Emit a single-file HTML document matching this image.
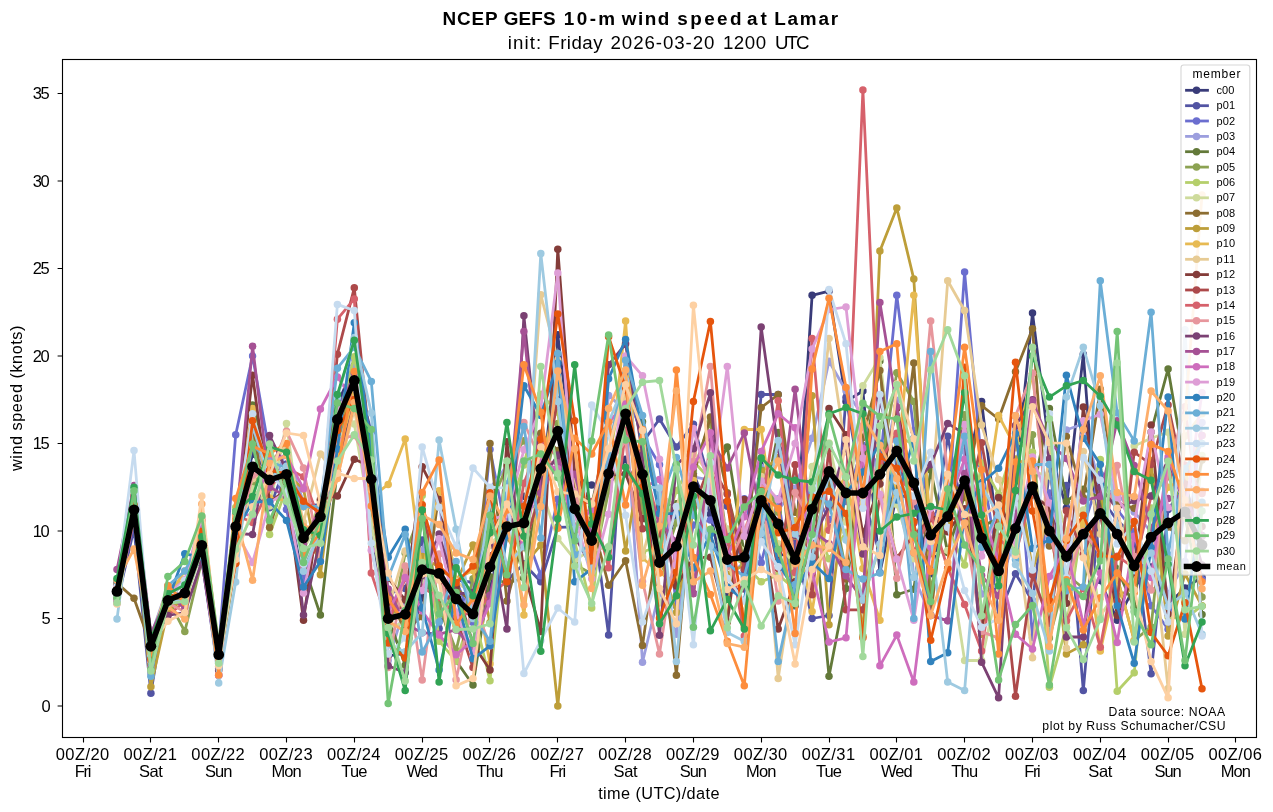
<!DOCTYPE html><html><head><meta charset="utf-8"><title>NCEP GEFS 10-m wind speed at Lamar</title><style>
html,body{margin:0;padding:0;background:#fff}
#fig{position:relative;width:1273px;height:812px;overflow:hidden;background:#fff;font-family:"Liberation Sans",sans-serif;color:#000}
.t{position:absolute;white-space:nowrap;line-height:1}
#tx{position:absolute;left:0;top:0;width:1273px;height:812px;will-change:transform;filter:grayscale(1)}

</style></head><body><div id="fig">
<svg width="1273" height="812" viewBox="0 0 1273 812" style="position:absolute;left:0;top:0">
<defs><clipPath id="c"><rect x="62.5" y="59.5" width="1194.0" height="678.0"/></clipPath></defs>
<g clip-path="url(#c)" fill="none" stroke-linejoin="round" stroke-linecap="square">
<g stroke="#393b79" fill="#393b79"><polyline points="117,588.2 134,511 150.9,650.5 167.9,608.7 184.8,597.9 201.8,529.8 218.7,649.8 235.7,514 252.6,454.4 269.6,472.4 286.5,469.2 303.5,579.1 320.4,505.4 337.4,404.3 354.3,365.4 371.3,520.5 388.2,656 405.2,653.3 422.2,597.7 439.1,569 456.1,599.6 473,600.1 490,588.8 506.9,520.7 523.9,496.2 540.8,500.4 557.8,334.8 574.7,476.4 591.7,485.1 608.6,485.7 625.6,459.2 642.5,505.8 659.5,569.9 676.4,511.9 693.4,473.6 710.4,513.9 727.3,594.7 744.3,586.1 761.2,458.4 778.2,555.1 795.1,554.1 812.1,295.3 829,291.2 846,401.5 862.9,391 879.9,572.6 896.8,494.1 913.8,499.5 930.7,573.7 947.7,499.7 964.6,480.2 981.6,401.5 998.6,543.8 1015.5,481 1032.5,312.9 1049.4,449.1 1066.4,508.1 1083.3,354.2 1100.3,580.5 1117.2,620.2 1134.2,587.4 1151.1,567 1168.1,604.3 1185,587.9 1202,577.2" stroke-width="2.78" fill="none"/>
<circle cx="117" cy="588.2" r="3.75" stroke="none"/><circle cx="134" cy="511" r="3.75" stroke="none"/><circle cx="150.9" cy="650.5" r="3.75" stroke="none"/><circle cx="167.9" cy="608.7" r="3.75" stroke="none"/><circle cx="184.8" cy="597.9" r="3.75" stroke="none"/><circle cx="201.8" cy="529.8" r="3.75" stroke="none"/><circle cx="218.7" cy="649.8" r="3.75" stroke="none"/><circle cx="235.7" cy="514" r="3.75" stroke="none"/><circle cx="252.6" cy="454.4" r="3.75" stroke="none"/><circle cx="269.6" cy="472.4" r="3.75" stroke="none"/><circle cx="286.5" cy="469.2" r="3.75" stroke="none"/><circle cx="303.5" cy="579.1" r="3.75" stroke="none"/><circle cx="320.4" cy="505.4" r="3.75" stroke="none"/><circle cx="337.4" cy="404.3" r="3.75" stroke="none"/><circle cx="354.3" cy="365.4" r="3.75" stroke="none"/><circle cx="371.3" cy="520.5" r="3.75" stroke="none"/><circle cx="388.2" cy="656" r="3.75" stroke="none"/><circle cx="405.2" cy="653.3" r="3.75" stroke="none"/><circle cx="422.2" cy="597.7" r="3.75" stroke="none"/><circle cx="439.1" cy="569" r="3.75" stroke="none"/><circle cx="456.1" cy="599.6" r="3.75" stroke="none"/><circle cx="473" cy="600.1" r="3.75" stroke="none"/><circle cx="490" cy="588.8" r="3.75" stroke="none"/><circle cx="506.9" cy="520.7" r="3.75" stroke="none"/><circle cx="523.9" cy="496.2" r="3.75" stroke="none"/><circle cx="540.8" cy="500.4" r="3.75" stroke="none"/><circle cx="557.8" cy="334.8" r="3.75" stroke="none"/><circle cx="574.7" cy="476.4" r="3.75" stroke="none"/><circle cx="591.7" cy="485.1" r="3.75" stroke="none"/><circle cx="608.6" cy="485.7" r="3.75" stroke="none"/><circle cx="625.6" cy="459.2" r="3.75" stroke="none"/><circle cx="642.5" cy="505.8" r="3.75" stroke="none"/><circle cx="659.5" cy="569.9" r="3.75" stroke="none"/><circle cx="676.4" cy="511.9" r="3.75" stroke="none"/><circle cx="693.4" cy="473.6" r="3.75" stroke="none"/><circle cx="710.4" cy="513.9" r="3.75" stroke="none"/><circle cx="727.3" cy="594.7" r="3.75" stroke="none"/><circle cx="744.3" cy="586.1" r="3.75" stroke="none"/><circle cx="761.2" cy="458.4" r="3.75" stroke="none"/><circle cx="778.2" cy="555.1" r="3.75" stroke="none"/><circle cx="795.1" cy="554.1" r="3.75" stroke="none"/><circle cx="812.1" cy="295.3" r="3.75" stroke="none"/><circle cx="829" cy="291.2" r="3.75" stroke="none"/><circle cx="846" cy="401.5" r="3.75" stroke="none"/><circle cx="862.9" cy="391" r="3.75" stroke="none"/><circle cx="879.9" cy="572.6" r="3.75" stroke="none"/><circle cx="896.8" cy="494.1" r="3.75" stroke="none"/><circle cx="913.8" cy="499.5" r="3.75" stroke="none"/><circle cx="930.7" cy="573.7" r="3.75" stroke="none"/><circle cx="947.7" cy="499.7" r="3.75" stroke="none"/><circle cx="964.6" cy="480.2" r="3.75" stroke="none"/><circle cx="981.6" cy="401.5" r="3.75" stroke="none"/><circle cx="998.6" cy="543.8" r="3.75" stroke="none"/><circle cx="1015.5" cy="481" r="3.75" stroke="none"/><circle cx="1032.5" cy="312.9" r="3.75" stroke="none"/><circle cx="1049.4" cy="449.1" r="3.75" stroke="none"/><circle cx="1066.4" cy="508.1" r="3.75" stroke="none"/><circle cx="1083.3" cy="354.2" r="3.75" stroke="none"/><circle cx="1100.3" cy="580.5" r="3.75" stroke="none"/><circle cx="1117.2" cy="620.2" r="3.75" stroke="none"/><circle cx="1134.2" cy="587.4" r="3.75" stroke="none"/><circle cx="1151.1" cy="567" r="3.75" stroke="none"/><circle cx="1168.1" cy="604.3" r="3.75" stroke="none"/><circle cx="1185" cy="587.9" r="3.75" stroke="none"/><circle cx="1202" cy="577.2" r="3.75" stroke="none"/></g>
<g stroke="#5254a3" fill="#5254a3"><polyline points="117,602.9 134,528.7 150.9,693.2 167.9,589.5 184.8,582.1 201.8,559.5 218.7,675.2 235.7,534.1 252.6,491.6 269.6,507.7 286.5,464 303.5,504.6 320.4,505.1 337.4,410.6 354.3,368.4 371.3,431.9 388.2,593.6 405.2,588.6 422.2,540.1 439.1,628.5 456.1,580 473,582.3 490,510 506.9,580.7 523.9,563.7 540.8,581.8 557.8,527.3 574.7,526.8 591.7,506.9 608.6,635.1 625.6,375.2 642.5,442.6 659.5,419 676.4,447 693.4,424.2 710.4,484.6 727.3,506.3 744.3,570.4 761.2,394.5 778.2,394.5 795.1,546.4 812.1,618.5 829,615.5 846,397.6 862.9,494.9 879.9,554.3 896.8,478.9 913.8,498.1 930.7,551 947.7,436.3 964.6,520.9 981.6,482.4 998.6,615.7 1015.5,573.7 1032.5,601 1049.4,473.1 1066.4,485.5 1083.3,690.6 1100.3,497.4 1117.2,520.3 1134.2,536.6 1151.1,673.8 1168.1,509.6 1185,485.7 1202,535.5" stroke-width="2.78" fill="none"/>
<circle cx="117" cy="602.9" r="3.75" stroke="none"/><circle cx="134" cy="528.7" r="3.75" stroke="none"/><circle cx="150.9" cy="693.2" r="3.75" stroke="none"/><circle cx="167.9" cy="589.5" r="3.75" stroke="none"/><circle cx="184.8" cy="582.1" r="3.75" stroke="none"/><circle cx="201.8" cy="559.5" r="3.75" stroke="none"/><circle cx="218.7" cy="675.2" r="3.75" stroke="none"/><circle cx="235.7" cy="534.1" r="3.75" stroke="none"/><circle cx="252.6" cy="491.6" r="3.75" stroke="none"/><circle cx="269.6" cy="507.7" r="3.75" stroke="none"/><circle cx="286.5" cy="464" r="3.75" stroke="none"/><circle cx="303.5" cy="504.6" r="3.75" stroke="none"/><circle cx="320.4" cy="505.1" r="3.75" stroke="none"/><circle cx="337.4" cy="410.6" r="3.75" stroke="none"/><circle cx="354.3" cy="368.4" r="3.75" stroke="none"/><circle cx="371.3" cy="431.9" r="3.75" stroke="none"/><circle cx="388.2" cy="593.6" r="3.75" stroke="none"/><circle cx="405.2" cy="588.6" r="3.75" stroke="none"/><circle cx="422.2" cy="540.1" r="3.75" stroke="none"/><circle cx="439.1" cy="628.5" r="3.75" stroke="none"/><circle cx="456.1" cy="580" r="3.75" stroke="none"/><circle cx="473" cy="582.3" r="3.75" stroke="none"/><circle cx="490" cy="510" r="3.75" stroke="none"/><circle cx="506.9" cy="580.7" r="3.75" stroke="none"/><circle cx="523.9" cy="563.7" r="3.75" stroke="none"/><circle cx="540.8" cy="581.8" r="3.75" stroke="none"/><circle cx="557.8" cy="527.3" r="3.75" stroke="none"/><circle cx="574.7" cy="526.8" r="3.75" stroke="none"/><circle cx="591.7" cy="506.9" r="3.75" stroke="none"/><circle cx="608.6" cy="635.1" r="3.75" stroke="none"/><circle cx="625.6" cy="375.2" r="3.75" stroke="none"/><circle cx="642.5" cy="442.6" r="3.75" stroke="none"/><circle cx="659.5" cy="419" r="3.75" stroke="none"/><circle cx="676.4" cy="447" r="3.75" stroke="none"/><circle cx="693.4" cy="424.2" r="3.75" stroke="none"/><circle cx="710.4" cy="484.6" r="3.75" stroke="none"/><circle cx="727.3" cy="506.3" r="3.75" stroke="none"/><circle cx="744.3" cy="570.4" r="3.75" stroke="none"/><circle cx="761.2" cy="394.5" r="3.75" stroke="none"/><circle cx="778.2" cy="394.5" r="3.75" stroke="none"/><circle cx="795.1" cy="546.4" r="3.75" stroke="none"/><circle cx="812.1" cy="618.5" r="3.75" stroke="none"/><circle cx="829" cy="615.5" r="3.75" stroke="none"/><circle cx="846" cy="397.6" r="3.75" stroke="none"/><circle cx="862.9" cy="494.9" r="3.75" stroke="none"/><circle cx="879.9" cy="554.3" r="3.75" stroke="none"/><circle cx="896.8" cy="478.9" r="3.75" stroke="none"/><circle cx="913.8" cy="498.1" r="3.75" stroke="none"/><circle cx="930.7" cy="551" r="3.75" stroke="none"/><circle cx="947.7" cy="436.3" r="3.75" stroke="none"/><circle cx="964.6" cy="520.9" r="3.75" stroke="none"/><circle cx="981.6" cy="482.4" r="3.75" stroke="none"/><circle cx="998.6" cy="615.7" r="3.75" stroke="none"/><circle cx="1015.5" cy="573.7" r="3.75" stroke="none"/><circle cx="1032.5" cy="601" r="3.75" stroke="none"/><circle cx="1049.4" cy="473.1" r="3.75" stroke="none"/><circle cx="1066.4" cy="485.5" r="3.75" stroke="none"/><circle cx="1083.3" cy="690.6" r="3.75" stroke="none"/><circle cx="1100.3" cy="497.4" r="3.75" stroke="none"/><circle cx="1117.2" cy="520.3" r="3.75" stroke="none"/><circle cx="1134.2" cy="536.6" r="3.75" stroke="none"/><circle cx="1151.1" cy="673.8" r="3.75" stroke="none"/><circle cx="1168.1" cy="509.6" r="3.75" stroke="none"/><circle cx="1185" cy="485.7" r="3.75" stroke="none"/><circle cx="1202" cy="535.5" r="3.75" stroke="none"/></g>
<g stroke="#6b6ecf" fill="#6b6ecf"><polyline points="117,586 134,492.3 150.9,636.9 167.9,602.2 184.8,597.5 201.8,546.4 218.7,648.2 235.7,434.8 252.6,356 269.6,453.6 286.5,509.6 303.5,580.7 320.4,520.7 337.4,410.8 354.3,373 371.3,488.6 388.2,605 405.2,600.3 422.2,583.9 439.1,491.8 456.1,580 473,622.4 490,449.6 506.9,534.9 523.9,527.9 540.8,575.8 557.8,499 574.7,484.4 591.7,566.2 608.6,487.9 625.6,388.6 642.5,436 659.5,464.7 676.4,606.1 693.4,525 710.4,520 727.3,537.8 744.3,498.8 761.2,562.7 778.2,499.1 795.1,605.9 812.1,487.6 829,519.6 846,501.4 862.9,445.2 879.9,465.9 896.8,295.3 913.8,430.7 930.7,513.5 947.7,516.5 964.6,272 981.6,464.7 998.6,567 1015.5,415.7 1032.5,637.8 1049.4,493 1066.4,559 1083.3,527.1 1100.3,474.3 1117.2,509.5 1134.2,531.7 1151.1,605.7 1168.1,629.2 1185,505.4 1202,579.6" stroke-width="2.78" fill="none"/>
<circle cx="117" cy="586" r="3.75" stroke="none"/><circle cx="134" cy="492.3" r="3.75" stroke="none"/><circle cx="150.9" cy="636.9" r="3.75" stroke="none"/><circle cx="167.9" cy="602.2" r="3.75" stroke="none"/><circle cx="184.8" cy="597.5" r="3.75" stroke="none"/><circle cx="201.8" cy="546.4" r="3.75" stroke="none"/><circle cx="218.7" cy="648.2" r="3.75" stroke="none"/><circle cx="235.7" cy="434.8" r="3.75" stroke="none"/><circle cx="252.6" cy="356" r="3.75" stroke="none"/><circle cx="269.6" cy="453.6" r="3.75" stroke="none"/><circle cx="286.5" cy="509.6" r="3.75" stroke="none"/><circle cx="303.5" cy="580.7" r="3.75" stroke="none"/><circle cx="320.4" cy="520.7" r="3.75" stroke="none"/><circle cx="337.4" cy="410.8" r="3.75" stroke="none"/><circle cx="354.3" cy="373" r="3.75" stroke="none"/><circle cx="371.3" cy="488.6" r="3.75" stroke="none"/><circle cx="388.2" cy="605" r="3.75" stroke="none"/><circle cx="405.2" cy="600.3" r="3.75" stroke="none"/><circle cx="422.2" cy="583.9" r="3.75" stroke="none"/><circle cx="439.1" cy="491.8" r="3.75" stroke="none"/><circle cx="456.1" cy="580" r="3.75" stroke="none"/><circle cx="473" cy="622.4" r="3.75" stroke="none"/><circle cx="490" cy="449.6" r="3.75" stroke="none"/><circle cx="506.9" cy="534.9" r="3.75" stroke="none"/><circle cx="523.9" cy="527.9" r="3.75" stroke="none"/><circle cx="540.8" cy="575.8" r="3.75" stroke="none"/><circle cx="557.8" cy="499" r="3.75" stroke="none"/><circle cx="574.7" cy="484.4" r="3.75" stroke="none"/><circle cx="591.7" cy="566.2" r="3.75" stroke="none"/><circle cx="608.6" cy="487.9" r="3.75" stroke="none"/><circle cx="625.6" cy="388.6" r="3.75" stroke="none"/><circle cx="642.5" cy="436" r="3.75" stroke="none"/><circle cx="659.5" cy="464.7" r="3.75" stroke="none"/><circle cx="676.4" cy="606.1" r="3.75" stroke="none"/><circle cx="693.4" cy="525" r="3.75" stroke="none"/><circle cx="710.4" cy="520" r="3.75" stroke="none"/><circle cx="727.3" cy="537.8" r="3.75" stroke="none"/><circle cx="744.3" cy="498.8" r="3.75" stroke="none"/><circle cx="761.2" cy="562.7" r="3.75" stroke="none"/><circle cx="778.2" cy="499.1" r="3.75" stroke="none"/><circle cx="795.1" cy="605.9" r="3.75" stroke="none"/><circle cx="812.1" cy="487.6" r="3.75" stroke="none"/><circle cx="829" cy="519.6" r="3.75" stroke="none"/><circle cx="846" cy="501.4" r="3.75" stroke="none"/><circle cx="862.9" cy="445.2" r="3.75" stroke="none"/><circle cx="879.9" cy="465.9" r="3.75" stroke="none"/><circle cx="896.8" cy="295.3" r="3.75" stroke="none"/><circle cx="913.8" cy="430.7" r="3.75" stroke="none"/><circle cx="930.7" cy="513.5" r="3.75" stroke="none"/><circle cx="947.7" cy="516.5" r="3.75" stroke="none"/><circle cx="964.6" cy="272" r="3.75" stroke="none"/><circle cx="981.6" cy="464.7" r="3.75" stroke="none"/><circle cx="998.6" cy="567" r="3.75" stroke="none"/><circle cx="1015.5" cy="415.7" r="3.75" stroke="none"/><circle cx="1032.5" cy="637.8" r="3.75" stroke="none"/><circle cx="1049.4" cy="493" r="3.75" stroke="none"/><circle cx="1066.4" cy="559" r="3.75" stroke="none"/><circle cx="1083.3" cy="527.1" r="3.75" stroke="none"/><circle cx="1100.3" cy="474.3" r="3.75" stroke="none"/><circle cx="1117.2" cy="509.5" r="3.75" stroke="none"/><circle cx="1134.2" cy="531.7" r="3.75" stroke="none"/><circle cx="1151.1" cy="605.7" r="3.75" stroke="none"/><circle cx="1168.1" cy="629.2" r="3.75" stroke="none"/><circle cx="1185" cy="505.4" r="3.75" stroke="none"/><circle cx="1202" cy="579.6" r="3.75" stroke="none"/></g>
<g stroke="#9c9ede" fill="#9c9ede"><polyline points="117,603.3 134,501.9 150.9,636 167.9,586.8 184.8,598.4 201.8,546.4 218.7,667.7 235.7,521.7 252.6,428.3 269.6,489.7 286.5,451.2 303.5,502.3 320.4,512.8 337.4,471.3 354.3,359.1 371.3,475.5 388.2,660.5 405.2,605.9 422.2,550.8 439.1,502.5 456.1,619.4 473,587.7 490,488.3 506.9,465.5 523.9,505.3 540.8,507.4 557.8,379.3 574.7,497.6 591.7,532.6 608.6,395.4 625.6,410.8 642.5,662.2 659.5,591 676.4,634.2 693.4,476.8 710.4,480.1 727.3,576.9 744.3,562.3 761.2,467.6 778.2,510 795.1,488.3 812.1,438.2 829,361.2 846,390.7 862.9,415.9 879.9,483.4 896.8,400.3 913.8,577 930.7,615 947.7,620.8 964.6,451 981.6,594 998.6,584 1015.5,540.1 1032.5,492 1049.4,545 1066.4,430 1083.3,423.7 1100.3,486.9 1117.2,494.2 1134.2,511.9 1151.1,531.9 1168.1,594.2 1185,561.6 1202,422.5" stroke-width="2.78" fill="none"/>
<circle cx="117" cy="603.3" r="3.75" stroke="none"/><circle cx="134" cy="501.9" r="3.75" stroke="none"/><circle cx="150.9" cy="636" r="3.75" stroke="none"/><circle cx="167.9" cy="586.8" r="3.75" stroke="none"/><circle cx="184.8" cy="598.4" r="3.75" stroke="none"/><circle cx="201.8" cy="546.4" r="3.75" stroke="none"/><circle cx="218.7" cy="667.7" r="3.75" stroke="none"/><circle cx="235.7" cy="521.7" r="3.75" stroke="none"/><circle cx="252.6" cy="428.3" r="3.75" stroke="none"/><circle cx="269.6" cy="489.7" r="3.75" stroke="none"/><circle cx="286.5" cy="451.2" r="3.75" stroke="none"/><circle cx="303.5" cy="502.3" r="3.75" stroke="none"/><circle cx="320.4" cy="512.8" r="3.75" stroke="none"/><circle cx="337.4" cy="471.3" r="3.75" stroke="none"/><circle cx="354.3" cy="359.1" r="3.75" stroke="none"/><circle cx="371.3" cy="475.5" r="3.75" stroke="none"/><circle cx="388.2" cy="660.5" r="3.75" stroke="none"/><circle cx="405.2" cy="605.9" r="3.75" stroke="none"/><circle cx="422.2" cy="550.8" r="3.75" stroke="none"/><circle cx="439.1" cy="502.5" r="3.75" stroke="none"/><circle cx="456.1" cy="619.4" r="3.75" stroke="none"/><circle cx="473" cy="587.7" r="3.75" stroke="none"/><circle cx="490" cy="488.3" r="3.75" stroke="none"/><circle cx="506.9" cy="465.5" r="3.75" stroke="none"/><circle cx="523.9" cy="505.3" r="3.75" stroke="none"/><circle cx="540.8" cy="507.4" r="3.75" stroke="none"/><circle cx="557.8" cy="379.3" r="3.75" stroke="none"/><circle cx="574.7" cy="497.6" r="3.75" stroke="none"/><circle cx="591.7" cy="532.6" r="3.75" stroke="none"/><circle cx="608.6" cy="395.4" r="3.75" stroke="none"/><circle cx="625.6" cy="410.8" r="3.75" stroke="none"/><circle cx="642.5" cy="662.2" r="3.75" stroke="none"/><circle cx="659.5" cy="591" r="3.75" stroke="none"/><circle cx="676.4" cy="634.2" r="3.75" stroke="none"/><circle cx="693.4" cy="476.8" r="3.75" stroke="none"/><circle cx="710.4" cy="480.1" r="3.75" stroke="none"/><circle cx="727.3" cy="576.9" r="3.75" stroke="none"/><circle cx="744.3" cy="562.3" r="3.75" stroke="none"/><circle cx="761.2" cy="467.6" r="3.75" stroke="none"/><circle cx="778.2" cy="510" r="3.75" stroke="none"/><circle cx="795.1" cy="488.3" r="3.75" stroke="none"/><circle cx="812.1" cy="438.2" r="3.75" stroke="none"/><circle cx="829" cy="361.2" r="3.75" stroke="none"/><circle cx="846" cy="390.7" r="3.75" stroke="none"/><circle cx="862.9" cy="415.9" r="3.75" stroke="none"/><circle cx="879.9" cy="483.4" r="3.75" stroke="none"/><circle cx="896.8" cy="400.3" r="3.75" stroke="none"/><circle cx="913.8" cy="577" r="3.75" stroke="none"/><circle cx="930.7" cy="615" r="3.75" stroke="none"/><circle cx="947.7" cy="620.8" r="3.75" stroke="none"/><circle cx="964.6" cy="451" r="3.75" stroke="none"/><circle cx="981.6" cy="594" r="3.75" stroke="none"/><circle cx="998.6" cy="584" r="3.75" stroke="none"/><circle cx="1015.5" cy="540.1" r="3.75" stroke="none"/><circle cx="1032.5" cy="492" r="3.75" stroke="none"/><circle cx="1049.4" cy="545" r="3.75" stroke="none"/><circle cx="1066.4" cy="430" r="3.75" stroke="none"/><circle cx="1083.3" cy="423.7" r="3.75" stroke="none"/><circle cx="1100.3" cy="486.9" r="3.75" stroke="none"/><circle cx="1117.2" cy="494.2" r="3.75" stroke="none"/><circle cx="1134.2" cy="511.9" r="3.75" stroke="none"/><circle cx="1151.1" cy="531.9" r="3.75" stroke="none"/><circle cx="1168.1" cy="594.2" r="3.75" stroke="none"/><circle cx="1185" cy="561.6" r="3.75" stroke="none"/><circle cx="1202" cy="422.5" r="3.75" stroke="none"/></g>
<g stroke="#637939" fill="#637939"><polyline points="117,598.4 134,502.8 150.9,635.8 167.9,598.5 184.8,582.6 201.8,539.4 218.7,666.6 235.7,563 252.6,405 269.6,470.8 286.5,482 303.5,564.1 320.4,615 337.4,469.4 354.3,397.1 371.3,514.9 388.2,617.6 405.2,665.2 422.2,578.4 439.1,601.5 456.1,660.7 473,685 490,576.7 506.9,583.5 523.9,577.7 540.8,472.7 557.8,458.7 574.7,486.2 591.7,505.3 608.6,426.2 625.6,397.8 642.5,421.8 659.5,505.4 676.4,503.7 693.4,593.6 710.4,478.7 727.3,447 744.3,554.5 761.2,515.6 778.2,432.5 795.1,605.2 812.1,500.4 829,676.2 846,588.4 862.9,467.6 879.9,360.9 896.8,594.7 913.8,589.3 930.7,470.1 947.7,552.4 964.6,494.9 981.6,526.1 998.6,518.9 1015.5,517.2 1032.5,495.1 1049.4,408.5 1066.4,501.2 1083.3,489.2 1100.3,498.3 1117.2,569 1134.2,607.5 1151.1,431.9 1168.1,368.9 1185,468.2 1202,614.6" stroke-width="2.78" fill="none"/>
<circle cx="117" cy="598.4" r="3.75" stroke="none"/><circle cx="134" cy="502.8" r="3.75" stroke="none"/><circle cx="150.9" cy="635.8" r="3.75" stroke="none"/><circle cx="167.9" cy="598.5" r="3.75" stroke="none"/><circle cx="184.8" cy="582.6" r="3.75" stroke="none"/><circle cx="201.8" cy="539.4" r="3.75" stroke="none"/><circle cx="218.7" cy="666.6" r="3.75" stroke="none"/><circle cx="235.7" cy="563" r="3.75" stroke="none"/><circle cx="252.6" cy="405" r="3.75" stroke="none"/><circle cx="269.6" cy="470.8" r="3.75" stroke="none"/><circle cx="286.5" cy="482" r="3.75" stroke="none"/><circle cx="303.5" cy="564.1" r="3.75" stroke="none"/><circle cx="320.4" cy="615" r="3.75" stroke="none"/><circle cx="337.4" cy="469.4" r="3.75" stroke="none"/><circle cx="354.3" cy="397.1" r="3.75" stroke="none"/><circle cx="371.3" cy="514.9" r="3.75" stroke="none"/><circle cx="388.2" cy="617.6" r="3.75" stroke="none"/><circle cx="405.2" cy="665.2" r="3.75" stroke="none"/><circle cx="422.2" cy="578.4" r="3.75" stroke="none"/><circle cx="439.1" cy="601.5" r="3.75" stroke="none"/><circle cx="456.1" cy="660.7" r="3.75" stroke="none"/><circle cx="473" cy="685" r="3.75" stroke="none"/><circle cx="490" cy="576.7" r="3.75" stroke="none"/><circle cx="506.9" cy="583.5" r="3.75" stroke="none"/><circle cx="523.9" cy="577.7" r="3.75" stroke="none"/><circle cx="540.8" cy="472.7" r="3.75" stroke="none"/><circle cx="557.8" cy="458.7" r="3.75" stroke="none"/><circle cx="574.7" cy="486.2" r="3.75" stroke="none"/><circle cx="591.7" cy="505.3" r="3.75" stroke="none"/><circle cx="608.6" cy="426.2" r="3.75" stroke="none"/><circle cx="625.6" cy="397.8" r="3.75" stroke="none"/><circle cx="642.5" cy="421.8" r="3.75" stroke="none"/><circle cx="659.5" cy="505.4" r="3.75" stroke="none"/><circle cx="676.4" cy="503.7" r="3.75" stroke="none"/><circle cx="693.4" cy="593.6" r="3.75" stroke="none"/><circle cx="710.4" cy="478.7" r="3.75" stroke="none"/><circle cx="727.3" cy="447" r="3.75" stroke="none"/><circle cx="744.3" cy="554.5" r="3.75" stroke="none"/><circle cx="761.2" cy="515.6" r="3.75" stroke="none"/><circle cx="778.2" cy="432.5" r="3.75" stroke="none"/><circle cx="795.1" cy="605.2" r="3.75" stroke="none"/><circle cx="812.1" cy="500.4" r="3.75" stroke="none"/><circle cx="829" cy="676.2" r="3.75" stroke="none"/><circle cx="846" cy="588.4" r="3.75" stroke="none"/><circle cx="862.9" cy="467.6" r="3.75" stroke="none"/><circle cx="879.9" cy="360.9" r="3.75" stroke="none"/><circle cx="896.8" cy="594.7" r="3.75" stroke="none"/><circle cx="913.8" cy="589.3" r="3.75" stroke="none"/><circle cx="930.7" cy="470.1" r="3.75" stroke="none"/><circle cx="947.7" cy="552.4" r="3.75" stroke="none"/><circle cx="964.6" cy="494.9" r="3.75" stroke="none"/><circle cx="981.6" cy="526.1" r="3.75" stroke="none"/><circle cx="998.6" cy="518.9" r="3.75" stroke="none"/><circle cx="1015.5" cy="517.2" r="3.75" stroke="none"/><circle cx="1032.5" cy="495.1" r="3.75" stroke="none"/><circle cx="1049.4" cy="408.5" r="3.75" stroke="none"/><circle cx="1066.4" cy="501.2" r="3.75" stroke="none"/><circle cx="1083.3" cy="489.2" r="3.75" stroke="none"/><circle cx="1100.3" cy="498.3" r="3.75" stroke="none"/><circle cx="1117.2" cy="569" r="3.75" stroke="none"/><circle cx="1134.2" cy="607.5" r="3.75" stroke="none"/><circle cx="1151.1" cy="431.9" r="3.75" stroke="none"/><circle cx="1168.1" cy="368.9" r="3.75" stroke="none"/><circle cx="1185" cy="468.2" r="3.75" stroke="none"/><circle cx="1202" cy="614.6" r="3.75" stroke="none"/></g>
<g stroke="#8ca252" fill="#8ca252"><polyline points="117,586.8 134,492.5 150.9,636.7 167.9,599.2 184.8,631.5 201.8,560.8 218.7,650.5 235.7,521.7 252.6,484.3 269.6,463.3 286.5,444.6 303.5,560.8 320.4,537.8 337.4,417.8 354.3,375.9 371.3,488.6 388.2,639.9 405.2,553.2 422.2,509.8 439.1,605.9 456.1,650.5 473,578.8 490,507 506.9,465.5 523.9,440.7 540.8,499.5 557.8,423.6 574.7,564.6 591.7,573.7 608.6,490.9 625.6,401.5 642.5,510 659.5,570.9 676.4,522.8 693.4,471 710.4,421.4 727.3,542.2 744.3,565.5 761.2,470.3 778.2,512.3 795.1,586.5 812.1,543.6 829,483.2 846,571.2 862.9,488.1 879.9,472.6 896.8,372.8 913.8,401.5 930.7,590.5 947.7,510.4 964.6,414.8 981.6,501.9 998.6,571.4 1015.5,501.6 1032.5,434.8 1049.4,638.1 1066.4,574.2 1083.3,588.2 1100.3,487.9 1117.2,577.2 1134.2,640.4 1151.1,626.9 1168.1,467.5 1185,517.4 1202,597.1" stroke-width="2.78" fill="none"/>
<circle cx="117" cy="586.8" r="3.75" stroke="none"/><circle cx="134" cy="492.5" r="3.75" stroke="none"/><circle cx="150.9" cy="636.7" r="3.75" stroke="none"/><circle cx="167.9" cy="599.2" r="3.75" stroke="none"/><circle cx="184.8" cy="631.5" r="3.75" stroke="none"/><circle cx="201.8" cy="560.8" r="3.75" stroke="none"/><circle cx="218.7" cy="650.5" r="3.75" stroke="none"/><circle cx="235.7" cy="521.7" r="3.75" stroke="none"/><circle cx="252.6" cy="484.3" r="3.75" stroke="none"/><circle cx="269.6" cy="463.3" r="3.75" stroke="none"/><circle cx="286.5" cy="444.6" r="3.75" stroke="none"/><circle cx="303.5" cy="560.8" r="3.75" stroke="none"/><circle cx="320.4" cy="537.8" r="3.75" stroke="none"/><circle cx="337.4" cy="417.8" r="3.75" stroke="none"/><circle cx="354.3" cy="375.9" r="3.75" stroke="none"/><circle cx="371.3" cy="488.6" r="3.75" stroke="none"/><circle cx="388.2" cy="639.9" r="3.75" stroke="none"/><circle cx="405.2" cy="553.2" r="3.75" stroke="none"/><circle cx="422.2" cy="509.8" r="3.75" stroke="none"/><circle cx="439.1" cy="605.9" r="3.75" stroke="none"/><circle cx="456.1" cy="650.5" r="3.75" stroke="none"/><circle cx="473" cy="578.8" r="3.75" stroke="none"/><circle cx="490" cy="507" r="3.75" stroke="none"/><circle cx="506.9" cy="465.5" r="3.75" stroke="none"/><circle cx="523.9" cy="440.7" r="3.75" stroke="none"/><circle cx="540.8" cy="499.5" r="3.75" stroke="none"/><circle cx="557.8" cy="423.6" r="3.75" stroke="none"/><circle cx="574.7" cy="564.6" r="3.75" stroke="none"/><circle cx="591.7" cy="573.7" r="3.75" stroke="none"/><circle cx="608.6" cy="490.9" r="3.75" stroke="none"/><circle cx="625.6" cy="401.5" r="3.75" stroke="none"/><circle cx="642.5" cy="510" r="3.75" stroke="none"/><circle cx="659.5" cy="570.9" r="3.75" stroke="none"/><circle cx="676.4" cy="522.8" r="3.75" stroke="none"/><circle cx="693.4" cy="471" r="3.75" stroke="none"/><circle cx="710.4" cy="421.4" r="3.75" stroke="none"/><circle cx="727.3" cy="542.2" r="3.75" stroke="none"/><circle cx="744.3" cy="565.5" r="3.75" stroke="none"/><circle cx="761.2" cy="470.3" r="3.75" stroke="none"/><circle cx="778.2" cy="512.3" r="3.75" stroke="none"/><circle cx="795.1" cy="586.5" r="3.75" stroke="none"/><circle cx="812.1" cy="543.6" r="3.75" stroke="none"/><circle cx="829" cy="483.2" r="3.75" stroke="none"/><circle cx="846" cy="571.2" r="3.75" stroke="none"/><circle cx="862.9" cy="488.1" r="3.75" stroke="none"/><circle cx="879.9" cy="472.6" r="3.75" stroke="none"/><circle cx="896.8" cy="372.8" r="3.75" stroke="none"/><circle cx="913.8" cy="401.5" r="3.75" stroke="none"/><circle cx="930.7" cy="590.5" r="3.75" stroke="none"/><circle cx="947.7" cy="510.4" r="3.75" stroke="none"/><circle cx="964.6" cy="414.8" r="3.75" stroke="none"/><circle cx="981.6" cy="501.9" r="3.75" stroke="none"/><circle cx="998.6" cy="571.4" r="3.75" stroke="none"/><circle cx="1015.5" cy="501.6" r="3.75" stroke="none"/><circle cx="1032.5" cy="434.8" r="3.75" stroke="none"/><circle cx="1049.4" cy="638.1" r="3.75" stroke="none"/><circle cx="1066.4" cy="574.2" r="3.75" stroke="none"/><circle cx="1083.3" cy="588.2" r="3.75" stroke="none"/><circle cx="1100.3" cy="487.9" r="3.75" stroke="none"/><circle cx="1117.2" cy="577.2" r="3.75" stroke="none"/><circle cx="1134.2" cy="640.4" r="3.75" stroke="none"/><circle cx="1151.1" cy="626.9" r="3.75" stroke="none"/><circle cx="1168.1" cy="467.5" r="3.75" stroke="none"/><circle cx="1185" cy="517.4" r="3.75" stroke="none"/><circle cx="1202" cy="597.1" r="3.75" stroke="none"/></g>
<g stroke="#b5cf6b" fill="#b5cf6b"><polyline points="117,589.1 134,504.4 150.9,642.8 167.9,588 184.8,580 201.8,541.3 218.7,650 235.7,507.6 252.6,434.6 269.6,534.5 286.5,488.3 303.5,546.6 320.4,500.9 337.4,423.2 354.3,356.7 371.3,455.8 388.2,591.9 405.2,612 422.2,495.6 439.1,641.2 456.1,661.2 473,609.8 490,680.8 506.9,516.3 523.9,464.9 540.8,394.3 557.8,412.3 574.7,541.5 591.7,608 608.6,455.8 625.6,378.8 642.5,552 659.5,546 676.4,490.4 693.4,461.2 710.4,479.7 727.3,552.7 744.3,564.8 761.2,581.8 778.2,574.6 795.1,589.5 812.1,517.9 829,558.8 846,532.2 862.9,600.1 879.9,545.5 896.8,435.4 913.8,444.4 930.7,528.9 947.7,528 964.6,565.1 981.6,463.1 998.6,494.2 1015.5,440.9 1032.5,452.2 1049.4,687.3 1066.4,626.7 1083.3,515.6 1100.3,459.6 1117.2,691.3 1134.2,672.8 1151.1,508.1 1168.1,617.1 1185,618.9 1202,605.7" stroke-width="2.78" fill="none"/>
<circle cx="117" cy="589.1" r="3.75" stroke="none"/><circle cx="134" cy="504.4" r="3.75" stroke="none"/><circle cx="150.9" cy="642.8" r="3.75" stroke="none"/><circle cx="167.9" cy="588" r="3.75" stroke="none"/><circle cx="184.8" cy="580" r="3.75" stroke="none"/><circle cx="201.8" cy="541.3" r="3.75" stroke="none"/><circle cx="218.7" cy="650" r="3.75" stroke="none"/><circle cx="235.7" cy="507.6" r="3.75" stroke="none"/><circle cx="252.6" cy="434.6" r="3.75" stroke="none"/><circle cx="269.6" cy="534.5" r="3.75" stroke="none"/><circle cx="286.5" cy="488.3" r="3.75" stroke="none"/><circle cx="303.5" cy="546.6" r="3.75" stroke="none"/><circle cx="320.4" cy="500.9" r="3.75" stroke="none"/><circle cx="337.4" cy="423.2" r="3.75" stroke="none"/><circle cx="354.3" cy="356.7" r="3.75" stroke="none"/><circle cx="371.3" cy="455.8" r="3.75" stroke="none"/><circle cx="388.2" cy="591.9" r="3.75" stroke="none"/><circle cx="405.2" cy="612" r="3.75" stroke="none"/><circle cx="422.2" cy="495.6" r="3.75" stroke="none"/><circle cx="439.1" cy="641.2" r="3.75" stroke="none"/><circle cx="456.1" cy="661.2" r="3.75" stroke="none"/><circle cx="473" cy="609.8" r="3.75" stroke="none"/><circle cx="490" cy="680.8" r="3.75" stroke="none"/><circle cx="506.9" cy="516.3" r="3.75" stroke="none"/><circle cx="523.9" cy="464.9" r="3.75" stroke="none"/><circle cx="540.8" cy="394.3" r="3.75" stroke="none"/><circle cx="557.8" cy="412.3" r="3.75" stroke="none"/><circle cx="574.7" cy="541.5" r="3.75" stroke="none"/><circle cx="591.7" cy="608" r="3.75" stroke="none"/><circle cx="608.6" cy="455.8" r="3.75" stroke="none"/><circle cx="625.6" cy="378.8" r="3.75" stroke="none"/><circle cx="642.5" cy="552" r="3.75" stroke="none"/><circle cx="659.5" cy="546" r="3.75" stroke="none"/><circle cx="676.4" cy="490.4" r="3.75" stroke="none"/><circle cx="693.4" cy="461.2" r="3.75" stroke="none"/><circle cx="710.4" cy="479.7" r="3.75" stroke="none"/><circle cx="727.3" cy="552.7" r="3.75" stroke="none"/><circle cx="744.3" cy="564.8" r="3.75" stroke="none"/><circle cx="761.2" cy="581.8" r="3.75" stroke="none"/><circle cx="778.2" cy="574.6" r="3.75" stroke="none"/><circle cx="795.1" cy="589.5" r="3.75" stroke="none"/><circle cx="812.1" cy="517.9" r="3.75" stroke="none"/><circle cx="829" cy="558.8" r="3.75" stroke="none"/><circle cx="846" cy="532.2" r="3.75" stroke="none"/><circle cx="862.9" cy="600.1" r="3.75" stroke="none"/><circle cx="879.9" cy="545.5" r="3.75" stroke="none"/><circle cx="896.8" cy="435.4" r="3.75" stroke="none"/><circle cx="913.8" cy="444.4" r="3.75" stroke="none"/><circle cx="930.7" cy="528.9" r="3.75" stroke="none"/><circle cx="947.7" cy="528" r="3.75" stroke="none"/><circle cx="964.6" cy="565.1" r="3.75" stroke="none"/><circle cx="981.6" cy="463.1" r="3.75" stroke="none"/><circle cx="998.6" cy="494.2" r="3.75" stroke="none"/><circle cx="1015.5" cy="440.9" r="3.75" stroke="none"/><circle cx="1032.5" cy="452.2" r="3.75" stroke="none"/><circle cx="1049.4" cy="687.3" r="3.75" stroke="none"/><circle cx="1066.4" cy="626.7" r="3.75" stroke="none"/><circle cx="1083.3" cy="515.6" r="3.75" stroke="none"/><circle cx="1100.3" cy="459.6" r="3.75" stroke="none"/><circle cx="1117.2" cy="691.3" r="3.75" stroke="none"/><circle cx="1134.2" cy="672.8" r="3.75" stroke="none"/><circle cx="1151.1" cy="508.1" r="3.75" stroke="none"/><circle cx="1168.1" cy="617.1" r="3.75" stroke="none"/><circle cx="1185" cy="618.9" r="3.75" stroke="none"/><circle cx="1202" cy="605.7" r="3.75" stroke="none"/></g>
<g stroke="#cedb9c" fill="#cedb9c"><polyline points="117,602 134,513.5 150.9,644.6 167.9,595 184.8,582.6 201.8,518.2 218.7,643.2 235.7,544.6 252.6,488.8 269.6,506 286.5,423.4 303.5,549 320.4,519.1 337.4,408.2 354.3,423.9 371.3,522.6 388.2,627.1 405.2,622.7 422.2,582.8 439.1,579.6 456.1,625.5 473,600.5 490,545.2 506.9,525.6 523.9,548.1 540.8,488.3 557.8,538.4 574.7,559.4 591.7,550.4 608.6,547.1 625.6,425.1 642.5,470.8 659.5,603.1 676.4,574 693.4,513.1 710.4,482.5 727.3,529.1 744.3,550.6 761.2,527.7 778.2,543.8 795.1,565 812.1,466.6 829,443 846,522.1 862.9,385.8 879.9,357.8 896.8,504.4 913.8,558.8 930.7,554.8 947.7,550.4 964.6,660.5 981.6,660.5 998.6,583.7 1015.5,415.7 1032.5,471.9 1049.4,475.9 1066.4,531.4 1083.3,510 1100.3,615.7 1117.2,590.9 1134.2,446.1 1151.1,438.2 1168.1,432.3 1185,634.2 1202,455.6" stroke-width="2.78" fill="none"/>
<circle cx="117" cy="602" r="3.75" stroke="none"/><circle cx="134" cy="513.5" r="3.75" stroke="none"/><circle cx="150.9" cy="644.6" r="3.75" stroke="none"/><circle cx="167.9" cy="595" r="3.75" stroke="none"/><circle cx="184.8" cy="582.6" r="3.75" stroke="none"/><circle cx="201.8" cy="518.2" r="3.75" stroke="none"/><circle cx="218.7" cy="643.2" r="3.75" stroke="none"/><circle cx="235.7" cy="544.6" r="3.75" stroke="none"/><circle cx="252.6" cy="488.8" r="3.75" stroke="none"/><circle cx="269.6" cy="506" r="3.75" stroke="none"/><circle cx="286.5" cy="423.4" r="3.75" stroke="none"/><circle cx="303.5" cy="549" r="3.75" stroke="none"/><circle cx="320.4" cy="519.1" r="3.75" stroke="none"/><circle cx="337.4" cy="408.2" r="3.75" stroke="none"/><circle cx="354.3" cy="423.9" r="3.75" stroke="none"/><circle cx="371.3" cy="522.6" r="3.75" stroke="none"/><circle cx="388.2" cy="627.1" r="3.75" stroke="none"/><circle cx="405.2" cy="622.7" r="3.75" stroke="none"/><circle cx="422.2" cy="582.8" r="3.75" stroke="none"/><circle cx="439.1" cy="579.6" r="3.75" stroke="none"/><circle cx="456.1" cy="625.5" r="3.75" stroke="none"/><circle cx="473" cy="600.5" r="3.75" stroke="none"/><circle cx="490" cy="545.2" r="3.75" stroke="none"/><circle cx="506.9" cy="525.6" r="3.75" stroke="none"/><circle cx="523.9" cy="548.1" r="3.75" stroke="none"/><circle cx="540.8" cy="488.3" r="3.75" stroke="none"/><circle cx="557.8" cy="538.4" r="3.75" stroke="none"/><circle cx="574.7" cy="559.4" r="3.75" stroke="none"/><circle cx="591.7" cy="550.4" r="3.75" stroke="none"/><circle cx="608.6" cy="547.1" r="3.75" stroke="none"/><circle cx="625.6" cy="425.1" r="3.75" stroke="none"/><circle cx="642.5" cy="470.8" r="3.75" stroke="none"/><circle cx="659.5" cy="603.1" r="3.75" stroke="none"/><circle cx="676.4" cy="574" r="3.75" stroke="none"/><circle cx="693.4" cy="513.1" r="3.75" stroke="none"/><circle cx="710.4" cy="482.5" r="3.75" stroke="none"/><circle cx="727.3" cy="529.1" r="3.75" stroke="none"/><circle cx="744.3" cy="550.6" r="3.75" stroke="none"/><circle cx="761.2" cy="527.7" r="3.75" stroke="none"/><circle cx="778.2" cy="543.8" r="3.75" stroke="none"/><circle cx="795.1" cy="565" r="3.75" stroke="none"/><circle cx="812.1" cy="466.6" r="3.75" stroke="none"/><circle cx="829" cy="443" r="3.75" stroke="none"/><circle cx="846" cy="522.1" r="3.75" stroke="none"/><circle cx="862.9" cy="385.8" r="3.75" stroke="none"/><circle cx="879.9" cy="357.8" r="3.75" stroke="none"/><circle cx="896.8" cy="504.4" r="3.75" stroke="none"/><circle cx="913.8" cy="558.8" r="3.75" stroke="none"/><circle cx="930.7" cy="554.8" r="3.75" stroke="none"/><circle cx="947.7" cy="550.4" r="3.75" stroke="none"/><circle cx="964.6" cy="660.5" r="3.75" stroke="none"/><circle cx="981.6" cy="660.5" r="3.75" stroke="none"/><circle cx="998.6" cy="583.7" r="3.75" stroke="none"/><circle cx="1015.5" cy="415.7" r="3.75" stroke="none"/><circle cx="1032.5" cy="471.9" r="3.75" stroke="none"/><circle cx="1049.4" cy="475.9" r="3.75" stroke="none"/><circle cx="1066.4" cy="531.4" r="3.75" stroke="none"/><circle cx="1083.3" cy="510" r="3.75" stroke="none"/><circle cx="1100.3" cy="615.7" r="3.75" stroke="none"/><circle cx="1117.2" cy="590.9" r="3.75" stroke="none"/><circle cx="1134.2" cy="446.1" r="3.75" stroke="none"/><circle cx="1151.1" cy="438.2" r="3.75" stroke="none"/><circle cx="1168.1" cy="432.3" r="3.75" stroke="none"/><circle cx="1185" cy="634.2" r="3.75" stroke="none"/><circle cx="1202" cy="455.6" r="3.75" stroke="none"/></g>
<g stroke="#8c6d31" fill="#8c6d31"><polyline points="117,583.1 134,598.2 150.9,645.8 167.9,596.3 184.8,602.9 201.8,530.5 218.7,663.3 235.7,526.1 252.6,424.8 269.6,527.5 286.5,472.7 303.5,506.7 320.4,508.8 337.4,439.8 354.3,378.8 371.3,462.8 388.2,598 405.2,629.5 422.2,616.8 439.1,491.8 456.1,588 473,603.3 490,443.5 506.9,601 523.9,537 540.8,433.2 557.8,450.5 574.7,532 591.7,520.1 608.6,585.2 625.6,560.8 642.5,645.6 659.5,525.6 676.4,675.2 693.4,475.4 710.4,417.1 727.3,492.7 744.3,562.3 761.2,407.6 778.2,394.5 795.1,512.3 812.1,526.6 829,480.1 846,579 862.9,437.4 879.9,370.5 896.8,496.5 913.8,363 930.7,615.5 947.7,476 964.6,497.6 981.6,405.7 998.6,419 1015.5,371.8 1032.5,328.7 1049.4,546 1066.4,436.5 1083.3,497.8 1100.3,389.2 1117.2,502.6 1134.2,508.2 1151.1,476.8 1168.1,527.1 1185,540.8 1202,460.1" stroke-width="2.78" fill="none"/>
<circle cx="117" cy="583.1" r="3.75" stroke="none"/><circle cx="134" cy="598.2" r="3.75" stroke="none"/><circle cx="150.9" cy="645.8" r="3.75" stroke="none"/><circle cx="167.9" cy="596.3" r="3.75" stroke="none"/><circle cx="184.8" cy="602.9" r="3.75" stroke="none"/><circle cx="201.8" cy="530.5" r="3.75" stroke="none"/><circle cx="218.7" cy="663.3" r="3.75" stroke="none"/><circle cx="235.7" cy="526.1" r="3.75" stroke="none"/><circle cx="252.6" cy="424.8" r="3.75" stroke="none"/><circle cx="269.6" cy="527.5" r="3.75" stroke="none"/><circle cx="286.5" cy="472.7" r="3.75" stroke="none"/><circle cx="303.5" cy="506.7" r="3.75" stroke="none"/><circle cx="320.4" cy="508.8" r="3.75" stroke="none"/><circle cx="337.4" cy="439.8" r="3.75" stroke="none"/><circle cx="354.3" cy="378.8" r="3.75" stroke="none"/><circle cx="371.3" cy="462.8" r="3.75" stroke="none"/><circle cx="388.2" cy="598" r="3.75" stroke="none"/><circle cx="405.2" cy="629.5" r="3.75" stroke="none"/><circle cx="422.2" cy="616.8" r="3.75" stroke="none"/><circle cx="439.1" cy="491.8" r="3.75" stroke="none"/><circle cx="456.1" cy="588" r="3.75" stroke="none"/><circle cx="473" cy="603.3" r="3.75" stroke="none"/><circle cx="490" cy="443.5" r="3.75" stroke="none"/><circle cx="506.9" cy="601" r="3.75" stroke="none"/><circle cx="523.9" cy="537" r="3.75" stroke="none"/><circle cx="540.8" cy="433.2" r="3.75" stroke="none"/><circle cx="557.8" cy="450.5" r="3.75" stroke="none"/><circle cx="574.7" cy="532" r="3.75" stroke="none"/><circle cx="591.7" cy="520.1" r="3.75" stroke="none"/><circle cx="608.6" cy="585.2" r="3.75" stroke="none"/><circle cx="625.6" cy="560.8" r="3.75" stroke="none"/><circle cx="642.5" cy="645.6" r="3.75" stroke="none"/><circle cx="659.5" cy="525.6" r="3.75" stroke="none"/><circle cx="676.4" cy="675.2" r="3.75" stroke="none"/><circle cx="693.4" cy="475.4" r="3.75" stroke="none"/><circle cx="710.4" cy="417.1" r="3.75" stroke="none"/><circle cx="727.3" cy="492.7" r="3.75" stroke="none"/><circle cx="744.3" cy="562.3" r="3.75" stroke="none"/><circle cx="761.2" cy="407.6" r="3.75" stroke="none"/><circle cx="778.2" cy="394.5" r="3.75" stroke="none"/><circle cx="795.1" cy="512.3" r="3.75" stroke="none"/><circle cx="812.1" cy="526.6" r="3.75" stroke="none"/><circle cx="829" cy="480.1" r="3.75" stroke="none"/><circle cx="846" cy="579" r="3.75" stroke="none"/><circle cx="862.9" cy="437.4" r="3.75" stroke="none"/><circle cx="879.9" cy="370.5" r="3.75" stroke="none"/><circle cx="896.8" cy="496.5" r="3.75" stroke="none"/><circle cx="913.8" cy="363" r="3.75" stroke="none"/><circle cx="930.7" cy="615.5" r="3.75" stroke="none"/><circle cx="947.7" cy="476" r="3.75" stroke="none"/><circle cx="964.6" cy="497.6" r="3.75" stroke="none"/><circle cx="981.6" cy="405.7" r="3.75" stroke="none"/><circle cx="998.6" cy="419" r="3.75" stroke="none"/><circle cx="1015.5" cy="371.8" r="3.75" stroke="none"/><circle cx="1032.5" cy="328.7" r="3.75" stroke="none"/><circle cx="1049.4" cy="546" r="3.75" stroke="none"/><circle cx="1066.4" cy="436.5" r="3.75" stroke="none"/><circle cx="1083.3" cy="497.8" r="3.75" stroke="none"/><circle cx="1100.3" cy="389.2" r="3.75" stroke="none"/><circle cx="1117.2" cy="502.6" r="3.75" stroke="none"/><circle cx="1134.2" cy="508.2" r="3.75" stroke="none"/><circle cx="1151.1" cy="476.8" r="3.75" stroke="none"/><circle cx="1168.1" cy="527.1" r="3.75" stroke="none"/><circle cx="1185" cy="540.8" r="3.75" stroke="none"/><circle cx="1202" cy="460.1" r="3.75" stroke="none"/></g>
<g stroke="#bd9e39" fill="#bd9e39"><polyline points="117,590.9 134,514.4 150.9,686.8 167.9,609.8 184.8,599.6 201.8,543.2 218.7,650.7 235.7,519.3 252.6,424.8 269.6,482.7 286.5,474.6 303.5,488.8 320.4,574.8 337.4,442.3 354.3,381.6 371.3,475.2 388.2,608 405.2,617.8 422.2,556.4 439.1,567.4 456.1,582.6 473,545 490,622.4 506.9,536.8 523.9,565.1 540.8,545 557.8,706 574.7,526.1 591.7,521.5 608.6,427.6 625.6,551 642.5,451.6 659.5,559.4 676.4,612.4 693.4,508.4 710.4,481.6 727.3,574.2 744.3,565 761.2,471.9 778.2,457.5 795.1,535.9 812.1,395.7 829,624.8 846,485.5 862.9,636 879.9,251 896.8,208.1 913.8,279 930.7,553.4 947.7,523.3 964.6,482.9 981.6,634.2 998.6,512.5 1015.5,458.9 1032.5,570.7 1049.4,513 1066.4,653.9 1083.3,644.8 1100.3,488.1 1117.2,595.8 1134.2,588.2 1151.1,460.5 1168.1,636 1185,574 1202,606.1" stroke-width="2.78" fill="none"/>
<circle cx="117" cy="590.9" r="3.75" stroke="none"/><circle cx="134" cy="514.4" r="3.75" stroke="none"/><circle cx="150.9" cy="686.8" r="3.75" stroke="none"/><circle cx="167.9" cy="609.8" r="3.75" stroke="none"/><circle cx="184.8" cy="599.6" r="3.75" stroke="none"/><circle cx="201.8" cy="543.2" r="3.75" stroke="none"/><circle cx="218.7" cy="650.7" r="3.75" stroke="none"/><circle cx="235.7" cy="519.3" r="3.75" stroke="none"/><circle cx="252.6" cy="424.8" r="3.75" stroke="none"/><circle cx="269.6" cy="482.7" r="3.75" stroke="none"/><circle cx="286.5" cy="474.6" r="3.75" stroke="none"/><circle cx="303.5" cy="488.8" r="3.75" stroke="none"/><circle cx="320.4" cy="574.8" r="3.75" stroke="none"/><circle cx="337.4" cy="442.3" r="3.75" stroke="none"/><circle cx="354.3" cy="381.6" r="3.75" stroke="none"/><circle cx="371.3" cy="475.2" r="3.75" stroke="none"/><circle cx="388.2" cy="608" r="3.75" stroke="none"/><circle cx="405.2" cy="617.8" r="3.75" stroke="none"/><circle cx="422.2" cy="556.4" r="3.75" stroke="none"/><circle cx="439.1" cy="567.4" r="3.75" stroke="none"/><circle cx="456.1" cy="582.6" r="3.75" stroke="none"/><circle cx="473" cy="545" r="3.75" stroke="none"/><circle cx="490" cy="622.4" r="3.75" stroke="none"/><circle cx="506.9" cy="536.8" r="3.75" stroke="none"/><circle cx="523.9" cy="565.1" r="3.75" stroke="none"/><circle cx="540.8" cy="545" r="3.75" stroke="none"/><circle cx="557.8" cy="706" r="3.75" stroke="none"/><circle cx="574.7" cy="526.1" r="3.75" stroke="none"/><circle cx="591.7" cy="521.5" r="3.75" stroke="none"/><circle cx="608.6" cy="427.6" r="3.75" stroke="none"/><circle cx="625.6" cy="551" r="3.75" stroke="none"/><circle cx="642.5" cy="451.6" r="3.75" stroke="none"/><circle cx="659.5" cy="559.4" r="3.75" stroke="none"/><circle cx="676.4" cy="612.4" r="3.75" stroke="none"/><circle cx="693.4" cy="508.4" r="3.75" stroke="none"/><circle cx="710.4" cy="481.6" r="3.75" stroke="none"/><circle cx="727.3" cy="574.2" r="3.75" stroke="none"/><circle cx="744.3" cy="565" r="3.75" stroke="none"/><circle cx="761.2" cy="471.9" r="3.75" stroke="none"/><circle cx="778.2" cy="457.5" r="3.75" stroke="none"/><circle cx="795.1" cy="535.9" r="3.75" stroke="none"/><circle cx="812.1" cy="395.7" r="3.75" stroke="none"/><circle cx="829" cy="624.8" r="3.75" stroke="none"/><circle cx="846" cy="485.5" r="3.75" stroke="none"/><circle cx="862.9" cy="636" r="3.75" stroke="none"/><circle cx="879.9" cy="251" r="3.75" stroke="none"/><circle cx="896.8" cy="208.1" r="3.75" stroke="none"/><circle cx="913.8" cy="279" r="3.75" stroke="none"/><circle cx="930.7" cy="553.4" r="3.75" stroke="none"/><circle cx="947.7" cy="523.3" r="3.75" stroke="none"/><circle cx="964.6" cy="482.9" r="3.75" stroke="none"/><circle cx="981.6" cy="634.2" r="3.75" stroke="none"/><circle cx="998.6" cy="512.5" r="3.75" stroke="none"/><circle cx="1015.5" cy="458.9" r="3.75" stroke="none"/><circle cx="1032.5" cy="570.7" r="3.75" stroke="none"/><circle cx="1049.4" cy="513" r="3.75" stroke="none"/><circle cx="1066.4" cy="653.9" r="3.75" stroke="none"/><circle cx="1083.3" cy="644.8" r="3.75" stroke="none"/><circle cx="1100.3" cy="488.1" r="3.75" stroke="none"/><circle cx="1117.2" cy="595.8" r="3.75" stroke="none"/><circle cx="1134.2" cy="588.2" r="3.75" stroke="none"/><circle cx="1151.1" cy="460.5" r="3.75" stroke="none"/><circle cx="1168.1" cy="636" r="3.75" stroke="none"/><circle cx="1185" cy="574" r="3.75" stroke="none"/><circle cx="1202" cy="606.1" r="3.75" stroke="none"/></g>
<g stroke="#e7ba52" fill="#e7ba52"><polyline points="117,591.2 134,493.9 150.9,637 167.9,596.8 184.8,571.1 201.8,544.3 218.7,661.9 235.7,522.8 252.6,408.5 269.6,497.9 286.5,500.5 303.5,539.4 320.4,511 337.4,454.4 354.3,395.7 371.3,497.4 388.2,484.4 405.2,438.9 422.2,573 439.1,490.8 456.1,579.5 473,570.4 490,664 506.9,498.5 523.9,615 540.8,472.4 557.8,386.4 574.7,450.9 591.7,538.9 608.6,476.6 625.6,321 642.5,558 659.5,572.8 676.4,582.5 693.4,480.6 710.4,542.4 727.3,622 744.3,429.5 761.2,429.5 778.2,553.2 795.1,520.7 812.1,611.5 829,507.6 846,474.5 862.9,568.6 879.9,620.2 896.8,467.3 913.8,295.3 930.7,533.3 947.7,497.2 964.6,513.9 981.6,530 998.6,415.5 1015.5,447.7 1032.5,373.2 1049.4,535 1066.4,556.5 1083.3,523.6 1100.3,650.9 1117.2,577.5 1134.2,640.4 1151.1,535.9 1168.1,487.2 1185,478.3 1202,435.4" stroke-width="2.78" fill="none"/>
<circle cx="117" cy="591.2" r="3.75" stroke="none"/><circle cx="134" cy="493.9" r="3.75" stroke="none"/><circle cx="150.9" cy="637" r="3.75" stroke="none"/><circle cx="167.9" cy="596.8" r="3.75" stroke="none"/><circle cx="184.8" cy="571.1" r="3.75" stroke="none"/><circle cx="201.8" cy="544.3" r="3.75" stroke="none"/><circle cx="218.7" cy="661.9" r="3.75" stroke="none"/><circle cx="235.7" cy="522.8" r="3.75" stroke="none"/><circle cx="252.6" cy="408.5" r="3.75" stroke="none"/><circle cx="269.6" cy="497.9" r="3.75" stroke="none"/><circle cx="286.5" cy="500.5" r="3.75" stroke="none"/><circle cx="303.5" cy="539.4" r="3.75" stroke="none"/><circle cx="320.4" cy="511" r="3.75" stroke="none"/><circle cx="337.4" cy="454.4" r="3.75" stroke="none"/><circle cx="354.3" cy="395.7" r="3.75" stroke="none"/><circle cx="371.3" cy="497.4" r="3.75" stroke="none"/><circle cx="388.2" cy="484.4" r="3.75" stroke="none"/><circle cx="405.2" cy="438.9" r="3.75" stroke="none"/><circle cx="422.2" cy="573" r="3.75" stroke="none"/><circle cx="439.1" cy="490.8" r="3.75" stroke="none"/><circle cx="456.1" cy="579.5" r="3.75" stroke="none"/><circle cx="473" cy="570.4" r="3.75" stroke="none"/><circle cx="490" cy="664" r="3.75" stroke="none"/><circle cx="506.9" cy="498.5" r="3.75" stroke="none"/><circle cx="523.9" cy="615" r="3.75" stroke="none"/><circle cx="540.8" cy="472.4" r="3.75" stroke="none"/><circle cx="557.8" cy="386.4" r="3.75" stroke="none"/><circle cx="574.7" cy="450.9" r="3.75" stroke="none"/><circle cx="591.7" cy="538.9" r="3.75" stroke="none"/><circle cx="608.6" cy="476.6" r="3.75" stroke="none"/><circle cx="625.6" cy="321" r="3.75" stroke="none"/><circle cx="642.5" cy="558" r="3.75" stroke="none"/><circle cx="659.5" cy="572.8" r="3.75" stroke="none"/><circle cx="676.4" cy="582.5" r="3.75" stroke="none"/><circle cx="693.4" cy="480.6" r="3.75" stroke="none"/><circle cx="710.4" cy="542.4" r="3.75" stroke="none"/><circle cx="727.3" cy="622" r="3.75" stroke="none"/><circle cx="744.3" cy="429.5" r="3.75" stroke="none"/><circle cx="761.2" cy="429.5" r="3.75" stroke="none"/><circle cx="778.2" cy="553.2" r="3.75" stroke="none"/><circle cx="795.1" cy="520.7" r="3.75" stroke="none"/><circle cx="812.1" cy="611.5" r="3.75" stroke="none"/><circle cx="829" cy="507.6" r="3.75" stroke="none"/><circle cx="846" cy="474.5" r="3.75" stroke="none"/><circle cx="862.9" cy="568.6" r="3.75" stroke="none"/><circle cx="879.9" cy="620.2" r="3.75" stroke="none"/><circle cx="896.8" cy="467.3" r="3.75" stroke="none"/><circle cx="913.8" cy="295.3" r="3.75" stroke="none"/><circle cx="930.7" cy="533.3" r="3.75" stroke="none"/><circle cx="947.7" cy="497.2" r="3.75" stroke="none"/><circle cx="964.6" cy="513.9" r="3.75" stroke="none"/><circle cx="981.6" cy="530" r="3.75" stroke="none"/><circle cx="998.6" cy="415.5" r="3.75" stroke="none"/><circle cx="1015.5" cy="447.7" r="3.75" stroke="none"/><circle cx="1032.5" cy="373.2" r="3.75" stroke="none"/><circle cx="1049.4" cy="535" r="3.75" stroke="none"/><circle cx="1066.4" cy="556.5" r="3.75" stroke="none"/><circle cx="1083.3" cy="523.6" r="3.75" stroke="none"/><circle cx="1100.3" cy="650.9" r="3.75" stroke="none"/><circle cx="1117.2" cy="577.5" r="3.75" stroke="none"/><circle cx="1134.2" cy="640.4" r="3.75" stroke="none"/><circle cx="1151.1" cy="535.9" r="3.75" stroke="none"/><circle cx="1168.1" cy="487.2" r="3.75" stroke="none"/><circle cx="1185" cy="478.3" r="3.75" stroke="none"/><circle cx="1202" cy="435.4" r="3.75" stroke="none"/></g>
<g stroke="#e7cb94" fill="#e7cb94"><polyline points="117,589.3 134,500.4 150.9,639.7 167.9,586.1 184.8,601.2 201.8,550.2 218.7,675.2 235.7,528.4 252.6,478.7 269.6,468.2 286.5,444.6 303.5,522.6 320.4,454 337.4,476.8 354.3,409.2 371.3,502.8 388.2,608.5 405.2,551 422.2,565.6 439.1,579.3 456.1,581.2 473,594.9 490,565.5 506.9,504.4 523.9,521.9 540.8,294.8 557.8,360 574.7,482.9 591.7,560.4 608.6,426.5 625.6,397.5 642.5,556.2 659.5,492.9 676.4,507.4 693.4,451.9 710.4,476.4 727.3,560.8 744.3,614.8 761.2,476.6 778.2,678.4 795.1,568.1 812.1,491.5 829,338.5 846,451.7 862.9,504.1 879.9,479.2 896.8,558.1 913.8,537.3 930.7,508.6 947.7,280.8 964.6,310.5 981.6,425.1 998.6,479.6 1015.5,524.7 1032.5,657.7 1049.4,442.8 1066.4,648.2 1083.3,451.6 1100.3,534 1117.2,527.1 1134.2,567.9 1151.1,531.4 1168.1,688.5 1185,436.1 1202,413.8" stroke-width="2.78" fill="none"/>
<circle cx="117" cy="589.3" r="3.75" stroke="none"/><circle cx="134" cy="500.4" r="3.75" stroke="none"/><circle cx="150.9" cy="639.7" r="3.75" stroke="none"/><circle cx="167.9" cy="586.1" r="3.75" stroke="none"/><circle cx="184.8" cy="601.2" r="3.75" stroke="none"/><circle cx="201.8" cy="550.2" r="3.75" stroke="none"/><circle cx="218.7" cy="675.2" r="3.75" stroke="none"/><circle cx="235.7" cy="528.4" r="3.75" stroke="none"/><circle cx="252.6" cy="478.7" r="3.75" stroke="none"/><circle cx="269.6" cy="468.2" r="3.75" stroke="none"/><circle cx="286.5" cy="444.6" r="3.75" stroke="none"/><circle cx="303.5" cy="522.6" r="3.75" stroke="none"/><circle cx="320.4" cy="454" r="3.75" stroke="none"/><circle cx="337.4" cy="476.8" r="3.75" stroke="none"/><circle cx="354.3" cy="409.2" r="3.75" stroke="none"/><circle cx="371.3" cy="502.8" r="3.75" stroke="none"/><circle cx="388.2" cy="608.5" r="3.75" stroke="none"/><circle cx="405.2" cy="551" r="3.75" stroke="none"/><circle cx="422.2" cy="565.6" r="3.75" stroke="none"/><circle cx="439.1" cy="579.3" r="3.75" stroke="none"/><circle cx="456.1" cy="581.2" r="3.75" stroke="none"/><circle cx="473" cy="594.9" r="3.75" stroke="none"/><circle cx="490" cy="565.5" r="3.75" stroke="none"/><circle cx="506.9" cy="504.4" r="3.75" stroke="none"/><circle cx="523.9" cy="521.9" r="3.75" stroke="none"/><circle cx="540.8" cy="294.8" r="3.75" stroke="none"/><circle cx="557.8" cy="360" r="3.75" stroke="none"/><circle cx="574.7" cy="482.9" r="3.75" stroke="none"/><circle cx="591.7" cy="560.4" r="3.75" stroke="none"/><circle cx="608.6" cy="426.5" r="3.75" stroke="none"/><circle cx="625.6" cy="397.5" r="3.75" stroke="none"/><circle cx="642.5" cy="556.2" r="3.75" stroke="none"/><circle cx="659.5" cy="492.9" r="3.75" stroke="none"/><circle cx="676.4" cy="507.4" r="3.75" stroke="none"/><circle cx="693.4" cy="451.9" r="3.75" stroke="none"/><circle cx="710.4" cy="476.4" r="3.75" stroke="none"/><circle cx="727.3" cy="560.8" r="3.75" stroke="none"/><circle cx="744.3" cy="614.8" r="3.75" stroke="none"/><circle cx="761.2" cy="476.6" r="3.75" stroke="none"/><circle cx="778.2" cy="678.4" r="3.75" stroke="none"/><circle cx="795.1" cy="568.1" r="3.75" stroke="none"/><circle cx="812.1" cy="491.5" r="3.75" stroke="none"/><circle cx="829" cy="338.5" r="3.75" stroke="none"/><circle cx="846" cy="451.7" r="3.75" stroke="none"/><circle cx="862.9" cy="504.1" r="3.75" stroke="none"/><circle cx="879.9" cy="479.2" r="3.75" stroke="none"/><circle cx="896.8" cy="558.1" r="3.75" stroke="none"/><circle cx="913.8" cy="537.3" r="3.75" stroke="none"/><circle cx="930.7" cy="508.6" r="3.75" stroke="none"/><circle cx="947.7" cy="280.8" r="3.75" stroke="none"/><circle cx="964.6" cy="310.5" r="3.75" stroke="none"/><circle cx="981.6" cy="425.1" r="3.75" stroke="none"/><circle cx="998.6" cy="479.6" r="3.75" stroke="none"/><circle cx="1015.5" cy="524.7" r="3.75" stroke="none"/><circle cx="1032.5" cy="657.7" r="3.75" stroke="none"/><circle cx="1049.4" cy="442.8" r="3.75" stroke="none"/><circle cx="1066.4" cy="648.2" r="3.75" stroke="none"/><circle cx="1083.3" cy="451.6" r="3.75" stroke="none"/><circle cx="1100.3" cy="534" r="3.75" stroke="none"/><circle cx="1117.2" cy="527.1" r="3.75" stroke="none"/><circle cx="1134.2" cy="567.9" r="3.75" stroke="none"/><circle cx="1151.1" cy="531.4" r="3.75" stroke="none"/><circle cx="1168.1" cy="688.5" r="3.75" stroke="none"/><circle cx="1185" cy="436.1" r="3.75" stroke="none"/><circle cx="1202" cy="413.8" r="3.75" stroke="none"/></g>
<g stroke="#843c39" fill="#843c39"><polyline points="117,588.9 134,519.6 150.9,643.5 167.9,595.4 184.8,594.2 201.8,537.5 218.7,670.5 235.7,522.4 252.6,375.2 269.6,502.1 286.5,489.9 303.5,620.2 320.4,499.5 337.4,496 354.3,459.2 371.3,466.6 388.2,578.2 405.2,600.1 422.2,466.8 439.1,499.5 456.1,586.6 473,643.9 490,670 506.9,441.8 523.9,572 540.8,631.5 557.8,249.2 574.7,473.1 591.7,504.6 608.6,475.4 625.6,473.8 642.5,518.8 659.5,507.4 676.4,586.1 693.4,557.8 710.4,557.2 727.3,622 744.3,499.5 761.2,521.4 778.2,629 795.1,581.8 812.1,552.9 829,408.5 846,434.8 862.9,534.3 879.9,483.9 896.8,408.3 913.8,487.2 930.7,513.5 947.7,531.7 964.6,508.8 981.6,631.6 998.6,497.4 1015.5,546.6 1032.5,494.4 1049.4,507.9 1066.4,603.3 1083.3,407.1 1100.3,512.8 1117.2,615.5 1134.2,572.5 1151.1,425.1 1168.1,614 1185,494.9 1202,526.6" stroke-width="2.78" fill="none"/>
<circle cx="117" cy="588.9" r="3.75" stroke="none"/><circle cx="134" cy="519.6" r="3.75" stroke="none"/><circle cx="150.9" cy="643.5" r="3.75" stroke="none"/><circle cx="167.9" cy="595.4" r="3.75" stroke="none"/><circle cx="184.8" cy="594.2" r="3.75" stroke="none"/><circle cx="201.8" cy="537.5" r="3.75" stroke="none"/><circle cx="218.7" cy="670.5" r="3.75" stroke="none"/><circle cx="235.7" cy="522.4" r="3.75" stroke="none"/><circle cx="252.6" cy="375.2" r="3.75" stroke="none"/><circle cx="269.6" cy="502.1" r="3.75" stroke="none"/><circle cx="286.5" cy="489.9" r="3.75" stroke="none"/><circle cx="303.5" cy="620.2" r="3.75" stroke="none"/><circle cx="320.4" cy="499.5" r="3.75" stroke="none"/><circle cx="337.4" cy="496" r="3.75" stroke="none"/><circle cx="354.3" cy="459.2" r="3.75" stroke="none"/><circle cx="371.3" cy="466.6" r="3.75" stroke="none"/><circle cx="388.2" cy="578.2" r="3.75" stroke="none"/><circle cx="405.2" cy="600.1" r="3.75" stroke="none"/><circle cx="422.2" cy="466.8" r="3.75" stroke="none"/><circle cx="439.1" cy="499.5" r="3.75" stroke="none"/><circle cx="456.1" cy="586.6" r="3.75" stroke="none"/><circle cx="473" cy="643.9" r="3.75" stroke="none"/><circle cx="490" cy="670" r="3.75" stroke="none"/><circle cx="506.9" cy="441.8" r="3.75" stroke="none"/><circle cx="523.9" cy="572" r="3.75" stroke="none"/><circle cx="540.8" cy="631.5" r="3.75" stroke="none"/><circle cx="557.8" cy="249.2" r="3.75" stroke="none"/><circle cx="574.7" cy="473.1" r="3.75" stroke="none"/><circle cx="591.7" cy="504.6" r="3.75" stroke="none"/><circle cx="608.6" cy="475.4" r="3.75" stroke="none"/><circle cx="625.6" cy="473.8" r="3.75" stroke="none"/><circle cx="642.5" cy="518.8" r="3.75" stroke="none"/><circle cx="659.5" cy="507.4" r="3.75" stroke="none"/><circle cx="676.4" cy="586.1" r="3.75" stroke="none"/><circle cx="693.4" cy="557.8" r="3.75" stroke="none"/><circle cx="710.4" cy="557.2" r="3.75" stroke="none"/><circle cx="727.3" cy="622" r="3.75" stroke="none"/><circle cx="744.3" cy="499.5" r="3.75" stroke="none"/><circle cx="761.2" cy="521.4" r="3.75" stroke="none"/><circle cx="778.2" cy="629" r="3.75" stroke="none"/><circle cx="795.1" cy="581.8" r="3.75" stroke="none"/><circle cx="812.1" cy="552.9" r="3.75" stroke="none"/><circle cx="829" cy="408.5" r="3.75" stroke="none"/><circle cx="846" cy="434.8" r="3.75" stroke="none"/><circle cx="862.9" cy="534.3" r="3.75" stroke="none"/><circle cx="879.9" cy="483.9" r="3.75" stroke="none"/><circle cx="896.8" cy="408.3" r="3.75" stroke="none"/><circle cx="913.8" cy="487.2" r="3.75" stroke="none"/><circle cx="930.7" cy="513.5" r="3.75" stroke="none"/><circle cx="947.7" cy="531.7" r="3.75" stroke="none"/><circle cx="964.6" cy="508.8" r="3.75" stroke="none"/><circle cx="981.6" cy="631.6" r="3.75" stroke="none"/><circle cx="998.6" cy="497.4" r="3.75" stroke="none"/><circle cx="1015.5" cy="546.6" r="3.75" stroke="none"/><circle cx="1032.5" cy="494.4" r="3.75" stroke="none"/><circle cx="1049.4" cy="507.9" r="3.75" stroke="none"/><circle cx="1066.4" cy="603.3" r="3.75" stroke="none"/><circle cx="1083.3" cy="407.1" r="3.75" stroke="none"/><circle cx="1100.3" cy="512.8" r="3.75" stroke="none"/><circle cx="1117.2" cy="615.5" r="3.75" stroke="none"/><circle cx="1134.2" cy="572.5" r="3.75" stroke="none"/><circle cx="1151.1" cy="425.1" r="3.75" stroke="none"/><circle cx="1168.1" cy="614" r="3.75" stroke="none"/><circle cx="1185" cy="494.9" r="3.75" stroke="none"/><circle cx="1202" cy="526.6" r="3.75" stroke="none"/></g>
<g stroke="#ad494a" fill="#ad494a"><polyline points="117,587.4 134,496.2 150.9,644.9 167.9,593.3 184.8,594.9 201.8,534.7 218.7,661.9 235.7,531.9 252.6,429.1 269.6,467.8 286.5,473.4 303.5,567.2 320.4,542.4 337.4,354.2 354.3,287.8 371.3,461.2 388.2,602.2 405.2,609.9 422.2,514.5 439.1,575.1 456.1,617.6 473,667.5 490,555.7 506.9,533.3 523.9,546.8 540.8,492.5 557.8,399.6 574.7,492.3 591.7,568.6 608.6,465.4 625.6,407.5 642.5,528.7 659.5,532.8 676.4,553.2 693.4,507.9 710.4,464 727.3,494.2 744.3,569 761.2,485.7 778.2,568.5 795.1,464.7 812.1,594.7 829,448.8 846,609.8 862.9,609.8 879.9,496 896.8,558.1 913.8,534.9 930.7,518.8 947.7,517.9 964.6,519.5 981.6,442.8 998.6,537.1 1015.5,696.2 1032.5,574.8 1049.4,623.2 1066.4,510.7 1083.3,554.3 1100.3,511 1117.2,601 1134.2,452.2 1151.1,464.5 1168.1,405 1185,484.1 1202,491.3" stroke-width="2.78" fill="none"/>
<circle cx="117" cy="587.4" r="3.75" stroke="none"/><circle cx="134" cy="496.2" r="3.75" stroke="none"/><circle cx="150.9" cy="644.9" r="3.75" stroke="none"/><circle cx="167.9" cy="593.3" r="3.75" stroke="none"/><circle cx="184.8" cy="594.9" r="3.75" stroke="none"/><circle cx="201.8" cy="534.7" r="3.75" stroke="none"/><circle cx="218.7" cy="661.9" r="3.75" stroke="none"/><circle cx="235.7" cy="531.9" r="3.75" stroke="none"/><circle cx="252.6" cy="429.1" r="3.75" stroke="none"/><circle cx="269.6" cy="467.8" r="3.75" stroke="none"/><circle cx="286.5" cy="473.4" r="3.75" stroke="none"/><circle cx="303.5" cy="567.2" r="3.75" stroke="none"/><circle cx="320.4" cy="542.4" r="3.75" stroke="none"/><circle cx="337.4" cy="354.2" r="3.75" stroke="none"/><circle cx="354.3" cy="287.8" r="3.75" stroke="none"/><circle cx="371.3" cy="461.2" r="3.75" stroke="none"/><circle cx="388.2" cy="602.2" r="3.75" stroke="none"/><circle cx="405.2" cy="609.9" r="3.75" stroke="none"/><circle cx="422.2" cy="514.5" r="3.75" stroke="none"/><circle cx="439.1" cy="575.1" r="3.75" stroke="none"/><circle cx="456.1" cy="617.6" r="3.75" stroke="none"/><circle cx="473" cy="667.5" r="3.75" stroke="none"/><circle cx="490" cy="555.7" r="3.75" stroke="none"/><circle cx="506.9" cy="533.3" r="3.75" stroke="none"/><circle cx="523.9" cy="546.8" r="3.75" stroke="none"/><circle cx="540.8" cy="492.5" r="3.75" stroke="none"/><circle cx="557.8" cy="399.6" r="3.75" stroke="none"/><circle cx="574.7" cy="492.3" r="3.75" stroke="none"/><circle cx="591.7" cy="568.6" r="3.75" stroke="none"/><circle cx="608.6" cy="465.4" r="3.75" stroke="none"/><circle cx="625.6" cy="407.5" r="3.75" stroke="none"/><circle cx="642.5" cy="528.7" r="3.75" stroke="none"/><circle cx="659.5" cy="532.8" r="3.75" stroke="none"/><circle cx="676.4" cy="553.2" r="3.75" stroke="none"/><circle cx="693.4" cy="507.9" r="3.75" stroke="none"/><circle cx="710.4" cy="464" r="3.75" stroke="none"/><circle cx="727.3" cy="494.2" r="3.75" stroke="none"/><circle cx="744.3" cy="569" r="3.75" stroke="none"/><circle cx="761.2" cy="485.7" r="3.75" stroke="none"/><circle cx="778.2" cy="568.5" r="3.75" stroke="none"/><circle cx="795.1" cy="464.7" r="3.75" stroke="none"/><circle cx="812.1" cy="594.7" r="3.75" stroke="none"/><circle cx="829" cy="448.8" r="3.75" stroke="none"/><circle cx="846" cy="609.8" r="3.75" stroke="none"/><circle cx="862.9" cy="609.8" r="3.75" stroke="none"/><circle cx="879.9" cy="496" r="3.75" stroke="none"/><circle cx="896.8" cy="558.1" r="3.75" stroke="none"/><circle cx="913.8" cy="534.9" r="3.75" stroke="none"/><circle cx="930.7" cy="518.8" r="3.75" stroke="none"/><circle cx="947.7" cy="517.9" r="3.75" stroke="none"/><circle cx="964.6" cy="519.5" r="3.75" stroke="none"/><circle cx="981.6" cy="442.8" r="3.75" stroke="none"/><circle cx="998.6" cy="537.1" r="3.75" stroke="none"/><circle cx="1015.5" cy="696.2" r="3.75" stroke="none"/><circle cx="1032.5" cy="574.8" r="3.75" stroke="none"/><circle cx="1049.4" cy="623.2" r="3.75" stroke="none"/><circle cx="1066.4" cy="510.7" r="3.75" stroke="none"/><circle cx="1083.3" cy="554.3" r="3.75" stroke="none"/><circle cx="1100.3" cy="511" r="3.75" stroke="none"/><circle cx="1117.2" cy="601" r="3.75" stroke="none"/><circle cx="1134.2" cy="452.2" r="3.75" stroke="none"/><circle cx="1151.1" cy="464.5" r="3.75" stroke="none"/><circle cx="1168.1" cy="405" r="3.75" stroke="none"/><circle cx="1185" cy="484.1" r="3.75" stroke="none"/><circle cx="1202" cy="491.3" r="3.75" stroke="none"/></g>
<g stroke="#d6616b" fill="#d6616b"><polyline points="117,586.8 134,503.7 150.9,637.6 167.9,615.5 184.8,601.5 201.8,534.3 218.7,648.1 235.7,514.9 252.6,522.6 269.6,487.8 286.5,468 303.5,476.8 320.4,523.6 337.4,319.2 354.3,298.9 371.3,573 388.2,623 405.2,578.4 422.2,587.2 439.1,597.5 456.1,615.4 473,613.1 490,595.9 506.9,580.7 523.9,483.2 540.8,440.2 557.8,456.8 574.7,505.6 591.7,501.4 608.6,567.8 625.6,430.2 642.5,457.7 659.5,526.8 676.4,554.5 693.4,593.6 710.4,463.8 727.3,537.5 744.3,636 761.2,508.6 778.2,400.8 795.1,572.6 812.1,338.5 829,530.3 846,492.5 862.9,90 879.9,461 896.8,433.2 913.8,552.7 930.7,513.9 947.7,568.5 964.6,604.5 981.6,650.9 998.6,538.4 1015.5,554.3 1032.5,492.3 1049.4,525.2 1066.4,620.8 1083.3,587.4 1100.3,647.2 1117.2,556.2 1134.2,567.8 1151.1,496.2 1168.1,476.8 1185,465.2 1202,493.4" stroke-width="2.78" fill="none"/>
<circle cx="117" cy="586.8" r="3.75" stroke="none"/><circle cx="134" cy="503.7" r="3.75" stroke="none"/><circle cx="150.9" cy="637.6" r="3.75" stroke="none"/><circle cx="167.9" cy="615.5" r="3.75" stroke="none"/><circle cx="184.8" cy="601.5" r="3.75" stroke="none"/><circle cx="201.8" cy="534.3" r="3.75" stroke="none"/><circle cx="218.7" cy="648.1" r="3.75" stroke="none"/><circle cx="235.7" cy="514.9" r="3.75" stroke="none"/><circle cx="252.6" cy="522.6" r="3.75" stroke="none"/><circle cx="269.6" cy="487.8" r="3.75" stroke="none"/><circle cx="286.5" cy="468" r="3.75" stroke="none"/><circle cx="303.5" cy="476.8" r="3.75" stroke="none"/><circle cx="320.4" cy="523.6" r="3.75" stroke="none"/><circle cx="337.4" cy="319.2" r="3.75" stroke="none"/><circle cx="354.3" cy="298.9" r="3.75" stroke="none"/><circle cx="371.3" cy="573" r="3.75" stroke="none"/><circle cx="388.2" cy="623" r="3.75" stroke="none"/><circle cx="405.2" cy="578.4" r="3.75" stroke="none"/><circle cx="422.2" cy="587.2" r="3.75" stroke="none"/><circle cx="439.1" cy="597.5" r="3.75" stroke="none"/><circle cx="456.1" cy="615.4" r="3.75" stroke="none"/><circle cx="473" cy="613.1" r="3.75" stroke="none"/><circle cx="490" cy="595.9" r="3.75" stroke="none"/><circle cx="506.9" cy="580.7" r="3.75" stroke="none"/><circle cx="523.9" cy="483.2" r="3.75" stroke="none"/><circle cx="540.8" cy="440.2" r="3.75" stroke="none"/><circle cx="557.8" cy="456.8" r="3.75" stroke="none"/><circle cx="574.7" cy="505.6" r="3.75" stroke="none"/><circle cx="591.7" cy="501.4" r="3.75" stroke="none"/><circle cx="608.6" cy="567.8" r="3.75" stroke="none"/><circle cx="625.6" cy="430.2" r="3.75" stroke="none"/><circle cx="642.5" cy="457.7" r="3.75" stroke="none"/><circle cx="659.5" cy="526.8" r="3.75" stroke="none"/><circle cx="676.4" cy="554.5" r="3.75" stroke="none"/><circle cx="693.4" cy="593.6" r="3.75" stroke="none"/><circle cx="710.4" cy="463.8" r="3.75" stroke="none"/><circle cx="727.3" cy="537.5" r="3.75" stroke="none"/><circle cx="744.3" cy="636" r="3.75" stroke="none"/><circle cx="761.2" cy="508.6" r="3.75" stroke="none"/><circle cx="778.2" cy="400.8" r="3.75" stroke="none"/><circle cx="795.1" cy="572.6" r="3.75" stroke="none"/><circle cx="812.1" cy="338.5" r="3.75" stroke="none"/><circle cx="829" cy="530.3" r="3.75" stroke="none"/><circle cx="846" cy="492.5" r="3.75" stroke="none"/><circle cx="862.9" cy="90" r="3.75" stroke="none"/><circle cx="879.9" cy="461" r="3.75" stroke="none"/><circle cx="896.8" cy="433.2" r="3.75" stroke="none"/><circle cx="913.8" cy="552.7" r="3.75" stroke="none"/><circle cx="930.7" cy="513.9" r="3.75" stroke="none"/><circle cx="947.7" cy="568.5" r="3.75" stroke="none"/><circle cx="964.6" cy="604.5" r="3.75" stroke="none"/><circle cx="981.6" cy="650.9" r="3.75" stroke="none"/><circle cx="998.6" cy="538.4" r="3.75" stroke="none"/><circle cx="1015.5" cy="554.3" r="3.75" stroke="none"/><circle cx="1032.5" cy="492.3" r="3.75" stroke="none"/><circle cx="1049.4" cy="525.2" r="3.75" stroke="none"/><circle cx="1066.4" cy="620.8" r="3.75" stroke="none"/><circle cx="1083.3" cy="587.4" r="3.75" stroke="none"/><circle cx="1100.3" cy="647.2" r="3.75" stroke="none"/><circle cx="1117.2" cy="556.2" r="3.75" stroke="none"/><circle cx="1134.2" cy="567.8" r="3.75" stroke="none"/><circle cx="1151.1" cy="496.2" r="3.75" stroke="none"/><circle cx="1168.1" cy="476.8" r="3.75" stroke="none"/><circle cx="1185" cy="465.2" r="3.75" stroke="none"/><circle cx="1202" cy="493.4" r="3.75" stroke="none"/></g>
<g stroke="#e7969c" fill="#e7969c"><polyline points="117,592.1 134,512.8 150.9,651 167.9,602.8 184.8,611.9 201.8,520.5 218.7,657.2 235.7,546.9 252.6,475.2 269.6,473.6 286.5,431.2 303.5,468 320.4,561.1 337.4,439.8 354.3,435.4 371.3,466.1 388.2,667.5 405.2,566 422.2,680.1 439.1,554.1 456.1,679.8 473,600.5 490,645.8 506.9,516 523.9,422.5 540.8,460.5 557.8,463.1 574.7,491.8 591.7,549.7 608.6,466.6 625.6,440.7 642.5,581.4 659.5,653.9 676.4,543.4 693.4,461.4 710.4,366.5 727.3,566.4 744.3,530 761.2,488.6 778.2,601 795.1,492.5 812.1,523 829,575.5 846,472.4 862.9,425.8 879.9,496.4 896.8,578.2 913.8,501.6 930.7,321 947.7,474.5 964.6,523.1 981.6,631.6 998.6,638.1 1015.5,415.7 1032.5,373.2 1049.4,535.2 1066.4,584.7 1083.3,531.4 1100.3,554.1 1117.2,465.5 1134.2,556.5 1151.1,590.1 1168.1,471.9 1185,406.8 1202,536.6" stroke-width="2.78" fill="none"/>
<circle cx="117" cy="592.1" r="3.75" stroke="none"/><circle cx="134" cy="512.8" r="3.75" stroke="none"/><circle cx="150.9" cy="651" r="3.75" stroke="none"/><circle cx="167.9" cy="602.8" r="3.75" stroke="none"/><circle cx="184.8" cy="611.9" r="3.75" stroke="none"/><circle cx="201.8" cy="520.5" r="3.75" stroke="none"/><circle cx="218.7" cy="657.2" r="3.75" stroke="none"/><circle cx="235.7" cy="546.9" r="3.75" stroke="none"/><circle cx="252.6" cy="475.2" r="3.75" stroke="none"/><circle cx="269.6" cy="473.6" r="3.75" stroke="none"/><circle cx="286.5" cy="431.2" r="3.75" stroke="none"/><circle cx="303.5" cy="468" r="3.75" stroke="none"/><circle cx="320.4" cy="561.1" r="3.75" stroke="none"/><circle cx="337.4" cy="439.8" r="3.75" stroke="none"/><circle cx="354.3" cy="435.4" r="3.75" stroke="none"/><circle cx="371.3" cy="466.1" r="3.75" stroke="none"/><circle cx="388.2" cy="667.5" r="3.75" stroke="none"/><circle cx="405.2" cy="566" r="3.75" stroke="none"/><circle cx="422.2" cy="680.1" r="3.75" stroke="none"/><circle cx="439.1" cy="554.1" r="3.75" stroke="none"/><circle cx="456.1" cy="679.8" r="3.75" stroke="none"/><circle cx="473" cy="600.5" r="3.75" stroke="none"/><circle cx="490" cy="645.8" r="3.75" stroke="none"/><circle cx="506.9" cy="516" r="3.75" stroke="none"/><circle cx="523.9" cy="422.5" r="3.75" stroke="none"/><circle cx="540.8" cy="460.5" r="3.75" stroke="none"/><circle cx="557.8" cy="463.1" r="3.75" stroke="none"/><circle cx="574.7" cy="491.8" r="3.75" stroke="none"/><circle cx="591.7" cy="549.7" r="3.75" stroke="none"/><circle cx="608.6" cy="466.6" r="3.75" stroke="none"/><circle cx="625.6" cy="440.7" r="3.75" stroke="none"/><circle cx="642.5" cy="581.4" r="3.75" stroke="none"/><circle cx="659.5" cy="653.9" r="3.75" stroke="none"/><circle cx="676.4" cy="543.4" r="3.75" stroke="none"/><circle cx="693.4" cy="461.4" r="3.75" stroke="none"/><circle cx="710.4" cy="366.5" r="3.75" stroke="none"/><circle cx="727.3" cy="566.4" r="3.75" stroke="none"/><circle cx="744.3" cy="530" r="3.75" stroke="none"/><circle cx="761.2" cy="488.6" r="3.75" stroke="none"/><circle cx="778.2" cy="601" r="3.75" stroke="none"/><circle cx="795.1" cy="492.5" r="3.75" stroke="none"/><circle cx="812.1" cy="523" r="3.75" stroke="none"/><circle cx="829" cy="575.5" r="3.75" stroke="none"/><circle cx="846" cy="472.4" r="3.75" stroke="none"/><circle cx="862.9" cy="425.8" r="3.75" stroke="none"/><circle cx="879.9" cy="496.4" r="3.75" stroke="none"/><circle cx="896.8" cy="578.2" r="3.75" stroke="none"/><circle cx="913.8" cy="501.6" r="3.75" stroke="none"/><circle cx="930.7" cy="321" r="3.75" stroke="none"/><circle cx="947.7" cy="474.5" r="3.75" stroke="none"/><circle cx="964.6" cy="523.1" r="3.75" stroke="none"/><circle cx="981.6" cy="631.6" r="3.75" stroke="none"/><circle cx="998.6" cy="638.1" r="3.75" stroke="none"/><circle cx="1015.5" cy="415.7" r="3.75" stroke="none"/><circle cx="1032.5" cy="373.2" r="3.75" stroke="none"/><circle cx="1049.4" cy="535.2" r="3.75" stroke="none"/><circle cx="1066.4" cy="584.7" r="3.75" stroke="none"/><circle cx="1083.3" cy="531.4" r="3.75" stroke="none"/><circle cx="1100.3" cy="554.1" r="3.75" stroke="none"/><circle cx="1117.2" cy="465.5" r="3.75" stroke="none"/><circle cx="1134.2" cy="556.5" r="3.75" stroke="none"/><circle cx="1151.1" cy="590.1" r="3.75" stroke="none"/><circle cx="1168.1" cy="471.9" r="3.75" stroke="none"/><circle cx="1185" cy="406.8" r="3.75" stroke="none"/><circle cx="1202" cy="536.6" r="3.75" stroke="none"/></g>
<g stroke="#7b4173" fill="#7b4173"><polyline points="117,593.5 134,507.6 150.9,654 167.9,615.5 184.8,612.5 201.8,561.1 218.7,668.4 235.7,533.3 252.6,534.5 269.6,435.6 286.5,470.1 303.5,615 320.4,538 337.4,471.3 354.3,402.7 371.3,471.1 388.2,665.8 405.2,672.8 422.2,575.3 439.1,534.1 456.1,594 473,592.6 490,531.5 506.9,629 523.9,315.8 540.8,481.5 557.8,455.1 574.7,536.1 591.7,567 608.6,364.8 625.6,343.8 642.5,454.9 659.5,635.3 676.4,465 693.4,448.8 710.4,392.8 727.3,589.5 744.3,589.1 761.2,327.1 778.2,449.1 795.1,535.2 812.1,540.3 829,506.5 846,444.4 862.9,553.9 879.9,398.9 896.8,469.2 913.8,486.2 930.7,464.5 947.7,423.4 964.6,433.9 981.6,662.2 998.6,697.8 1015.5,425.5 1032.5,399.8 1049.4,458.7 1066.4,637 1083.3,637 1100.3,487.2 1117.2,508.8 1134.2,500.7 1151.1,496 1168.1,459.9 1185,505.3 1202,565" stroke-width="2.78" fill="none"/>
<circle cx="117" cy="593.5" r="3.75" stroke="none"/><circle cx="134" cy="507.6" r="3.75" stroke="none"/><circle cx="150.9" cy="654" r="3.75" stroke="none"/><circle cx="167.9" cy="615.5" r="3.75" stroke="none"/><circle cx="184.8" cy="612.5" r="3.75" stroke="none"/><circle cx="201.8" cy="561.1" r="3.75" stroke="none"/><circle cx="218.7" cy="668.4" r="3.75" stroke="none"/><circle cx="235.7" cy="533.3" r="3.75" stroke="none"/><circle cx="252.6" cy="534.5" r="3.75" stroke="none"/><circle cx="269.6" cy="435.6" r="3.75" stroke="none"/><circle cx="286.5" cy="470.1" r="3.75" stroke="none"/><circle cx="303.5" cy="615" r="3.75" stroke="none"/><circle cx="320.4" cy="538" r="3.75" stroke="none"/><circle cx="337.4" cy="471.3" r="3.75" stroke="none"/><circle cx="354.3" cy="402.7" r="3.75" stroke="none"/><circle cx="371.3" cy="471.1" r="3.75" stroke="none"/><circle cx="388.2" cy="665.8" r="3.75" stroke="none"/><circle cx="405.2" cy="672.8" r="3.75" stroke="none"/><circle cx="422.2" cy="575.3" r="3.75" stroke="none"/><circle cx="439.1" cy="534.1" r="3.75" stroke="none"/><circle cx="456.1" cy="594" r="3.75" stroke="none"/><circle cx="473" cy="592.6" r="3.75" stroke="none"/><circle cx="490" cy="531.5" r="3.75" stroke="none"/><circle cx="506.9" cy="629" r="3.75" stroke="none"/><circle cx="523.9" cy="315.8" r="3.75" stroke="none"/><circle cx="540.8" cy="481.5" r="3.75" stroke="none"/><circle cx="557.8" cy="455.1" r="3.75" stroke="none"/><circle cx="574.7" cy="536.1" r="3.75" stroke="none"/><circle cx="591.7" cy="567" r="3.75" stroke="none"/><circle cx="608.6" cy="364.8" r="3.75" stroke="none"/><circle cx="625.6" cy="343.8" r="3.75" stroke="none"/><circle cx="642.5" cy="454.9" r="3.75" stroke="none"/><circle cx="659.5" cy="635.3" r="3.75" stroke="none"/><circle cx="676.4" cy="465" r="3.75" stroke="none"/><circle cx="693.4" cy="448.8" r="3.75" stroke="none"/><circle cx="710.4" cy="392.8" r="3.75" stroke="none"/><circle cx="727.3" cy="589.5" r="3.75" stroke="none"/><circle cx="744.3" cy="589.1" r="3.75" stroke="none"/><circle cx="761.2" cy="327.1" r="3.75" stroke="none"/><circle cx="778.2" cy="449.1" r="3.75" stroke="none"/><circle cx="795.1" cy="535.2" r="3.75" stroke="none"/><circle cx="812.1" cy="540.3" r="3.75" stroke="none"/><circle cx="829" cy="506.5" r="3.75" stroke="none"/><circle cx="846" cy="444.4" r="3.75" stroke="none"/><circle cx="862.9" cy="553.9" r="3.75" stroke="none"/><circle cx="879.9" cy="398.9" r="3.75" stroke="none"/><circle cx="896.8" cy="469.2" r="3.75" stroke="none"/><circle cx="913.8" cy="486.2" r="3.75" stroke="none"/><circle cx="930.7" cy="464.5" r="3.75" stroke="none"/><circle cx="947.7" cy="423.4" r="3.75" stroke="none"/><circle cx="964.6" cy="433.9" r="3.75" stroke="none"/><circle cx="981.6" cy="662.2" r="3.75" stroke="none"/><circle cx="998.6" cy="697.8" r="3.75" stroke="none"/><circle cx="1015.5" cy="425.5" r="3.75" stroke="none"/><circle cx="1032.5" cy="399.8" r="3.75" stroke="none"/><circle cx="1049.4" cy="458.7" r="3.75" stroke="none"/><circle cx="1066.4" cy="637" r="3.75" stroke="none"/><circle cx="1083.3" cy="637" r="3.75" stroke="none"/><circle cx="1100.3" cy="487.2" r="3.75" stroke="none"/><circle cx="1117.2" cy="508.8" r="3.75" stroke="none"/><circle cx="1134.2" cy="500.7" r="3.75" stroke="none"/><circle cx="1151.1" cy="496" r="3.75" stroke="none"/><circle cx="1168.1" cy="459.9" r="3.75" stroke="none"/><circle cx="1185" cy="505.3" r="3.75" stroke="none"/><circle cx="1202" cy="565" r="3.75" stroke="none"/></g>
<g stroke="#a55194" fill="#a55194"><polyline points="117,569.5 134,485.5 150.9,633.7 167.9,595.6 184.8,607.6 201.8,520.5 218.7,651.2 235.7,525.8 252.6,346.2 269.6,486.9 286.5,496.7 303.5,543.8 320.4,506.7 337.4,416.2 354.3,373.3 371.3,500.2 388.2,589.1 405.2,623.8 422.2,632.7 439.1,634.2 456.1,629.9 473,646.9 490,595.2 506.9,522.6 523.9,331.5 540.8,493.2 557.8,462.8 574.7,474.3 591.7,536.6 608.6,465.5 625.6,418.3 642.5,478.1 659.5,522.8 676.4,541 693.4,593.6 710.4,438.2 727.3,468 744.3,433 761.2,517.5 778.2,523 795.1,389.2 812.1,530.3 829,543.4 846,575.8 862.9,600.1 879.9,302.5 896.8,406.8 913.8,523 930.7,615.5 947.7,620.8 964.6,473.4 981.6,575.6 998.6,595.8 1015.5,516.8 1032.5,400.8 1049.4,442.8 1066.4,458.5 1083.3,500.9 1100.3,496.4 1117.2,420.8 1134.2,465.4 1151.1,527.9 1168.1,498.6 1185,494.9 1202,535.9" stroke-width="2.78" fill="none"/>
<circle cx="117" cy="569.5" r="3.75" stroke="none"/><circle cx="134" cy="485.5" r="3.75" stroke="none"/><circle cx="150.9" cy="633.7" r="3.75" stroke="none"/><circle cx="167.9" cy="595.6" r="3.75" stroke="none"/><circle cx="184.8" cy="607.6" r="3.75" stroke="none"/><circle cx="201.8" cy="520.5" r="3.75" stroke="none"/><circle cx="218.7" cy="651.2" r="3.75" stroke="none"/><circle cx="235.7" cy="525.8" r="3.75" stroke="none"/><circle cx="252.6" cy="346.2" r="3.75" stroke="none"/><circle cx="269.6" cy="486.9" r="3.75" stroke="none"/><circle cx="286.5" cy="496.7" r="3.75" stroke="none"/><circle cx="303.5" cy="543.8" r="3.75" stroke="none"/><circle cx="320.4" cy="506.7" r="3.75" stroke="none"/><circle cx="337.4" cy="416.2" r="3.75" stroke="none"/><circle cx="354.3" cy="373.3" r="3.75" stroke="none"/><circle cx="371.3" cy="500.2" r="3.75" stroke="none"/><circle cx="388.2" cy="589.1" r="3.75" stroke="none"/><circle cx="405.2" cy="623.8" r="3.75" stroke="none"/><circle cx="422.2" cy="632.7" r="3.75" stroke="none"/><circle cx="439.1" cy="634.2" r="3.75" stroke="none"/><circle cx="456.1" cy="629.9" r="3.75" stroke="none"/><circle cx="473" cy="646.9" r="3.75" stroke="none"/><circle cx="490" cy="595.2" r="3.75" stroke="none"/><circle cx="506.9" cy="522.6" r="3.75" stroke="none"/><circle cx="523.9" cy="331.5" r="3.75" stroke="none"/><circle cx="540.8" cy="493.2" r="3.75" stroke="none"/><circle cx="557.8" cy="462.8" r="3.75" stroke="none"/><circle cx="574.7" cy="474.3" r="3.75" stroke="none"/><circle cx="591.7" cy="536.6" r="3.75" stroke="none"/><circle cx="608.6" cy="465.5" r="3.75" stroke="none"/><circle cx="625.6" cy="418.3" r="3.75" stroke="none"/><circle cx="642.5" cy="478.1" r="3.75" stroke="none"/><circle cx="659.5" cy="522.8" r="3.75" stroke="none"/><circle cx="676.4" cy="541" r="3.75" stroke="none"/><circle cx="693.4" cy="593.6" r="3.75" stroke="none"/><circle cx="710.4" cy="438.2" r="3.75" stroke="none"/><circle cx="727.3" cy="468" r="3.75" stroke="none"/><circle cx="744.3" cy="433" r="3.75" stroke="none"/><circle cx="761.2" cy="517.5" r="3.75" stroke="none"/><circle cx="778.2" cy="523" r="3.75" stroke="none"/><circle cx="795.1" cy="389.2" r="3.75" stroke="none"/><circle cx="812.1" cy="530.3" r="3.75" stroke="none"/><circle cx="829" cy="543.4" r="3.75" stroke="none"/><circle cx="846" cy="575.8" r="3.75" stroke="none"/><circle cx="862.9" cy="600.1" r="3.75" stroke="none"/><circle cx="879.9" cy="302.5" r="3.75" stroke="none"/><circle cx="896.8" cy="406.8" r="3.75" stroke="none"/><circle cx="913.8" cy="523" r="3.75" stroke="none"/><circle cx="930.7" cy="615.5" r="3.75" stroke="none"/><circle cx="947.7" cy="620.8" r="3.75" stroke="none"/><circle cx="964.6" cy="473.4" r="3.75" stroke="none"/><circle cx="981.6" cy="575.6" r="3.75" stroke="none"/><circle cx="998.6" cy="595.8" r="3.75" stroke="none"/><circle cx="1015.5" cy="516.8" r="3.75" stroke="none"/><circle cx="1032.5" cy="400.8" r="3.75" stroke="none"/><circle cx="1049.4" cy="442.8" r="3.75" stroke="none"/><circle cx="1066.4" cy="458.5" r="3.75" stroke="none"/><circle cx="1083.3" cy="500.9" r="3.75" stroke="none"/><circle cx="1100.3" cy="496.4" r="3.75" stroke="none"/><circle cx="1117.2" cy="420.8" r="3.75" stroke="none"/><circle cx="1134.2" cy="465.4" r="3.75" stroke="none"/><circle cx="1151.1" cy="527.9" r="3.75" stroke="none"/><circle cx="1168.1" cy="498.6" r="3.75" stroke="none"/><circle cx="1185" cy="494.9" r="3.75" stroke="none"/><circle cx="1202" cy="535.9" r="3.75" stroke="none"/></g>
<g stroke="#ce6dbd" fill="#ce6dbd"><polyline points="117,601.4 134,518.9 150.9,668 167.9,594.4 184.8,584.4 201.8,554.1 218.7,675.5 235.7,514.2 252.6,515.2 269.6,459.6 286.5,455.6 303.5,488.8 320.4,409 337.4,377 354.3,401.5 371.3,470.1 388.2,612.5 405.2,577.5 422.2,611 439.1,635 456.1,654.7 473,640.5 490,603.3 506.9,521.5 523.9,544.1 540.8,462.2 557.8,468.7 574.7,527 591.7,509.5 608.6,422.5 625.6,403.9 642.5,487.9 659.5,479.6 676.4,556.7 693.4,466.9 710.4,432.8 727.3,556.9 744.3,516.8 761.2,451.4 778.2,413.8 795.1,427.8 812.1,571.8 829,642 846,637.8 862.9,448.2 879.9,665.8 896.8,635.1 913.8,682 930.7,547.3 947.7,504.9 964.6,459.2 981.6,510 998.6,562.5 1015.5,634.2 1032.5,649 1049.4,576.5 1066.4,547.1 1083.3,624.1 1100.3,573 1117.2,642.6 1134.2,536.2 1151.1,577.5 1168.1,457.1 1185,504.6 1202,435.4" stroke-width="2.78" fill="none"/>
<circle cx="117" cy="601.4" r="3.75" stroke="none"/><circle cx="134" cy="518.9" r="3.75" stroke="none"/><circle cx="150.9" cy="668" r="3.75" stroke="none"/><circle cx="167.9" cy="594.4" r="3.75" stroke="none"/><circle cx="184.8" cy="584.4" r="3.75" stroke="none"/><circle cx="201.8" cy="554.1" r="3.75" stroke="none"/><circle cx="218.7" cy="675.5" r="3.75" stroke="none"/><circle cx="235.7" cy="514.2" r="3.75" stroke="none"/><circle cx="252.6" cy="515.2" r="3.75" stroke="none"/><circle cx="269.6" cy="459.6" r="3.75" stroke="none"/><circle cx="286.5" cy="455.6" r="3.75" stroke="none"/><circle cx="303.5" cy="488.8" r="3.75" stroke="none"/><circle cx="320.4" cy="409" r="3.75" stroke="none"/><circle cx="337.4" cy="377" r="3.75" stroke="none"/><circle cx="354.3" cy="401.5" r="3.75" stroke="none"/><circle cx="371.3" cy="470.1" r="3.75" stroke="none"/><circle cx="388.2" cy="612.5" r="3.75" stroke="none"/><circle cx="405.2" cy="577.5" r="3.75" stroke="none"/><circle cx="422.2" cy="611" r="3.75" stroke="none"/><circle cx="439.1" cy="635" r="3.75" stroke="none"/><circle cx="456.1" cy="654.7" r="3.75" stroke="none"/><circle cx="473" cy="640.5" r="3.75" stroke="none"/><circle cx="490" cy="603.3" r="3.75" stroke="none"/><circle cx="506.9" cy="521.5" r="3.75" stroke="none"/><circle cx="523.9" cy="544.1" r="3.75" stroke="none"/><circle cx="540.8" cy="462.2" r="3.75" stroke="none"/><circle cx="557.8" cy="468.7" r="3.75" stroke="none"/><circle cx="574.7" cy="527" r="3.75" stroke="none"/><circle cx="591.7" cy="509.5" r="3.75" stroke="none"/><circle cx="608.6" cy="422.5" r="3.75" stroke="none"/><circle cx="625.6" cy="403.9" r="3.75" stroke="none"/><circle cx="642.5" cy="487.9" r="3.75" stroke="none"/><circle cx="659.5" cy="479.6" r="3.75" stroke="none"/><circle cx="676.4" cy="556.7" r="3.75" stroke="none"/><circle cx="693.4" cy="466.9" r="3.75" stroke="none"/><circle cx="710.4" cy="432.8" r="3.75" stroke="none"/><circle cx="727.3" cy="556.9" r="3.75" stroke="none"/><circle cx="744.3" cy="516.8" r="3.75" stroke="none"/><circle cx="761.2" cy="451.4" r="3.75" stroke="none"/><circle cx="778.2" cy="413.8" r="3.75" stroke="none"/><circle cx="795.1" cy="427.8" r="3.75" stroke="none"/><circle cx="812.1" cy="571.8" r="3.75" stroke="none"/><circle cx="829" cy="642" r="3.75" stroke="none"/><circle cx="846" cy="637.8" r="3.75" stroke="none"/><circle cx="862.9" cy="448.2" r="3.75" stroke="none"/><circle cx="879.9" cy="665.8" r="3.75" stroke="none"/><circle cx="896.8" cy="635.1" r="3.75" stroke="none"/><circle cx="913.8" cy="682" r="3.75" stroke="none"/><circle cx="930.7" cy="547.3" r="3.75" stroke="none"/><circle cx="947.7" cy="504.9" r="3.75" stroke="none"/><circle cx="964.6" cy="459.2" r="3.75" stroke="none"/><circle cx="981.6" cy="510" r="3.75" stroke="none"/><circle cx="998.6" cy="562.5" r="3.75" stroke="none"/><circle cx="1015.5" cy="634.2" r="3.75" stroke="none"/><circle cx="1032.5" cy="649" r="3.75" stroke="none"/><circle cx="1049.4" cy="576.5" r="3.75" stroke="none"/><circle cx="1066.4" cy="547.1" r="3.75" stroke="none"/><circle cx="1083.3" cy="624.1" r="3.75" stroke="none"/><circle cx="1100.3" cy="573" r="3.75" stroke="none"/><circle cx="1117.2" cy="642.6" r="3.75" stroke="none"/><circle cx="1134.2" cy="536.2" r="3.75" stroke="none"/><circle cx="1151.1" cy="577.5" r="3.75" stroke="none"/><circle cx="1168.1" cy="457.1" r="3.75" stroke="none"/><circle cx="1185" cy="504.6" r="3.75" stroke="none"/><circle cx="1202" cy="435.4" r="3.75" stroke="none"/></g>
<g stroke="#de9ed6" fill="#de9ed6"><polyline points="117,586.8 134,511.9 150.9,660.7 167.9,594.2 184.8,579.8 201.8,516.8 218.7,674.5 235.7,531.5 252.6,562.5 269.6,502.6 286.5,492.3 303.5,593 320.4,509 337.4,409.5 354.3,385.4 371.3,550.2 388.2,620.8 405.2,608.2 422.2,590.5 439.1,538.7 456.1,612 473,656.5 490,520.3 506.9,514.4 523.9,449.8 540.8,408.5 557.8,272.9 574.7,513 591.7,578.8 608.6,514.2 625.6,356 642.5,375.8 659.5,459.2 676.4,564.8 693.4,428.6 710.4,492.9 727.3,366.5 744.3,536.2 761.2,481 778.2,499.7 795.1,443.5 812.1,349 829,309.6 846,307 862.9,457.9 879.9,494.2 896.8,559 913.8,620.2 930.7,508.2 947.7,509 964.6,424.4 981.6,556 998.6,508.6 1015.5,543.8 1032.5,457 1049.4,503 1066.4,545.7 1083.3,420.8 1100.3,414.3 1117.2,497.8 1134.2,523.6 1151.1,431.9 1168.1,507.4 1185,513.7 1202,392.8" stroke-width="2.78" fill="none"/>
<circle cx="117" cy="586.8" r="3.75" stroke="none"/><circle cx="134" cy="511.9" r="3.75" stroke="none"/><circle cx="150.9" cy="660.7" r="3.75" stroke="none"/><circle cx="167.9" cy="594.2" r="3.75" stroke="none"/><circle cx="184.8" cy="579.8" r="3.75" stroke="none"/><circle cx="201.8" cy="516.8" r="3.75" stroke="none"/><circle cx="218.7" cy="674.5" r="3.75" stroke="none"/><circle cx="235.7" cy="531.5" r="3.75" stroke="none"/><circle cx="252.6" cy="562.5" r="3.75" stroke="none"/><circle cx="269.6" cy="502.6" r="3.75" stroke="none"/><circle cx="286.5" cy="492.3" r="3.75" stroke="none"/><circle cx="303.5" cy="593" r="3.75" stroke="none"/><circle cx="320.4" cy="509" r="3.75" stroke="none"/><circle cx="337.4" cy="409.5" r="3.75" stroke="none"/><circle cx="354.3" cy="385.4" r="3.75" stroke="none"/><circle cx="371.3" cy="550.2" r="3.75" stroke="none"/><circle cx="388.2" cy="620.8" r="3.75" stroke="none"/><circle cx="405.2" cy="608.2" r="3.75" stroke="none"/><circle cx="422.2" cy="590.5" r="3.75" stroke="none"/><circle cx="439.1" cy="538.7" r="3.75" stroke="none"/><circle cx="456.1" cy="612" r="3.75" stroke="none"/><circle cx="473" cy="656.5" r="3.75" stroke="none"/><circle cx="490" cy="520.3" r="3.75" stroke="none"/><circle cx="506.9" cy="514.4" r="3.75" stroke="none"/><circle cx="523.9" cy="449.8" r="3.75" stroke="none"/><circle cx="540.8" cy="408.5" r="3.75" stroke="none"/><circle cx="557.8" cy="272.9" r="3.75" stroke="none"/><circle cx="574.7" cy="513" r="3.75" stroke="none"/><circle cx="591.7" cy="578.8" r="3.75" stroke="none"/><circle cx="608.6" cy="514.2" r="3.75" stroke="none"/><circle cx="625.6" cy="356" r="3.75" stroke="none"/><circle cx="642.5" cy="375.8" r="3.75" stroke="none"/><circle cx="659.5" cy="459.2" r="3.75" stroke="none"/><circle cx="676.4" cy="564.8" r="3.75" stroke="none"/><circle cx="693.4" cy="428.6" r="3.75" stroke="none"/><circle cx="710.4" cy="492.9" r="3.75" stroke="none"/><circle cx="727.3" cy="366.5" r="3.75" stroke="none"/><circle cx="744.3" cy="536.2" r="3.75" stroke="none"/><circle cx="761.2" cy="481" r="3.75" stroke="none"/><circle cx="778.2" cy="499.7" r="3.75" stroke="none"/><circle cx="795.1" cy="443.5" r="3.75" stroke="none"/><circle cx="812.1" cy="349" r="3.75" stroke="none"/><circle cx="829" cy="309.6" r="3.75" stroke="none"/><circle cx="846" cy="307" r="3.75" stroke="none"/><circle cx="862.9" cy="457.9" r="3.75" stroke="none"/><circle cx="879.9" cy="494.2" r="3.75" stroke="none"/><circle cx="896.8" cy="559" r="3.75" stroke="none"/><circle cx="913.8" cy="620.2" r="3.75" stroke="none"/><circle cx="930.7" cy="508.2" r="3.75" stroke="none"/><circle cx="947.7" cy="509" r="3.75" stroke="none"/><circle cx="964.6" cy="424.4" r="3.75" stroke="none"/><circle cx="981.6" cy="556" r="3.75" stroke="none"/><circle cx="998.6" cy="508.6" r="3.75" stroke="none"/><circle cx="1015.5" cy="543.8" r="3.75" stroke="none"/><circle cx="1032.5" cy="457" r="3.75" stroke="none"/><circle cx="1049.4" cy="503" r="3.75" stroke="none"/><circle cx="1066.4" cy="545.7" r="3.75" stroke="none"/><circle cx="1083.3" cy="420.8" r="3.75" stroke="none"/><circle cx="1100.3" cy="414.3" r="3.75" stroke="none"/><circle cx="1117.2" cy="497.8" r="3.75" stroke="none"/><circle cx="1134.2" cy="523.6" r="3.75" stroke="none"/><circle cx="1151.1" cy="431.9" r="3.75" stroke="none"/><circle cx="1168.1" cy="507.4" r="3.75" stroke="none"/><circle cx="1185" cy="513.7" r="3.75" stroke="none"/><circle cx="1202" cy="392.8" r="3.75" stroke="none"/></g>
<g stroke="#3182bd" fill="#3182bd"><polyline points="117,580.9 134,501.4 150.9,639.3 167.9,600.8 184.8,553.8 201.8,557.1 218.7,649.6 235.7,531.4 252.6,501.8 269.6,501.8 286.5,520.5 303.5,587 320.4,561.5 337.4,448.9 354.3,322.8 371.3,450.3 388.2,557.2 405.2,529.2 422.2,608 439.1,670.1 456.1,596.6 473,658.8 490,645.8 506.9,535.5 523.9,385.8 540.8,415.5 557.8,363 574.7,581.8 591.7,568.8 608.6,378.8 625.6,339.4 642.5,434.2 659.5,513.5 676.4,513.7 693.4,567.9 710.4,534.1 727.3,587 744.3,600.5 761.2,491.5 778.2,562.9 795.1,590.5 812.1,562.3 829,578.6 846,492.9 862.9,472 879.9,443.3 896.8,500 913.8,438.2 930.7,661.4 947.7,652.8 964.6,513.5 981.6,483.2 998.6,468.2 1015.5,433.7 1032.5,548.5 1049.4,539.8 1066.4,375.2 1083.3,438.2 1100.3,464.5 1117.2,605.7 1134.2,663.3 1151.1,547.5 1168.1,397.1 1185,618.9 1202,502.3" stroke-width="2.78" fill="none"/>
<circle cx="117" cy="580.9" r="3.75" stroke="none"/><circle cx="134" cy="501.4" r="3.75" stroke="none"/><circle cx="150.9" cy="639.3" r="3.75" stroke="none"/><circle cx="167.9" cy="600.8" r="3.75" stroke="none"/><circle cx="184.8" cy="553.8" r="3.75" stroke="none"/><circle cx="201.8" cy="557.1" r="3.75" stroke="none"/><circle cx="218.7" cy="649.6" r="3.75" stroke="none"/><circle cx="235.7" cy="531.4" r="3.75" stroke="none"/><circle cx="252.6" cy="501.8" r="3.75" stroke="none"/><circle cx="269.6" cy="501.8" r="3.75" stroke="none"/><circle cx="286.5" cy="520.5" r="3.75" stroke="none"/><circle cx="303.5" cy="587" r="3.75" stroke="none"/><circle cx="320.4" cy="561.5" r="3.75" stroke="none"/><circle cx="337.4" cy="448.9" r="3.75" stroke="none"/><circle cx="354.3" cy="322.8" r="3.75" stroke="none"/><circle cx="371.3" cy="450.3" r="3.75" stroke="none"/><circle cx="388.2" cy="557.2" r="3.75" stroke="none"/><circle cx="405.2" cy="529.2" r="3.75" stroke="none"/><circle cx="422.2" cy="608" r="3.75" stroke="none"/><circle cx="439.1" cy="670.1" r="3.75" stroke="none"/><circle cx="456.1" cy="596.6" r="3.75" stroke="none"/><circle cx="473" cy="658.8" r="3.75" stroke="none"/><circle cx="490" cy="645.8" r="3.75" stroke="none"/><circle cx="506.9" cy="535.5" r="3.75" stroke="none"/><circle cx="523.9" cy="385.8" r="3.75" stroke="none"/><circle cx="540.8" cy="415.5" r="3.75" stroke="none"/><circle cx="557.8" cy="363" r="3.75" stroke="none"/><circle cx="574.7" cy="581.8" r="3.75" stroke="none"/><circle cx="591.7" cy="568.8" r="3.75" stroke="none"/><circle cx="608.6" cy="378.8" r="3.75" stroke="none"/><circle cx="625.6" cy="339.4" r="3.75" stroke="none"/><circle cx="642.5" cy="434.2" r="3.75" stroke="none"/><circle cx="659.5" cy="513.5" r="3.75" stroke="none"/><circle cx="676.4" cy="513.7" r="3.75" stroke="none"/><circle cx="693.4" cy="567.9" r="3.75" stroke="none"/><circle cx="710.4" cy="534.1" r="3.75" stroke="none"/><circle cx="727.3" cy="587" r="3.75" stroke="none"/><circle cx="744.3" cy="600.5" r="3.75" stroke="none"/><circle cx="761.2" cy="491.5" r="3.75" stroke="none"/><circle cx="778.2" cy="562.9" r="3.75" stroke="none"/><circle cx="795.1" cy="590.5" r="3.75" stroke="none"/><circle cx="812.1" cy="562.3" r="3.75" stroke="none"/><circle cx="829" cy="578.6" r="3.75" stroke="none"/><circle cx="846" cy="492.9" r="3.75" stroke="none"/><circle cx="862.9" cy="472" r="3.75" stroke="none"/><circle cx="879.9" cy="443.3" r="3.75" stroke="none"/><circle cx="896.8" cy="500" r="3.75" stroke="none"/><circle cx="913.8" cy="438.2" r="3.75" stroke="none"/><circle cx="930.7" cy="661.4" r="3.75" stroke="none"/><circle cx="947.7" cy="652.8" r="3.75" stroke="none"/><circle cx="964.6" cy="513.5" r="3.75" stroke="none"/><circle cx="981.6" cy="483.2" r="3.75" stroke="none"/><circle cx="998.6" cy="468.2" r="3.75" stroke="none"/><circle cx="1015.5" cy="433.7" r="3.75" stroke="none"/><circle cx="1032.5" cy="548.5" r="3.75" stroke="none"/><circle cx="1049.4" cy="539.8" r="3.75" stroke="none"/><circle cx="1066.4" cy="375.2" r="3.75" stroke="none"/><circle cx="1083.3" cy="438.2" r="3.75" stroke="none"/><circle cx="1100.3" cy="464.5" r="3.75" stroke="none"/><circle cx="1117.2" cy="605.7" r="3.75" stroke="none"/><circle cx="1134.2" cy="663.3" r="3.75" stroke="none"/><circle cx="1151.1" cy="547.5" r="3.75" stroke="none"/><circle cx="1168.1" cy="397.1" r="3.75" stroke="none"/><circle cx="1185" cy="618.9" r="3.75" stroke="none"/><circle cx="1202" cy="502.3" r="3.75" stroke="none"/></g>
<g stroke="#6baed6" fill="#6baed6"><polyline points="117,580.2 134,519.3 150.9,676.2 167.9,585.8 184.8,571.1 201.8,538.5 218.7,651.9 235.7,527.9 252.6,444.6 269.6,461.9 286.5,467.8 303.5,506.5 320.4,506.3 337.4,368.2 354.3,347.2 371.3,381.4 388.2,577.5 405.2,534.5 422.2,652.1 439.1,622 456.1,561.6 473,615.9 490,641.2 506.9,484.1 523.9,426.5 540.8,538 557.8,353.4 574.7,554.8 591.7,544 608.6,454.9 625.6,360.2 642.5,415.5 659.5,502.1 676.4,457.5 693.4,515.2 710.4,545.7 727.3,563.7 744.3,576.7 761.2,510 778.2,661.4 795.1,584.4 812.1,491.5 829,504.1 846,569.5 862.9,579.1 879.9,573 896.8,441.1 913.8,618.5 930.7,351.4 947.7,518.6 964.6,436.3 981.6,547.3 998.6,509.8 1015.5,559.5 1032.5,464.5 1049.4,464.5 1066.4,590.7 1083.3,587 1100.3,280.8 1117.2,412.9 1134.2,440.9 1151.1,312.2 1168.1,554.5 1185,468.5 1202,443.5" stroke-width="2.78" fill="none"/>
<circle cx="117" cy="580.2" r="3.75" stroke="none"/><circle cx="134" cy="519.3" r="3.75" stroke="none"/><circle cx="150.9" cy="676.2" r="3.75" stroke="none"/><circle cx="167.9" cy="585.8" r="3.75" stroke="none"/><circle cx="184.8" cy="571.1" r="3.75" stroke="none"/><circle cx="201.8" cy="538.5" r="3.75" stroke="none"/><circle cx="218.7" cy="651.9" r="3.75" stroke="none"/><circle cx="235.7" cy="527.9" r="3.75" stroke="none"/><circle cx="252.6" cy="444.6" r="3.75" stroke="none"/><circle cx="269.6" cy="461.9" r="3.75" stroke="none"/><circle cx="286.5" cy="467.8" r="3.75" stroke="none"/><circle cx="303.5" cy="506.5" r="3.75" stroke="none"/><circle cx="320.4" cy="506.3" r="3.75" stroke="none"/><circle cx="337.4" cy="368.2" r="3.75" stroke="none"/><circle cx="354.3" cy="347.2" r="3.75" stroke="none"/><circle cx="371.3" cy="381.4" r="3.75" stroke="none"/><circle cx="388.2" cy="577.5" r="3.75" stroke="none"/><circle cx="405.2" cy="534.5" r="3.75" stroke="none"/><circle cx="422.2" cy="652.1" r="3.75" stroke="none"/><circle cx="439.1" cy="622" r="3.75" stroke="none"/><circle cx="456.1" cy="561.6" r="3.75" stroke="none"/><circle cx="473" cy="615.9" r="3.75" stroke="none"/><circle cx="490" cy="641.2" r="3.75" stroke="none"/><circle cx="506.9" cy="484.1" r="3.75" stroke="none"/><circle cx="523.9" cy="426.5" r="3.75" stroke="none"/><circle cx="540.8" cy="538" r="3.75" stroke="none"/><circle cx="557.8" cy="353.4" r="3.75" stroke="none"/><circle cx="574.7" cy="554.8" r="3.75" stroke="none"/><circle cx="591.7" cy="544" r="3.75" stroke="none"/><circle cx="608.6" cy="454.9" r="3.75" stroke="none"/><circle cx="625.6" cy="360.2" r="3.75" stroke="none"/><circle cx="642.5" cy="415.5" r="3.75" stroke="none"/><circle cx="659.5" cy="502.1" r="3.75" stroke="none"/><circle cx="676.4" cy="457.5" r="3.75" stroke="none"/><circle cx="693.4" cy="515.2" r="3.75" stroke="none"/><circle cx="710.4" cy="545.7" r="3.75" stroke="none"/><circle cx="727.3" cy="563.7" r="3.75" stroke="none"/><circle cx="744.3" cy="576.7" r="3.75" stroke="none"/><circle cx="761.2" cy="510" r="3.75" stroke="none"/><circle cx="778.2" cy="661.4" r="3.75" stroke="none"/><circle cx="795.1" cy="584.4" r="3.75" stroke="none"/><circle cx="812.1" cy="491.5" r="3.75" stroke="none"/><circle cx="829" cy="504.1" r="3.75" stroke="none"/><circle cx="846" cy="569.5" r="3.75" stroke="none"/><circle cx="862.9" cy="579.1" r="3.75" stroke="none"/><circle cx="879.9" cy="573" r="3.75" stroke="none"/><circle cx="896.8" cy="441.1" r="3.75" stroke="none"/><circle cx="913.8" cy="618.5" r="3.75" stroke="none"/><circle cx="930.7" cy="351.4" r="3.75" stroke="none"/><circle cx="947.7" cy="518.6" r="3.75" stroke="none"/><circle cx="964.6" cy="436.3" r="3.75" stroke="none"/><circle cx="981.6" cy="547.3" r="3.75" stroke="none"/><circle cx="998.6" cy="509.8" r="3.75" stroke="none"/><circle cx="1015.5" cy="559.5" r="3.75" stroke="none"/><circle cx="1032.5" cy="464.5" r="3.75" stroke="none"/><circle cx="1049.4" cy="464.5" r="3.75" stroke="none"/><circle cx="1066.4" cy="590.7" r="3.75" stroke="none"/><circle cx="1083.3" cy="587" r="3.75" stroke="none"/><circle cx="1100.3" cy="280.8" r="3.75" stroke="none"/><circle cx="1117.2" cy="412.9" r="3.75" stroke="none"/><circle cx="1134.2" cy="440.9" r="3.75" stroke="none"/><circle cx="1151.1" cy="312.2" r="3.75" stroke="none"/><circle cx="1168.1" cy="554.5" r="3.75" stroke="none"/><circle cx="1185" cy="468.5" r="3.75" stroke="none"/><circle cx="1202" cy="443.5" r="3.75" stroke="none"/></g>
<g stroke="#9ecae1" fill="#9ecae1"><polyline points="117,619 134,492.3 150.9,637.9 167.9,602.4 184.8,600.1 201.8,541 218.7,683.1 235.7,582.1 252.6,426.3 269.6,478.1 286.5,466.2 303.5,571.2 320.4,531.2 337.4,397.6 354.3,337.6 371.3,412.9 388.2,644.9 405.2,651.8 422.2,632.7 439.1,440 456.1,529.2 473,618.5 490,500.5 506.9,565 523.9,546.8 540.8,253.6 557.8,401.5 574.7,528.9 591.7,571.2 608.6,422.5 625.6,380.5 642.5,486.6 659.5,487.9 676.4,661.4 693.4,487.9 710.4,546 727.3,632.5 744.3,641.2 761.2,533.5 778.2,440.4 795.1,534.1 812.1,556.9 829,473.1 846,540.1 862.9,600.1 879.9,544 896.8,492.5 913.8,577.2 930.7,533.6 947.7,682 964.6,690.6 981.6,485.7 998.6,515.2 1015.5,564.4 1032.5,593.6 1049.4,650.9 1066.4,397.1 1083.3,347.2 1100.3,405.7 1117.2,525 1134.2,570.7 1151.1,552.9 1168.1,606.4 1185,593.1 1202,634.2" stroke-width="2.78" fill="none"/>
<circle cx="117" cy="619" r="3.75" stroke="none"/><circle cx="134" cy="492.3" r="3.75" stroke="none"/><circle cx="150.9" cy="637.9" r="3.75" stroke="none"/><circle cx="167.9" cy="602.4" r="3.75" stroke="none"/><circle cx="184.8" cy="600.1" r="3.75" stroke="none"/><circle cx="201.8" cy="541" r="3.75" stroke="none"/><circle cx="218.7" cy="683.1" r="3.75" stroke="none"/><circle cx="235.7" cy="582.1" r="3.75" stroke="none"/><circle cx="252.6" cy="426.3" r="3.75" stroke="none"/><circle cx="269.6" cy="478.1" r="3.75" stroke="none"/><circle cx="286.5" cy="466.2" r="3.75" stroke="none"/><circle cx="303.5" cy="571.2" r="3.75" stroke="none"/><circle cx="320.4" cy="531.2" r="3.75" stroke="none"/><circle cx="337.4" cy="397.6" r="3.75" stroke="none"/><circle cx="354.3" cy="337.6" r="3.75" stroke="none"/><circle cx="371.3" cy="412.9" r="3.75" stroke="none"/><circle cx="388.2" cy="644.9" r="3.75" stroke="none"/><circle cx="405.2" cy="651.8" r="3.75" stroke="none"/><circle cx="422.2" cy="632.7" r="3.75" stroke="none"/><circle cx="439.1" cy="440" r="3.75" stroke="none"/><circle cx="456.1" cy="529.2" r="3.75" stroke="none"/><circle cx="473" cy="618.5" r="3.75" stroke="none"/><circle cx="490" cy="500.5" r="3.75" stroke="none"/><circle cx="506.9" cy="565" r="3.75" stroke="none"/><circle cx="523.9" cy="546.8" r="3.75" stroke="none"/><circle cx="540.8" cy="253.6" r="3.75" stroke="none"/><circle cx="557.8" cy="401.5" r="3.75" stroke="none"/><circle cx="574.7" cy="528.9" r="3.75" stroke="none"/><circle cx="591.7" cy="571.2" r="3.75" stroke="none"/><circle cx="608.6" cy="422.5" r="3.75" stroke="none"/><circle cx="625.6" cy="380.5" r="3.75" stroke="none"/><circle cx="642.5" cy="486.6" r="3.75" stroke="none"/><circle cx="659.5" cy="487.9" r="3.75" stroke="none"/><circle cx="676.4" cy="661.4" r="3.75" stroke="none"/><circle cx="693.4" cy="487.9" r="3.75" stroke="none"/><circle cx="710.4" cy="546" r="3.75" stroke="none"/><circle cx="727.3" cy="632.5" r="3.75" stroke="none"/><circle cx="744.3" cy="641.2" r="3.75" stroke="none"/><circle cx="761.2" cy="533.5" r="3.75" stroke="none"/><circle cx="778.2" cy="440.4" r="3.75" stroke="none"/><circle cx="795.1" cy="534.1" r="3.75" stroke="none"/><circle cx="812.1" cy="556.9" r="3.75" stroke="none"/><circle cx="829" cy="473.1" r="3.75" stroke="none"/><circle cx="846" cy="540.1" r="3.75" stroke="none"/><circle cx="862.9" cy="600.1" r="3.75" stroke="none"/><circle cx="879.9" cy="544" r="3.75" stroke="none"/><circle cx="896.8" cy="492.5" r="3.75" stroke="none"/><circle cx="913.8" cy="577.2" r="3.75" stroke="none"/><circle cx="930.7" cy="533.6" r="3.75" stroke="none"/><circle cx="947.7" cy="682" r="3.75" stroke="none"/><circle cx="964.6" cy="690.6" r="3.75" stroke="none"/><circle cx="981.6" cy="485.7" r="3.75" stroke="none"/><circle cx="998.6" cy="515.2" r="3.75" stroke="none"/><circle cx="1015.5" cy="564.4" r="3.75" stroke="none"/><circle cx="1032.5" cy="593.6" r="3.75" stroke="none"/><circle cx="1049.4" cy="650.9" r="3.75" stroke="none"/><circle cx="1066.4" cy="397.1" r="3.75" stroke="none"/><circle cx="1083.3" cy="347.2" r="3.75" stroke="none"/><circle cx="1100.3" cy="405.7" r="3.75" stroke="none"/><circle cx="1117.2" cy="525" r="3.75" stroke="none"/><circle cx="1134.2" cy="570.7" r="3.75" stroke="none"/><circle cx="1151.1" cy="552.9" r="3.75" stroke="none"/><circle cx="1168.1" cy="606.4" r="3.75" stroke="none"/><circle cx="1185" cy="593.1" r="3.75" stroke="none"/><circle cx="1202" cy="634.2" r="3.75" stroke="none"/></g>
<g stroke="#c6dbef" fill="#c6dbef"><polyline points="117,586.8 134,450.5 150.9,654.4 167.9,599.8 184.8,580.5 201.8,552.7 218.7,651.9 235.7,521.5 252.6,413.8 269.6,475.4 286.5,489.9 303.5,563.9 320.4,523.1 337.4,304.4 354.3,310.5 371.3,543.2 388.2,654 405.2,638.1 422.2,447 439.1,507.2 456.1,546.8 473,468 490,487.2 506.9,488.1 523.9,673.5 540.8,640.4 557.8,608 574.7,622 591.7,405 608.6,433.5 625.6,515.2 642.5,622 659.5,572.5 676.4,506.5 693.4,644.8 710.4,462.8 727.3,578.2 744.3,601 761.2,541.7 778.2,566.7 795.1,644.8 812.1,536.8 829,289.5 846,343.8 862.9,508.2 879.9,394.5 896.8,481.1 913.8,496 930.7,452.2 947.7,527.5 964.6,590.5 981.6,627.2 998.6,618.5 1015.5,497.6 1032.5,570 1049.4,413.8 1066.4,577.7 1083.3,457.5 1100.3,480.2 1117.2,544.1 1134.2,523.8 1151.1,571.2 1168.1,622 1185,329.8 1202,636" stroke-width="2.78" fill="none"/>
<circle cx="117" cy="586.8" r="3.75" stroke="none"/><circle cx="134" cy="450.5" r="3.75" stroke="none"/><circle cx="150.9" cy="654.4" r="3.75" stroke="none"/><circle cx="167.9" cy="599.8" r="3.75" stroke="none"/><circle cx="184.8" cy="580.5" r="3.75" stroke="none"/><circle cx="201.8" cy="552.7" r="3.75" stroke="none"/><circle cx="218.7" cy="651.9" r="3.75" stroke="none"/><circle cx="235.7" cy="521.5" r="3.75" stroke="none"/><circle cx="252.6" cy="413.8" r="3.75" stroke="none"/><circle cx="269.6" cy="475.4" r="3.75" stroke="none"/><circle cx="286.5" cy="489.9" r="3.75" stroke="none"/><circle cx="303.5" cy="563.9" r="3.75" stroke="none"/><circle cx="320.4" cy="523.1" r="3.75" stroke="none"/><circle cx="337.4" cy="304.4" r="3.75" stroke="none"/><circle cx="354.3" cy="310.5" r="3.75" stroke="none"/><circle cx="371.3" cy="543.2" r="3.75" stroke="none"/><circle cx="388.2" cy="654" r="3.75" stroke="none"/><circle cx="405.2" cy="638.1" r="3.75" stroke="none"/><circle cx="422.2" cy="447" r="3.75" stroke="none"/><circle cx="439.1" cy="507.2" r="3.75" stroke="none"/><circle cx="456.1" cy="546.8" r="3.75" stroke="none"/><circle cx="473" cy="468" r="3.75" stroke="none"/><circle cx="490" cy="487.2" r="3.75" stroke="none"/><circle cx="506.9" cy="488.1" r="3.75" stroke="none"/><circle cx="523.9" cy="673.5" r="3.75" stroke="none"/><circle cx="540.8" cy="640.4" r="3.75" stroke="none"/><circle cx="557.8" cy="608" r="3.75" stroke="none"/><circle cx="574.7" cy="622" r="3.75" stroke="none"/><circle cx="591.7" cy="405" r="3.75" stroke="none"/><circle cx="608.6" cy="433.5" r="3.75" stroke="none"/><circle cx="625.6" cy="515.2" r="3.75" stroke="none"/><circle cx="642.5" cy="622" r="3.75" stroke="none"/><circle cx="659.5" cy="572.5" r="3.75" stroke="none"/><circle cx="676.4" cy="506.5" r="3.75" stroke="none"/><circle cx="693.4" cy="644.8" r="3.75" stroke="none"/><circle cx="710.4" cy="462.8" r="3.75" stroke="none"/><circle cx="727.3" cy="578.2" r="3.75" stroke="none"/><circle cx="744.3" cy="601" r="3.75" stroke="none"/><circle cx="761.2" cy="541.7" r="3.75" stroke="none"/><circle cx="778.2" cy="566.7" r="3.75" stroke="none"/><circle cx="795.1" cy="644.8" r="3.75" stroke="none"/><circle cx="812.1" cy="536.8" r="3.75" stroke="none"/><circle cx="829" cy="289.5" r="3.75" stroke="none"/><circle cx="846" cy="343.8" r="3.75" stroke="none"/><circle cx="862.9" cy="508.2" r="3.75" stroke="none"/><circle cx="879.9" cy="394.5" r="3.75" stroke="none"/><circle cx="896.8" cy="481.1" r="3.75" stroke="none"/><circle cx="913.8" cy="496" r="3.75" stroke="none"/><circle cx="930.7" cy="452.2" r="3.75" stroke="none"/><circle cx="947.7" cy="527.5" r="3.75" stroke="none"/><circle cx="964.6" cy="590.5" r="3.75" stroke="none"/><circle cx="981.6" cy="627.2" r="3.75" stroke="none"/><circle cx="998.6" cy="618.5" r="3.75" stroke="none"/><circle cx="1015.5" cy="497.6" r="3.75" stroke="none"/><circle cx="1032.5" cy="570" r="3.75" stroke="none"/><circle cx="1049.4" cy="413.8" r="3.75" stroke="none"/><circle cx="1066.4" cy="577.7" r="3.75" stroke="none"/><circle cx="1083.3" cy="457.5" r="3.75" stroke="none"/><circle cx="1100.3" cy="480.2" r="3.75" stroke="none"/><circle cx="1117.2" cy="544.1" r="3.75" stroke="none"/><circle cx="1134.2" cy="523.8" r="3.75" stroke="none"/><circle cx="1151.1" cy="571.2" r="3.75" stroke="none"/><circle cx="1168.1" cy="622" r="3.75" stroke="none"/><circle cx="1185" cy="329.8" r="3.75" stroke="none"/><circle cx="1202" cy="636" r="3.75" stroke="none"/></g>
<g stroke="#e6550d" fill="#e6550d"><polyline points="117,589.6 134,504.8 150.9,659.6 167.9,595 184.8,596.8 201.8,531.4 218.7,652.5 235.7,563.4 252.6,420.8 269.6,470.3 286.5,473.8 303.5,501.2 320.4,513.1 337.4,430.4 354.3,399.4 371.3,480.8 388.2,643 405.2,658 422.2,504.8 439.1,566 456.1,582.8 473,566 490,492.7 506.9,581.8 523.9,506.3 540.8,438.9 557.8,314 574.7,420.8 591.7,560.8 608.6,336.8 625.6,387.9 642.5,487.1 659.5,618.1 676.4,572.1 693.4,401.5 710.4,321.5 727.3,501.2 744.3,626 761.2,490.8 778.2,532.8 795.1,527.5 812.1,496.9 829,491.3 846,513.5 862.9,637.8 879.9,456.6 896.8,468.2 913.8,521.4 930.7,640.2 947.7,568.6 964.6,367.2 981.6,529.6 998.6,566.7 1015.5,362.3 1032.5,510.9 1049.4,600.5 1066.4,540.5 1083.3,515.2 1100.3,555.5 1117.2,557.1 1134.2,521.4 1151.1,632.5 1168.1,655.8 1185,602.8 1202,688.7" stroke-width="2.78" fill="none"/>
<circle cx="117" cy="589.6" r="3.75" stroke="none"/><circle cx="134" cy="504.8" r="3.75" stroke="none"/><circle cx="150.9" cy="659.6" r="3.75" stroke="none"/><circle cx="167.9" cy="595" r="3.75" stroke="none"/><circle cx="184.8" cy="596.8" r="3.75" stroke="none"/><circle cx="201.8" cy="531.4" r="3.75" stroke="none"/><circle cx="218.7" cy="652.5" r="3.75" stroke="none"/><circle cx="235.7" cy="563.4" r="3.75" stroke="none"/><circle cx="252.6" cy="420.8" r="3.75" stroke="none"/><circle cx="269.6" cy="470.3" r="3.75" stroke="none"/><circle cx="286.5" cy="473.8" r="3.75" stroke="none"/><circle cx="303.5" cy="501.2" r="3.75" stroke="none"/><circle cx="320.4" cy="513.1" r="3.75" stroke="none"/><circle cx="337.4" cy="430.4" r="3.75" stroke="none"/><circle cx="354.3" cy="399.4" r="3.75" stroke="none"/><circle cx="371.3" cy="480.8" r="3.75" stroke="none"/><circle cx="388.2" cy="643" r="3.75" stroke="none"/><circle cx="405.2" cy="658" r="3.75" stroke="none"/><circle cx="422.2" cy="504.8" r="3.75" stroke="none"/><circle cx="439.1" cy="566" r="3.75" stroke="none"/><circle cx="456.1" cy="582.8" r="3.75" stroke="none"/><circle cx="473" cy="566" r="3.75" stroke="none"/><circle cx="490" cy="492.7" r="3.75" stroke="none"/><circle cx="506.9" cy="581.8" r="3.75" stroke="none"/><circle cx="523.9" cy="506.3" r="3.75" stroke="none"/><circle cx="540.8" cy="438.9" r="3.75" stroke="none"/><circle cx="557.8" cy="314" r="3.75" stroke="none"/><circle cx="574.7" cy="420.8" r="3.75" stroke="none"/><circle cx="591.7" cy="560.8" r="3.75" stroke="none"/><circle cx="608.6" cy="336.8" r="3.75" stroke="none"/><circle cx="625.6" cy="387.9" r="3.75" stroke="none"/><circle cx="642.5" cy="487.1" r="3.75" stroke="none"/><circle cx="659.5" cy="618.1" r="3.75" stroke="none"/><circle cx="676.4" cy="572.1" r="3.75" stroke="none"/><circle cx="693.4" cy="401.5" r="3.75" stroke="none"/><circle cx="710.4" cy="321.5" r="3.75" stroke="none"/><circle cx="727.3" cy="501.2" r="3.75" stroke="none"/><circle cx="744.3" cy="626" r="3.75" stroke="none"/><circle cx="761.2" cy="490.8" r="3.75" stroke="none"/><circle cx="778.2" cy="532.8" r="3.75" stroke="none"/><circle cx="795.1" cy="527.5" r="3.75" stroke="none"/><circle cx="812.1" cy="496.9" r="3.75" stroke="none"/><circle cx="829" cy="491.3" r="3.75" stroke="none"/><circle cx="846" cy="513.5" r="3.75" stroke="none"/><circle cx="862.9" cy="637.8" r="3.75" stroke="none"/><circle cx="879.9" cy="456.6" r="3.75" stroke="none"/><circle cx="896.8" cy="468.2" r="3.75" stroke="none"/><circle cx="913.8" cy="521.4" r="3.75" stroke="none"/><circle cx="930.7" cy="640.2" r="3.75" stroke="none"/><circle cx="947.7" cy="568.6" r="3.75" stroke="none"/><circle cx="964.6" cy="367.2" r="3.75" stroke="none"/><circle cx="981.6" cy="529.6" r="3.75" stroke="none"/><circle cx="998.6" cy="566.7" r="3.75" stroke="none"/><circle cx="1015.5" cy="362.3" r="3.75" stroke="none"/><circle cx="1032.5" cy="510.9" r="3.75" stroke="none"/><circle cx="1049.4" cy="600.5" r="3.75" stroke="none"/><circle cx="1066.4" cy="540.5" r="3.75" stroke="none"/><circle cx="1083.3" cy="515.2" r="3.75" stroke="none"/><circle cx="1100.3" cy="555.5" r="3.75" stroke="none"/><circle cx="1117.2" cy="557.1" r="3.75" stroke="none"/><circle cx="1134.2" cy="521.4" r="3.75" stroke="none"/><circle cx="1151.1" cy="632.5" r="3.75" stroke="none"/><circle cx="1168.1" cy="655.8" r="3.75" stroke="none"/><circle cx="1185" cy="602.8" r="3.75" stroke="none"/><circle cx="1202" cy="688.7" r="3.75" stroke="none"/></g>
<g stroke="#fd8d3c" fill="#fd8d3c"><polyline points="117,592.6 134,518 150.9,653 167.9,585.8 184.8,602.8 201.8,546.6 218.7,674.9 235.7,498.6 252.6,446.3 269.6,453.6 286.5,443.5 303.5,554.3 320.4,532.6 337.4,471.3 354.3,371.4 371.3,506 388.2,599.1 405.2,623.8 422.2,492.5 439.1,460.1 456.1,625.3 473,598.4 490,560 506.9,510 523.9,364.8 540.8,412.2 557.8,528.2 574.7,438.2 591.7,454 608.6,422 625.6,505.1 642.5,429.5 659.5,573 676.4,370 693.4,557.4 710.4,594.5 727.3,641.2 744.3,685.7 761.2,494.6 778.2,508.6 795.1,633.4 812.1,368.9 829,298.2 846,387.5 862.9,494.9 879.9,351.4 896.8,343.8 913.8,537.8 930.7,571.2 947.7,477.6 964.6,347.2 981.6,469.8 998.6,653.9 1015.5,461.9 1032.5,461 1049.4,609 1066.4,579.8 1083.3,630 1100.3,597.7 1117.2,573 1134.2,592.8 1151.1,444.4 1168.1,451.4 1185,503.7 1202,581.8" stroke-width="2.78" fill="none"/>
<circle cx="117" cy="592.6" r="3.75" stroke="none"/><circle cx="134" cy="518" r="3.75" stroke="none"/><circle cx="150.9" cy="653" r="3.75" stroke="none"/><circle cx="167.9" cy="585.8" r="3.75" stroke="none"/><circle cx="184.8" cy="602.8" r="3.75" stroke="none"/><circle cx="201.8" cy="546.6" r="3.75" stroke="none"/><circle cx="218.7" cy="674.9" r="3.75" stroke="none"/><circle cx="235.7" cy="498.6" r="3.75" stroke="none"/><circle cx="252.6" cy="446.3" r="3.75" stroke="none"/><circle cx="269.6" cy="453.6" r="3.75" stroke="none"/><circle cx="286.5" cy="443.5" r="3.75" stroke="none"/><circle cx="303.5" cy="554.3" r="3.75" stroke="none"/><circle cx="320.4" cy="532.6" r="3.75" stroke="none"/><circle cx="337.4" cy="471.3" r="3.75" stroke="none"/><circle cx="354.3" cy="371.4" r="3.75" stroke="none"/><circle cx="371.3" cy="506" r="3.75" stroke="none"/><circle cx="388.2" cy="599.1" r="3.75" stroke="none"/><circle cx="405.2" cy="623.8" r="3.75" stroke="none"/><circle cx="422.2" cy="492.5" r="3.75" stroke="none"/><circle cx="439.1" cy="460.1" r="3.75" stroke="none"/><circle cx="456.1" cy="625.3" r="3.75" stroke="none"/><circle cx="473" cy="598.4" r="3.75" stroke="none"/><circle cx="490" cy="560" r="3.75" stroke="none"/><circle cx="506.9" cy="510" r="3.75" stroke="none"/><circle cx="523.9" cy="364.8" r="3.75" stroke="none"/><circle cx="540.8" cy="412.2" r="3.75" stroke="none"/><circle cx="557.8" cy="528.2" r="3.75" stroke="none"/><circle cx="574.7" cy="438.2" r="3.75" stroke="none"/><circle cx="591.7" cy="454" r="3.75" stroke="none"/><circle cx="608.6" cy="422" r="3.75" stroke="none"/><circle cx="625.6" cy="505.1" r="3.75" stroke="none"/><circle cx="642.5" cy="429.5" r="3.75" stroke="none"/><circle cx="659.5" cy="573" r="3.75" stroke="none"/><circle cx="676.4" cy="370" r="3.75" stroke="none"/><circle cx="693.4" cy="557.4" r="3.75" stroke="none"/><circle cx="710.4" cy="594.5" r="3.75" stroke="none"/><circle cx="727.3" cy="641.2" r="3.75" stroke="none"/><circle cx="744.3" cy="685.7" r="3.75" stroke="none"/><circle cx="761.2" cy="494.6" r="3.75" stroke="none"/><circle cx="778.2" cy="508.6" r="3.75" stroke="none"/><circle cx="795.1" cy="633.4" r="3.75" stroke="none"/><circle cx="812.1" cy="368.9" r="3.75" stroke="none"/><circle cx="829" cy="298.2" r="3.75" stroke="none"/><circle cx="846" cy="387.5" r="3.75" stroke="none"/><circle cx="862.9" cy="494.9" r="3.75" stroke="none"/><circle cx="879.9" cy="351.4" r="3.75" stroke="none"/><circle cx="896.8" cy="343.8" r="3.75" stroke="none"/><circle cx="913.8" cy="537.8" r="3.75" stroke="none"/><circle cx="930.7" cy="571.2" r="3.75" stroke="none"/><circle cx="947.7" cy="477.6" r="3.75" stroke="none"/><circle cx="964.6" cy="347.2" r="3.75" stroke="none"/><circle cx="981.6" cy="469.8" r="3.75" stroke="none"/><circle cx="998.6" cy="653.9" r="3.75" stroke="none"/><circle cx="1015.5" cy="461.9" r="3.75" stroke="none"/><circle cx="1032.5" cy="461" r="3.75" stroke="none"/><circle cx="1049.4" cy="609" r="3.75" stroke="none"/><circle cx="1066.4" cy="579.8" r="3.75" stroke="none"/><circle cx="1083.3" cy="630" r="3.75" stroke="none"/><circle cx="1100.3" cy="597.7" r="3.75" stroke="none"/><circle cx="1117.2" cy="573" r="3.75" stroke="none"/><circle cx="1134.2" cy="592.8" r="3.75" stroke="none"/><circle cx="1151.1" cy="444.4" r="3.75" stroke="none"/><circle cx="1168.1" cy="451.4" r="3.75" stroke="none"/><circle cx="1185" cy="503.7" r="3.75" stroke="none"/><circle cx="1202" cy="581.8" r="3.75" stroke="none"/></g>
<g stroke="#fdae6b" fill="#fdae6b"><polyline points="117,580.2 134,549 150.9,637 167.9,606.8 184.8,619 201.8,503.9 218.7,652.5 235.7,515.6 252.6,580.2 269.6,463.3 286.5,455.6 303.5,526.6 320.4,527.7 337.4,478.5 354.3,402.6 371.3,489.7 388.2,621 405.2,631.6 422.2,514.9 439.1,524.5 456.1,552.9 473,559.4 490,496 506.9,524.7 523.9,605 540.8,506.5 557.8,370.9 574.7,448.8 591.7,588.6 608.6,408.5 625.6,370 642.5,585.2 659.5,525.9 676.4,391 693.4,581.8 710.4,571.1 727.3,643.5 744.3,647.2 761.2,501.4 778.2,461 795.1,563.7 812.1,545 829,548.5 846,562.5 862.9,415.9 879.9,445.2 896.8,478.5 913.8,552.7 930.7,615.5 947.7,562.5 964.6,523 981.6,580.5 998.6,620.2 1015.5,415.7 1032.5,471.5 1049.4,646.5 1066.4,538.5 1083.3,429.5 1100.3,375.8 1117.2,492.5 1134.2,496.5 1151.1,391 1168.1,410.9 1185,500 1202,588.8" stroke-width="2.78" fill="none"/>
<circle cx="117" cy="580.2" r="3.75" stroke="none"/><circle cx="134" cy="549" r="3.75" stroke="none"/><circle cx="150.9" cy="637" r="3.75" stroke="none"/><circle cx="167.9" cy="606.8" r="3.75" stroke="none"/><circle cx="184.8" cy="619" r="3.75" stroke="none"/><circle cx="201.8" cy="503.9" r="3.75" stroke="none"/><circle cx="218.7" cy="652.5" r="3.75" stroke="none"/><circle cx="235.7" cy="515.6" r="3.75" stroke="none"/><circle cx="252.6" cy="580.2" r="3.75" stroke="none"/><circle cx="269.6" cy="463.3" r="3.75" stroke="none"/><circle cx="286.5" cy="455.6" r="3.75" stroke="none"/><circle cx="303.5" cy="526.6" r="3.75" stroke="none"/><circle cx="320.4" cy="527.7" r="3.75" stroke="none"/><circle cx="337.4" cy="478.5" r="3.75" stroke="none"/><circle cx="354.3" cy="402.6" r="3.75" stroke="none"/><circle cx="371.3" cy="489.7" r="3.75" stroke="none"/><circle cx="388.2" cy="621" r="3.75" stroke="none"/><circle cx="405.2" cy="631.6" r="3.75" stroke="none"/><circle cx="422.2" cy="514.9" r="3.75" stroke="none"/><circle cx="439.1" cy="524.5" r="3.75" stroke="none"/><circle cx="456.1" cy="552.9" r="3.75" stroke="none"/><circle cx="473" cy="559.4" r="3.75" stroke="none"/><circle cx="490" cy="496" r="3.75" stroke="none"/><circle cx="506.9" cy="524.7" r="3.75" stroke="none"/><circle cx="523.9" cy="605" r="3.75" stroke="none"/><circle cx="540.8" cy="506.5" r="3.75" stroke="none"/><circle cx="557.8" cy="370.9" r="3.75" stroke="none"/><circle cx="574.7" cy="448.8" r="3.75" stroke="none"/><circle cx="591.7" cy="588.6" r="3.75" stroke="none"/><circle cx="608.6" cy="408.5" r="3.75" stroke="none"/><circle cx="625.6" cy="370" r="3.75" stroke="none"/><circle cx="642.5" cy="585.2" r="3.75" stroke="none"/><circle cx="659.5" cy="525.9" r="3.75" stroke="none"/><circle cx="676.4" cy="391" r="3.75" stroke="none"/><circle cx="693.4" cy="581.8" r="3.75" stroke="none"/><circle cx="710.4" cy="571.1" r="3.75" stroke="none"/><circle cx="727.3" cy="643.5" r="3.75" stroke="none"/><circle cx="744.3" cy="647.2" r="3.75" stroke="none"/><circle cx="761.2" cy="501.4" r="3.75" stroke="none"/><circle cx="778.2" cy="461" r="3.75" stroke="none"/><circle cx="795.1" cy="563.7" r="3.75" stroke="none"/><circle cx="812.1" cy="545" r="3.75" stroke="none"/><circle cx="829" cy="548.5" r="3.75" stroke="none"/><circle cx="846" cy="562.5" r="3.75" stroke="none"/><circle cx="862.9" cy="415.9" r="3.75" stroke="none"/><circle cx="879.9" cy="445.2" r="3.75" stroke="none"/><circle cx="896.8" cy="478.5" r="3.75" stroke="none"/><circle cx="913.8" cy="552.7" r="3.75" stroke="none"/><circle cx="930.7" cy="615.5" r="3.75" stroke="none"/><circle cx="947.7" cy="562.5" r="3.75" stroke="none"/><circle cx="964.6" cy="523" r="3.75" stroke="none"/><circle cx="981.6" cy="580.5" r="3.75" stroke="none"/><circle cx="998.6" cy="620.2" r="3.75" stroke="none"/><circle cx="1015.5" cy="415.7" r="3.75" stroke="none"/><circle cx="1032.5" cy="471.5" r="3.75" stroke="none"/><circle cx="1049.4" cy="646.5" r="3.75" stroke="none"/><circle cx="1066.4" cy="538.5" r="3.75" stroke="none"/><circle cx="1083.3" cy="429.5" r="3.75" stroke="none"/><circle cx="1100.3" cy="375.8" r="3.75" stroke="none"/><circle cx="1117.2" cy="492.5" r="3.75" stroke="none"/><circle cx="1134.2" cy="496.5" r="3.75" stroke="none"/><circle cx="1151.1" cy="391" r="3.75" stroke="none"/><circle cx="1168.1" cy="410.9" r="3.75" stroke="none"/><circle cx="1185" cy="500" r="3.75" stroke="none"/><circle cx="1202" cy="588.8" r="3.75" stroke="none"/></g>
<g stroke="#fdd0a2" fill="#fdd0a2"><polyline points="117,604.1 134,511.6 150.9,644.8 167.9,621.3 184.8,612.5 201.8,496 218.7,665.8 235.7,559.5 252.6,506.7 269.6,474.8 286.5,433 303.5,435.6 320.4,503.4 337.4,473.2 354.3,478.5 371.3,478.3 388.2,573 405.2,612 422.2,573.9 439.1,580 456.1,685.7 473,678.4 490,540.8 506.9,504.1 523.9,538 540.8,447 557.8,491.8 574.7,494.1 591.7,504.1 608.6,448.8 625.6,384.7 642.5,430.4 659.5,588.6 676.4,623.8 693.4,305.2 710.4,474.3 727.3,589.6 744.3,579.8 761.2,569.5 778.2,578.2 795.1,664 812.1,569.5 829,545.7 846,439.8 862.9,546.8 879.9,555.5 896.8,384 913.8,438.8 930.7,541.5 947.7,474.3 964.6,514.5 981.6,516.1 998.6,505.1 1015.5,555.3 1032.5,406.8 1049.4,442.8 1066.4,443.2 1083.3,557.8 1100.3,611.5 1117.2,508.2 1134.2,590 1151.1,661.4 1168.1,697.8 1185,417.2 1202,195" stroke-width="2.78" fill="none"/>
<circle cx="117" cy="604.1" r="3.75" stroke="none"/><circle cx="134" cy="511.6" r="3.75" stroke="none"/><circle cx="150.9" cy="644.8" r="3.75" stroke="none"/><circle cx="167.9" cy="621.3" r="3.75" stroke="none"/><circle cx="184.8" cy="612.5" r="3.75" stroke="none"/><circle cx="201.8" cy="496" r="3.75" stroke="none"/><circle cx="218.7" cy="665.8" r="3.75" stroke="none"/><circle cx="235.7" cy="559.5" r="3.75" stroke="none"/><circle cx="252.6" cy="506.7" r="3.75" stroke="none"/><circle cx="269.6" cy="474.8" r="3.75" stroke="none"/><circle cx="286.5" cy="433" r="3.75" stroke="none"/><circle cx="303.5" cy="435.6" r="3.75" stroke="none"/><circle cx="320.4" cy="503.4" r="3.75" stroke="none"/><circle cx="337.4" cy="473.2" r="3.75" stroke="none"/><circle cx="354.3" cy="478.5" r="3.75" stroke="none"/><circle cx="371.3" cy="478.3" r="3.75" stroke="none"/><circle cx="388.2" cy="573" r="3.75" stroke="none"/><circle cx="405.2" cy="612" r="3.75" stroke="none"/><circle cx="422.2" cy="573.9" r="3.75" stroke="none"/><circle cx="439.1" cy="580" r="3.75" stroke="none"/><circle cx="456.1" cy="685.7" r="3.75" stroke="none"/><circle cx="473" cy="678.4" r="3.75" stroke="none"/><circle cx="490" cy="540.8" r="3.75" stroke="none"/><circle cx="506.9" cy="504.1" r="3.75" stroke="none"/><circle cx="523.9" cy="538" r="3.75" stroke="none"/><circle cx="540.8" cy="447" r="3.75" stroke="none"/><circle cx="557.8" cy="491.8" r="3.75" stroke="none"/><circle cx="574.7" cy="494.1" r="3.75" stroke="none"/><circle cx="591.7" cy="504.1" r="3.75" stroke="none"/><circle cx="608.6" cy="448.8" r="3.75" stroke="none"/><circle cx="625.6" cy="384.7" r="3.75" stroke="none"/><circle cx="642.5" cy="430.4" r="3.75" stroke="none"/><circle cx="659.5" cy="588.6" r="3.75" stroke="none"/><circle cx="676.4" cy="623.8" r="3.75" stroke="none"/><circle cx="693.4" cy="305.2" r="3.75" stroke="none"/><circle cx="710.4" cy="474.3" r="3.75" stroke="none"/><circle cx="727.3" cy="589.6" r="3.75" stroke="none"/><circle cx="744.3" cy="579.8" r="3.75" stroke="none"/><circle cx="761.2" cy="569.5" r="3.75" stroke="none"/><circle cx="778.2" cy="578.2" r="3.75" stroke="none"/><circle cx="795.1" cy="664" r="3.75" stroke="none"/><circle cx="812.1" cy="569.5" r="3.75" stroke="none"/><circle cx="829" cy="545.7" r="3.75" stroke="none"/><circle cx="846" cy="439.8" r="3.75" stroke="none"/><circle cx="862.9" cy="546.8" r="3.75" stroke="none"/><circle cx="879.9" cy="555.5" r="3.75" stroke="none"/><circle cx="896.8" cy="384" r="3.75" stroke="none"/><circle cx="913.8" cy="438.8" r="3.75" stroke="none"/><circle cx="930.7" cy="541.5" r="3.75" stroke="none"/><circle cx="947.7" cy="474.3" r="3.75" stroke="none"/><circle cx="964.6" cy="514.5" r="3.75" stroke="none"/><circle cx="981.6" cy="516.1" r="3.75" stroke="none"/><circle cx="998.6" cy="505.1" r="3.75" stroke="none"/><circle cx="1015.5" cy="555.3" r="3.75" stroke="none"/><circle cx="1032.5" cy="406.8" r="3.75" stroke="none"/><circle cx="1049.4" cy="442.8" r="3.75" stroke="none"/><circle cx="1066.4" cy="443.2" r="3.75" stroke="none"/><circle cx="1083.3" cy="557.8" r="3.75" stroke="none"/><circle cx="1100.3" cy="611.5" r="3.75" stroke="none"/><circle cx="1117.2" cy="508.2" r="3.75" stroke="none"/><circle cx="1134.2" cy="590" r="3.75" stroke="none"/><circle cx="1151.1" cy="661.4" r="3.75" stroke="none"/><circle cx="1168.1" cy="697.8" r="3.75" stroke="none"/><circle cx="1185" cy="417.2" r="3.75" stroke="none"/><circle cx="1202" cy="195" r="3.75" stroke="none"/></g>
<g stroke="#31a354" fill="#31a354"><polyline points="117,578.6 134,487.2 150.9,639.3 167.9,593.8 184.8,584.9 201.8,536.8 218.7,655.8 235.7,511.8 252.6,496.5 269.6,447 286.5,452.2 303.5,529.8 320.4,535.2 337.4,394.5 354.3,340.2 371.3,462.6 388.2,633.4 405.2,690.6 422.2,510 439.1,682 456.1,567.8 473,595.8 490,532.8 506.9,422.5 523.9,536.2 540.8,651.2 557.8,518.8 574.7,364.8 591.7,524 608.6,557.2 625.6,467.3 642.5,493.7 659.5,623.8 676.4,595.8 693.4,496 710.4,630.8 727.3,599.2 744.3,629 761.2,458 778.2,475 795.1,480.2 812.1,482 829,413.8 846,407.6 862.9,413.8 879.9,531 896.8,517 913.8,513.3 930.7,506.5 947.7,510 964.6,392.8 981.6,514.9 998.6,585.8 1015.5,490.6 1032.5,356 1049.4,397.1 1066.4,385.8 1083.3,380.5 1100.3,396.2 1117.2,425.1 1134.2,471.5 1151.1,480.2 1168.1,564.2 1185,665.8 1202,622" stroke-width="2.78" fill="none"/>
<circle cx="117" cy="578.6" r="3.75" stroke="none"/><circle cx="134" cy="487.2" r="3.75" stroke="none"/><circle cx="150.9" cy="639.3" r="3.75" stroke="none"/><circle cx="167.9" cy="593.8" r="3.75" stroke="none"/><circle cx="184.8" cy="584.9" r="3.75" stroke="none"/><circle cx="201.8" cy="536.8" r="3.75" stroke="none"/><circle cx="218.7" cy="655.8" r="3.75" stroke="none"/><circle cx="235.7" cy="511.8" r="3.75" stroke="none"/><circle cx="252.6" cy="496.5" r="3.75" stroke="none"/><circle cx="269.6" cy="447" r="3.75" stroke="none"/><circle cx="286.5" cy="452.2" r="3.75" stroke="none"/><circle cx="303.5" cy="529.8" r="3.75" stroke="none"/><circle cx="320.4" cy="535.2" r="3.75" stroke="none"/><circle cx="337.4" cy="394.5" r="3.75" stroke="none"/><circle cx="354.3" cy="340.2" r="3.75" stroke="none"/><circle cx="371.3" cy="462.6" r="3.75" stroke="none"/><circle cx="388.2" cy="633.4" r="3.75" stroke="none"/><circle cx="405.2" cy="690.6" r="3.75" stroke="none"/><circle cx="422.2" cy="510" r="3.75" stroke="none"/><circle cx="439.1" cy="682" r="3.75" stroke="none"/><circle cx="456.1" cy="567.8" r="3.75" stroke="none"/><circle cx="473" cy="595.8" r="3.75" stroke="none"/><circle cx="490" cy="532.8" r="3.75" stroke="none"/><circle cx="506.9" cy="422.5" r="3.75" stroke="none"/><circle cx="523.9" cy="536.2" r="3.75" stroke="none"/><circle cx="540.8" cy="651.2" r="3.75" stroke="none"/><circle cx="557.8" cy="518.8" r="3.75" stroke="none"/><circle cx="574.7" cy="364.8" r="3.75" stroke="none"/><circle cx="591.7" cy="524" r="3.75" stroke="none"/><circle cx="608.6" cy="557.2" r="3.75" stroke="none"/><circle cx="625.6" cy="467.3" r="3.75" stroke="none"/><circle cx="642.5" cy="493.7" r="3.75" stroke="none"/><circle cx="659.5" cy="623.8" r="3.75" stroke="none"/><circle cx="676.4" cy="595.8" r="3.75" stroke="none"/><circle cx="693.4" cy="496" r="3.75" stroke="none"/><circle cx="710.4" cy="630.8" r="3.75" stroke="none"/><circle cx="727.3" cy="599.2" r="3.75" stroke="none"/><circle cx="744.3" cy="629" r="3.75" stroke="none"/><circle cx="761.2" cy="458" r="3.75" stroke="none"/><circle cx="778.2" cy="475" r="3.75" stroke="none"/><circle cx="795.1" cy="480.2" r="3.75" stroke="none"/><circle cx="812.1" cy="482" r="3.75" stroke="none"/><circle cx="829" cy="413.8" r="3.75" stroke="none"/><circle cx="846" cy="407.6" r="3.75" stroke="none"/><circle cx="862.9" cy="413.8" r="3.75" stroke="none"/><circle cx="879.9" cy="531" r="3.75" stroke="none"/><circle cx="896.8" cy="517" r="3.75" stroke="none"/><circle cx="913.8" cy="513.3" r="3.75" stroke="none"/><circle cx="930.7" cy="506.5" r="3.75" stroke="none"/><circle cx="947.7" cy="510" r="3.75" stroke="none"/><circle cx="964.6" cy="392.8" r="3.75" stroke="none"/><circle cx="981.6" cy="514.9" r="3.75" stroke="none"/><circle cx="998.6" cy="585.8" r="3.75" stroke="none"/><circle cx="1015.5" cy="490.6" r="3.75" stroke="none"/><circle cx="1032.5" cy="356" r="3.75" stroke="none"/><circle cx="1049.4" cy="397.1" r="3.75" stroke="none"/><circle cx="1066.4" cy="385.8" r="3.75" stroke="none"/><circle cx="1083.3" cy="380.5" r="3.75" stroke="none"/><circle cx="1100.3" cy="396.2" r="3.75" stroke="none"/><circle cx="1117.2" cy="425.1" r="3.75" stroke="none"/><circle cx="1134.2" cy="471.5" r="3.75" stroke="none"/><circle cx="1151.1" cy="480.2" r="3.75" stroke="none"/><circle cx="1168.1" cy="564.2" r="3.75" stroke="none"/><circle cx="1185" cy="665.8" r="3.75" stroke="none"/><circle cx="1202" cy="622" r="3.75" stroke="none"/></g>
<g stroke="#74c476" fill="#74c476"><polyline points="117,597.5 134,490.8 150.9,669.2 167.9,576.5 184.8,561.5 201.8,516.1 218.7,645.5 235.7,511.4 252.6,444 269.6,520.5 286.5,482 303.5,562.5 320.4,519.6 337.4,403.1 354.3,408.5 371.3,429.5 388.2,703.4 405.2,610.6 422.2,518.8 439.1,614.1 456.1,592.6 473,643.5 490,515.2 506.9,574.8 523.9,461 540.8,454 557.8,477.6 574.7,540.8 591.7,440.9 608.6,335 625.6,440 642.5,441.8 659.5,551 676.4,464.5 693.4,627.2 710.4,529.2 727.3,539.4 744.3,507 761.2,491.5 778.2,549.5 795.1,601 812.1,534.5 829,415.5 846,477.3 862.9,403.2 879.9,416.4 896.8,419 913.8,534.5 930.7,601.5 947.7,489 964.6,545 981.6,569.5 998.6,680.1 1015.5,624.6 1032.5,605.5 1049.4,685 1066.4,581.8 1083.3,596.6 1100.3,560.8 1117.2,331.5 1134.2,611.5 1151.1,644.8 1168.1,559 1185,660.5 1202,511" stroke-width="2.78" fill="none"/>
<circle cx="117" cy="597.5" r="3.75" stroke="none"/><circle cx="134" cy="490.8" r="3.75" stroke="none"/><circle cx="150.9" cy="669.2" r="3.75" stroke="none"/><circle cx="167.9" cy="576.5" r="3.75" stroke="none"/><circle cx="184.8" cy="561.5" r="3.75" stroke="none"/><circle cx="201.8" cy="516.1" r="3.75" stroke="none"/><circle cx="218.7" cy="645.5" r="3.75" stroke="none"/><circle cx="235.7" cy="511.4" r="3.75" stroke="none"/><circle cx="252.6" cy="444" r="3.75" stroke="none"/><circle cx="269.6" cy="520.5" r="3.75" stroke="none"/><circle cx="286.5" cy="482" r="3.75" stroke="none"/><circle cx="303.5" cy="562.5" r="3.75" stroke="none"/><circle cx="320.4" cy="519.6" r="3.75" stroke="none"/><circle cx="337.4" cy="403.1" r="3.75" stroke="none"/><circle cx="354.3" cy="408.5" r="3.75" stroke="none"/><circle cx="371.3" cy="429.5" r="3.75" stroke="none"/><circle cx="388.2" cy="703.4" r="3.75" stroke="none"/><circle cx="405.2" cy="610.6" r="3.75" stroke="none"/><circle cx="422.2" cy="518.8" r="3.75" stroke="none"/><circle cx="439.1" cy="614.1" r="3.75" stroke="none"/><circle cx="456.1" cy="592.6" r="3.75" stroke="none"/><circle cx="473" cy="643.5" r="3.75" stroke="none"/><circle cx="490" cy="515.2" r="3.75" stroke="none"/><circle cx="506.9" cy="574.8" r="3.75" stroke="none"/><circle cx="523.9" cy="461" r="3.75" stroke="none"/><circle cx="540.8" cy="454" r="3.75" stroke="none"/><circle cx="557.8" cy="477.6" r="3.75" stroke="none"/><circle cx="574.7" cy="540.8" r="3.75" stroke="none"/><circle cx="591.7" cy="440.9" r="3.75" stroke="none"/><circle cx="608.6" cy="335" r="3.75" stroke="none"/><circle cx="625.6" cy="440" r="3.75" stroke="none"/><circle cx="642.5" cy="441.8" r="3.75" stroke="none"/><circle cx="659.5" cy="551" r="3.75" stroke="none"/><circle cx="676.4" cy="464.5" r="3.75" stroke="none"/><circle cx="693.4" cy="627.2" r="3.75" stroke="none"/><circle cx="710.4" cy="529.2" r="3.75" stroke="none"/><circle cx="727.3" cy="539.4" r="3.75" stroke="none"/><circle cx="744.3" cy="507" r="3.75" stroke="none"/><circle cx="761.2" cy="491.5" r="3.75" stroke="none"/><circle cx="778.2" cy="549.5" r="3.75" stroke="none"/><circle cx="795.1" cy="601" r="3.75" stroke="none"/><circle cx="812.1" cy="534.5" r="3.75" stroke="none"/><circle cx="829" cy="415.5" r="3.75" stroke="none"/><circle cx="846" cy="477.3" r="3.75" stroke="none"/><circle cx="862.9" cy="403.2" r="3.75" stroke="none"/><circle cx="879.9" cy="416.4" r="3.75" stroke="none"/><circle cx="896.8" cy="419" r="3.75" stroke="none"/><circle cx="913.8" cy="534.5" r="3.75" stroke="none"/><circle cx="930.7" cy="601.5" r="3.75" stroke="none"/><circle cx="947.7" cy="489" r="3.75" stroke="none"/><circle cx="964.6" cy="545" r="3.75" stroke="none"/><circle cx="981.6" cy="569.5" r="3.75" stroke="none"/><circle cx="998.6" cy="680.1" r="3.75" stroke="none"/><circle cx="1015.5" cy="624.6" r="3.75" stroke="none"/><circle cx="1032.5" cy="605.5" r="3.75" stroke="none"/><circle cx="1049.4" cy="685" r="3.75" stroke="none"/><circle cx="1066.4" cy="581.8" r="3.75" stroke="none"/><circle cx="1083.3" cy="596.6" r="3.75" stroke="none"/><circle cx="1100.3" cy="560.8" r="3.75" stroke="none"/><circle cx="1117.2" cy="331.5" r="3.75" stroke="none"/><circle cx="1134.2" cy="611.5" r="3.75" stroke="none"/><circle cx="1151.1" cy="644.8" r="3.75" stroke="none"/><circle cx="1168.1" cy="559" r="3.75" stroke="none"/><circle cx="1185" cy="660.5" r="3.75" stroke="none"/><circle cx="1202" cy="511" r="3.75" stroke="none"/></g>
<g stroke="#a1d99b" fill="#a1d99b"><polyline points="117,602.8 134,509.8 150.9,671 167.9,603.6 184.8,601.4 201.8,550.2 218.7,663.3 235.7,549.2 252.6,514.2 269.6,444 286.5,501.2 303.5,548.5 320.4,543.2 337.4,461 354.3,434.8 371.3,459.9 388.2,627.6 405.2,681 422.2,562.5 439.1,595.4 456.1,629.5 473,629 490,623.8 506.9,461 523.9,587.4 540.8,366.5 557.8,473.6 574.7,566 591.7,603.5 608.6,546.8 625.6,408.5 642.5,382.2 659.5,380.5 676.4,469.1 693.4,545 710.4,455.8 727.3,627.8 744.3,583.5 761.2,625.9 778.2,595.8 795.1,603.5 812.1,489 829,443.7 846,476.8 862.9,656.5 879.9,426 896.8,384.7 913.8,461 930.7,370 947.7,329.8 964.6,375.8 981.6,615.7 998.6,526.3 1015.5,552 1032.5,347.2 1049.4,419 1066.4,627.8 1083.3,659.5 1100.3,619.5 1117.2,363 1134.2,642 1151.1,514.2 1168.1,461.2 1185,609.8 1202,606.2" stroke-width="2.78" fill="none"/>
<circle cx="117" cy="602.8" r="3.75" stroke="none"/><circle cx="134" cy="509.8" r="3.75" stroke="none"/><circle cx="150.9" cy="671" r="3.75" stroke="none"/><circle cx="167.9" cy="603.6" r="3.75" stroke="none"/><circle cx="184.8" cy="601.4" r="3.75" stroke="none"/><circle cx="201.8" cy="550.2" r="3.75" stroke="none"/><circle cx="218.7" cy="663.3" r="3.75" stroke="none"/><circle cx="235.7" cy="549.2" r="3.75" stroke="none"/><circle cx="252.6" cy="514.2" r="3.75" stroke="none"/><circle cx="269.6" cy="444" r="3.75" stroke="none"/><circle cx="286.5" cy="501.2" r="3.75" stroke="none"/><circle cx="303.5" cy="548.5" r="3.75" stroke="none"/><circle cx="320.4" cy="543.2" r="3.75" stroke="none"/><circle cx="337.4" cy="461" r="3.75" stroke="none"/><circle cx="354.3" cy="434.8" r="3.75" stroke="none"/><circle cx="371.3" cy="459.9" r="3.75" stroke="none"/><circle cx="388.2" cy="627.6" r="3.75" stroke="none"/><circle cx="405.2" cy="681" r="3.75" stroke="none"/><circle cx="422.2" cy="562.5" r="3.75" stroke="none"/><circle cx="439.1" cy="595.4" r="3.75" stroke="none"/><circle cx="456.1" cy="629.5" r="3.75" stroke="none"/><circle cx="473" cy="629" r="3.75" stroke="none"/><circle cx="490" cy="623.8" r="3.75" stroke="none"/><circle cx="506.9" cy="461" r="3.75" stroke="none"/><circle cx="523.9" cy="587.4" r="3.75" stroke="none"/><circle cx="540.8" cy="366.5" r="3.75" stroke="none"/><circle cx="557.8" cy="473.6" r="3.75" stroke="none"/><circle cx="574.7" cy="566" r="3.75" stroke="none"/><circle cx="591.7" cy="603.5" r="3.75" stroke="none"/><circle cx="608.6" cy="546.8" r="3.75" stroke="none"/><circle cx="625.6" cy="408.5" r="3.75" stroke="none"/><circle cx="642.5" cy="382.2" r="3.75" stroke="none"/><circle cx="659.5" cy="380.5" r="3.75" stroke="none"/><circle cx="676.4" cy="469.1" r="3.75" stroke="none"/><circle cx="693.4" cy="545" r="3.75" stroke="none"/><circle cx="710.4" cy="455.8" r="3.75" stroke="none"/><circle cx="727.3" cy="627.8" r="3.75" stroke="none"/><circle cx="744.3" cy="583.5" r="3.75" stroke="none"/><circle cx="761.2" cy="625.9" r="3.75" stroke="none"/><circle cx="778.2" cy="595.8" r="3.75" stroke="none"/><circle cx="795.1" cy="603.5" r="3.75" stroke="none"/><circle cx="812.1" cy="489" r="3.75" stroke="none"/><circle cx="829" cy="443.7" r="3.75" stroke="none"/><circle cx="846" cy="476.8" r="3.75" stroke="none"/><circle cx="862.9" cy="656.5" r="3.75" stroke="none"/><circle cx="879.9" cy="426" r="3.75" stroke="none"/><circle cx="896.8" cy="384.7" r="3.75" stroke="none"/><circle cx="913.8" cy="461" r="3.75" stroke="none"/><circle cx="930.7" cy="370" r="3.75" stroke="none"/><circle cx="947.7" cy="329.8" r="3.75" stroke="none"/><circle cx="964.6" cy="375.8" r="3.75" stroke="none"/><circle cx="981.6" cy="615.7" r="3.75" stroke="none"/><circle cx="998.6" cy="526.3" r="3.75" stroke="none"/><circle cx="1015.5" cy="552" r="3.75" stroke="none"/><circle cx="1032.5" cy="347.2" r="3.75" stroke="none"/><circle cx="1049.4" cy="419" r="3.75" stroke="none"/><circle cx="1066.4" cy="627.8" r="3.75" stroke="none"/><circle cx="1083.3" cy="659.5" r="3.75" stroke="none"/><circle cx="1100.3" cy="619.5" r="3.75" stroke="none"/><circle cx="1117.2" cy="363" r="3.75" stroke="none"/><circle cx="1134.2" cy="642" r="3.75" stroke="none"/><circle cx="1151.1" cy="514.2" r="3.75" stroke="none"/><circle cx="1168.1" cy="461.2" r="3.75" stroke="none"/><circle cx="1185" cy="609.8" r="3.75" stroke="none"/><circle cx="1202" cy="606.2" r="3.75" stroke="none"/></g>
<g stroke="#000" fill="#000"><polyline points="117,591.4 134,509.8 150.9,646.3 167.9,600.5 184.8,593 201.8,545.4 218.7,654.7 235.7,526.6 252.6,466.8 269.6,479.9 286.5,474.3 303.5,538 320.4,516.6 337.4,419.5 354.3,380.5 371.3,479.2 388.2,618.5 405.2,614.3 422.2,569.7 439.1,573.4 456.1,598.9 473,614 490,567 506.9,526.6 523.9,523 540.8,468.7 557.8,431.2 574.7,508.8 591.7,540.5 608.6,473.6 625.6,413.8 642.5,474.3 659.5,562.5 676.4,546.2 693.4,486.6 710.4,500.4 727.3,559.5 744.3,557.2 761.2,500.4 778.2,524 795.1,559.5 812.1,509.1 829,471.5 846,493 862.9,493 879.9,474.3 896.8,451 913.8,482.9 930.7,535.2 947.7,516.5 964.6,480.6 981.6,538 998.6,570.9 1015.5,528.5 1032.5,486.6 1049.4,531 1066.4,556.5 1083.3,534.1 1100.3,513.5 1117.2,534.1 1134.2,566 1151.1,537.1 1168.1,523 1185,511.8 1202,545" stroke-width="5.56" fill="none"/>
<circle cx="117" cy="591.4" r="5.4" stroke="none"/><circle cx="134" cy="509.8" r="5.4" stroke="none"/><circle cx="150.9" cy="646.3" r="5.4" stroke="none"/><circle cx="167.9" cy="600.5" r="5.4" stroke="none"/><circle cx="184.8" cy="593" r="5.4" stroke="none"/><circle cx="201.8" cy="545.4" r="5.4" stroke="none"/><circle cx="218.7" cy="654.7" r="5.4" stroke="none"/><circle cx="235.7" cy="526.6" r="5.4" stroke="none"/><circle cx="252.6" cy="466.8" r="5.4" stroke="none"/><circle cx="269.6" cy="479.9" r="5.4" stroke="none"/><circle cx="286.5" cy="474.3" r="5.4" stroke="none"/><circle cx="303.5" cy="538" r="5.4" stroke="none"/><circle cx="320.4" cy="516.6" r="5.4" stroke="none"/><circle cx="337.4" cy="419.5" r="5.4" stroke="none"/><circle cx="354.3" cy="380.5" r="5.4" stroke="none"/><circle cx="371.3" cy="479.2" r="5.4" stroke="none"/><circle cx="388.2" cy="618.5" r="5.4" stroke="none"/><circle cx="405.2" cy="614.3" r="5.4" stroke="none"/><circle cx="422.2" cy="569.7" r="5.4" stroke="none"/><circle cx="439.1" cy="573.4" r="5.4" stroke="none"/><circle cx="456.1" cy="598.9" r="5.4" stroke="none"/><circle cx="473" cy="614" r="5.4" stroke="none"/><circle cx="490" cy="567" r="5.4" stroke="none"/><circle cx="506.9" cy="526.6" r="5.4" stroke="none"/><circle cx="523.9" cy="523" r="5.4" stroke="none"/><circle cx="540.8" cy="468.7" r="5.4" stroke="none"/><circle cx="557.8" cy="431.2" r="5.4" stroke="none"/><circle cx="574.7" cy="508.8" r="5.4" stroke="none"/><circle cx="591.7" cy="540.5" r="5.4" stroke="none"/><circle cx="608.6" cy="473.6" r="5.4" stroke="none"/><circle cx="625.6" cy="413.8" r="5.4" stroke="none"/><circle cx="642.5" cy="474.3" r="5.4" stroke="none"/><circle cx="659.5" cy="562.5" r="5.4" stroke="none"/><circle cx="676.4" cy="546.2" r="5.4" stroke="none"/><circle cx="693.4" cy="486.6" r="5.4" stroke="none"/><circle cx="710.4" cy="500.4" r="5.4" stroke="none"/><circle cx="727.3" cy="559.5" r="5.4" stroke="none"/><circle cx="744.3" cy="557.2" r="5.4" stroke="none"/><circle cx="761.2" cy="500.4" r="5.4" stroke="none"/><circle cx="778.2" cy="524" r="5.4" stroke="none"/><circle cx="795.1" cy="559.5" r="5.4" stroke="none"/><circle cx="812.1" cy="509.1" r="5.4" stroke="none"/><circle cx="829" cy="471.5" r="5.4" stroke="none"/><circle cx="846" cy="493" r="5.4" stroke="none"/><circle cx="862.9" cy="493" r="5.4" stroke="none"/><circle cx="879.9" cy="474.3" r="5.4" stroke="none"/><circle cx="896.8" cy="451" r="5.4" stroke="none"/><circle cx="913.8" cy="482.9" r="5.4" stroke="none"/><circle cx="930.7" cy="535.2" r="5.4" stroke="none"/><circle cx="947.7" cy="516.5" r="5.4" stroke="none"/><circle cx="964.6" cy="480.6" r="5.4" stroke="none"/><circle cx="981.6" cy="538" r="5.4" stroke="none"/><circle cx="998.6" cy="570.9" r="5.4" stroke="none"/><circle cx="1015.5" cy="528.5" r="5.4" stroke="none"/><circle cx="1032.5" cy="486.6" r="5.4" stroke="none"/><circle cx="1049.4" cy="531" r="5.4" stroke="none"/><circle cx="1066.4" cy="556.5" r="5.4" stroke="none"/><circle cx="1083.3" cy="534.1" r="5.4" stroke="none"/><circle cx="1100.3" cy="513.5" r="5.4" stroke="none"/><circle cx="1117.2" cy="534.1" r="5.4" stroke="none"/><circle cx="1134.2" cy="566" r="5.4" stroke="none"/><circle cx="1151.1" cy="537.1" r="5.4" stroke="none"/><circle cx="1168.1" cy="523" r="5.4" stroke="none"/><circle cx="1185" cy="511.8" r="5.4" stroke="none"/><circle cx="1202" cy="545" r="5.4" stroke="none"/></g>
</g>
<rect x="62.5" y="59.5" width="1194.0" height="678.0" fill="none" stroke="#000" stroke-width="1.11"/>
<path d="M83.5 737.5v4.9M150.5 737.5v4.9M218.5 737.5v4.9M286.5 737.5v4.9M354.5 737.5v4.9M422.5 737.5v4.9M489.5 737.5v4.9M557.5 737.5v4.9M625.5 737.5v4.9M693.5 737.5v4.9M761.5 737.5v4.9M829.5 737.5v4.9M896.5 737.5v4.9M964.5 737.5v4.9M1032.5 737.5v4.9M1100.5 737.5v4.9M1168.5 737.5v4.9M1235.5 737.5v4.9M62.5 706h-4.9M62.5 618.5h-4.9M62.5 531h-4.9M62.5 443.5h-4.9M62.5 356h-4.9M62.5 268.5h-4.9M62.5 181h-4.9M62.5 93.5h-4.9" stroke="#000" stroke-width="1.11" fill="none"/>
<rect x="1181.0" y="65.0" width="68.8" height="510.1" rx="2.8" fill="#fff" fill-opacity="0.8" stroke="#ccc" stroke-opacity="0.8" stroke-width="1.11"/>
<path d="M1186.5 90.3h21" stroke="#393b79" stroke-width="2.78" stroke-linecap="square"/><circle cx="1196.5" cy="90.3" r="3.75" fill="#393b79"/>
<path d="M1186.5 105.7h21" stroke="#5254a3" stroke-width="2.78" stroke-linecap="square"/><circle cx="1196.5" cy="105.7" r="3.75" fill="#5254a3"/>
<path d="M1186.5 121h21" stroke="#6b6ecf" stroke-width="2.78" stroke-linecap="square"/><circle cx="1196.5" cy="121" r="3.75" fill="#6b6ecf"/>
<path d="M1186.5 136.4h21" stroke="#9c9ede" stroke-width="2.78" stroke-linecap="square"/><circle cx="1196.5" cy="136.4" r="3.75" fill="#9c9ede"/>
<path d="M1186.5 151.7h21" stroke="#637939" stroke-width="2.78" stroke-linecap="square"/><circle cx="1196.5" cy="151.7" r="3.75" fill="#637939"/>
<path d="M1186.5 167.1h21" stroke="#8ca252" stroke-width="2.78" stroke-linecap="square"/><circle cx="1196.5" cy="167.1" r="3.75" fill="#8ca252"/>
<path d="M1186.5 182.5h21" stroke="#b5cf6b" stroke-width="2.78" stroke-linecap="square"/><circle cx="1196.5" cy="182.5" r="3.75" fill="#b5cf6b"/>
<path d="M1186.5 197.8h21" stroke="#cedb9c" stroke-width="2.78" stroke-linecap="square"/><circle cx="1196.5" cy="197.8" r="3.75" fill="#cedb9c"/>
<path d="M1186.5 213.2h21" stroke="#8c6d31" stroke-width="2.78" stroke-linecap="square"/><circle cx="1196.5" cy="213.2" r="3.75" fill="#8c6d31"/>
<path d="M1186.5 228.5h21" stroke="#bd9e39" stroke-width="2.78" stroke-linecap="square"/><circle cx="1196.5" cy="228.5" r="3.75" fill="#bd9e39"/>
<path d="M1186.5 243.9h21" stroke="#e7ba52" stroke-width="2.78" stroke-linecap="square"/><circle cx="1196.5" cy="243.9" r="3.75" fill="#e7ba52"/>
<path d="M1186.5 259.3h21" stroke="#e7cb94" stroke-width="2.78" stroke-linecap="square"/><circle cx="1196.5" cy="259.3" r="3.75" fill="#e7cb94"/>
<path d="M1186.5 274.6h21" stroke="#843c39" stroke-width="2.78" stroke-linecap="square"/><circle cx="1196.5" cy="274.6" r="3.75" fill="#843c39"/>
<path d="M1186.5 290h21" stroke="#ad494a" stroke-width="2.78" stroke-linecap="square"/><circle cx="1196.5" cy="290" r="3.75" fill="#ad494a"/>
<path d="M1186.5 305.3h21" stroke="#d6616b" stroke-width="2.78" stroke-linecap="square"/><circle cx="1196.5" cy="305.3" r="3.75" fill="#d6616b"/>
<path d="M1186.5 320.7h21" stroke="#e7969c" stroke-width="2.78" stroke-linecap="square"/><circle cx="1196.5" cy="320.7" r="3.75" fill="#e7969c"/>
<path d="M1186.5 336.1h21" stroke="#7b4173" stroke-width="2.78" stroke-linecap="square"/><circle cx="1196.5" cy="336.1" r="3.75" fill="#7b4173"/>
<path d="M1186.5 351.4h21" stroke="#a55194" stroke-width="2.78" stroke-linecap="square"/><circle cx="1196.5" cy="351.4" r="3.75" fill="#a55194"/>
<path d="M1186.5 366.8h21" stroke="#ce6dbd" stroke-width="2.78" stroke-linecap="square"/><circle cx="1196.5" cy="366.8" r="3.75" fill="#ce6dbd"/>
<path d="M1186.5 382.1h21" stroke="#de9ed6" stroke-width="2.78" stroke-linecap="square"/><circle cx="1196.5" cy="382.1" r="3.75" fill="#de9ed6"/>
<path d="M1186.5 397.5h21" stroke="#3182bd" stroke-width="2.78" stroke-linecap="square"/><circle cx="1196.5" cy="397.5" r="3.75" fill="#3182bd"/>
<path d="M1186.5 412.9h21" stroke="#6baed6" stroke-width="2.78" stroke-linecap="square"/><circle cx="1196.5" cy="412.9" r="3.75" fill="#6baed6"/>
<path d="M1186.5 428.2h21" stroke="#9ecae1" stroke-width="2.78" stroke-linecap="square"/><circle cx="1196.5" cy="428.2" r="3.75" fill="#9ecae1"/>
<path d="M1186.5 443.6h21" stroke="#c6dbef" stroke-width="2.78" stroke-linecap="square"/><circle cx="1196.5" cy="443.6" r="3.75" fill="#c6dbef"/>
<path d="M1186.5 458.9h21" stroke="#e6550d" stroke-width="2.78" stroke-linecap="square"/><circle cx="1196.5" cy="458.9" r="3.75" fill="#e6550d"/>
<path d="M1186.5 474.3h21" stroke="#fd8d3c" stroke-width="2.78" stroke-linecap="square"/><circle cx="1196.5" cy="474.3" r="3.75" fill="#fd8d3c"/>
<path d="M1186.5 489.7h21" stroke="#fdae6b" stroke-width="2.78" stroke-linecap="square"/><circle cx="1196.5" cy="489.7" r="3.75" fill="#fdae6b"/>
<path d="M1186.5 505h21" stroke="#fdd0a2" stroke-width="2.78" stroke-linecap="square"/><circle cx="1196.5" cy="505" r="3.75" fill="#fdd0a2"/>
<path d="M1186.5 520.4h21" stroke="#31a354" stroke-width="2.78" stroke-linecap="square"/><circle cx="1196.5" cy="520.4" r="3.75" fill="#31a354"/>
<path d="M1186.5 535.7h21" stroke="#74c476" stroke-width="2.78" stroke-linecap="square"/><circle cx="1196.5" cy="535.7" r="3.75" fill="#74c476"/>
<path d="M1186.5 551.1h21" stroke="#a1d99b" stroke-width="2.78" stroke-linecap="square"/><circle cx="1196.5" cy="551.1" r="3.75" fill="#a1d99b"/>
<path d="M1186.5 566.5h21" stroke="#000" stroke-width="5.56" stroke-linecap="square"/><circle cx="1196.5" cy="566.5" r="5.4" fill="#000"/>
</svg>
<div id="tx"><div class="t" style="font-size:16.5px;letter-spacing:0.42px;left:55.7px;top:746.2px;">00Z/20</div>
<div class="t" style="font-size:16.5px;letter-spacing:-1.33px;left:74.8px;top:763.3px;">Fri</div>
<div class="t" style="font-size:16.5px;letter-spacing:0.42px;left:123.51px;top:746.2px;">00Z/21</div>
<div class="t" style="font-size:16.5px;letter-spacing:-0.39px;left:138.91px;top:763.3px;">Sat</div>
<div class="t" style="font-size:16.5px;letter-spacing:0.42px;left:191.32px;top:746.2px;">00Z/22</div>
<div class="t" style="font-size:16.5px;letter-spacing:-1.08px;left:205.12px;top:763.3px;">Sun</div>
<div class="t" style="font-size:16.5px;letter-spacing:0.42px;left:259.14px;top:746.2px;">00Z/23</div>
<div class="t" style="font-size:16.5px;letter-spacing:-0.95px;left:271.44px;top:763.3px;">Mon</div>
<div class="t" style="font-size:16.5px;letter-spacing:0.42px;left:326.95px;top:746.2px;">00Z/24</div>
<div class="t" style="font-size:16.5px;letter-spacing:-0.91px;left:341.35px;top:763.3px;">Tue</div>
<div class="t" style="font-size:16.5px;letter-spacing:0.42px;left:394.76px;top:746.2px;">00Z/25</div>
<div class="t" style="font-size:16.5px;letter-spacing:-1.07px;left:406.41px;top:763.3px;">Wed</div>
<div class="t" style="font-size:16.5px;letter-spacing:0.42px;left:462.57px;top:746.2px;">00Z/26</div>
<div class="t" style="font-size:16.5px;letter-spacing:-0.72px;left:476.47px;top:763.3px;">Thu</div>
<div class="t" style="font-size:16.5px;letter-spacing:0.42px;left:530.38px;top:746.2px;">00Z/27</div>
<div class="t" style="font-size:16.5px;letter-spacing:-1.33px;left:549.48px;top:763.3px;">Fri</div>
<div class="t" style="font-size:16.5px;letter-spacing:0.42px;left:598.2px;top:746.2px;">00Z/28</div>
<div class="t" style="font-size:16.5px;letter-spacing:-0.39px;left:613.6px;top:763.3px;">Sat</div>
<div class="t" style="font-size:16.5px;letter-spacing:0.42px;left:666.01px;top:746.2px;">00Z/29</div>
<div class="t" style="font-size:16.5px;letter-spacing:-1.08px;left:679.81px;top:763.3px;">Sun</div>
<div class="t" style="font-size:16.5px;letter-spacing:0.42px;left:733.82px;top:746.2px;">00Z/30</div>
<div class="t" style="font-size:16.5px;letter-spacing:-0.95px;left:746.12px;top:763.3px;">Mon</div>
<div class="t" style="font-size:16.5px;letter-spacing:0.42px;left:801.63px;top:746.2px;">00Z/31</div>
<div class="t" style="font-size:16.5px;letter-spacing:-0.91px;left:816.03px;top:763.3px;">Tue</div>
<div class="t" style="font-size:16.5px;letter-spacing:0.42px;left:869.44px;top:746.2px;">00Z/01</div>
<div class="t" style="font-size:16.5px;letter-spacing:-1.07px;left:881.09px;top:763.3px;">Wed</div>
<div class="t" style="font-size:16.5px;letter-spacing:0.42px;left:937.26px;top:746.2px;">00Z/02</div>
<div class="t" style="font-size:16.5px;letter-spacing:-0.72px;left:951.16px;top:763.3px;">Thu</div>
<div class="t" style="font-size:16.5px;letter-spacing:0.42px;left:1005.07px;top:746.2px;">00Z/03</div>
<div class="t" style="font-size:16.5px;letter-spacing:-1.33px;left:1024.17px;top:763.3px;">Fri</div>
<div class="t" style="font-size:16.5px;letter-spacing:0.42px;left:1072.88px;top:746.2px;">00Z/04</div>
<div class="t" style="font-size:16.5px;letter-spacing:-0.39px;left:1088.28px;top:763.3px;">Sat</div>
<div class="t" style="font-size:16.5px;letter-spacing:0.42px;left:1140.69px;top:746.2px;">00Z/05</div>
<div class="t" style="font-size:16.5px;letter-spacing:-1.08px;left:1154.49px;top:763.3px;">Sun</div>
<div class="t" style="font-size:16.5px;letter-spacing:0.42px;left:1208.5px;top:746.2px;">00Z/06</div>
<div class="t" style="font-size:16.5px;letter-spacing:-0.95px;left:1220.8px;top:763.3px;">Mon</div>
<div class="t" style="font-size:16.5px;letter-spacing:0px;left:41.6px;top:697.95px;">0</div>
<div class="t" style="font-size:16.5px;letter-spacing:0px;left:41.6px;top:610.45px;">5</div>
<div class="t" style="font-size:16.5px;letter-spacing:-1.56px;left:32.8px;top:522.95px;">10</div>
<div class="t" style="font-size:16.5px;letter-spacing:-1.56px;left:32.8px;top:435.45px;">15</div>
<div class="t" style="font-size:16.5px;letter-spacing:-1.56px;left:32.8px;top:347.95px;">20</div>
<div class="t" style="font-size:16.5px;letter-spacing:-1.56px;left:32.8px;top:260.45px;">25</div>
<div class="t" style="font-size:16.5px;letter-spacing:-1.56px;left:32.8px;top:172.95px;">30</div>
<div class="t" style="font-size:16.5px;letter-spacing:-1.56px;left:32.8px;top:85.45px;">35</div>
<div class="t" style="font-size:16.3px;letter-spacing:0.39px;left:598.2px;top:785.06px;">time (UTC)/date</div>
<div class="t" style="font-size:12.2px;letter-spacing:0.59px;left:1108.6px;top:705.77px;">Data source: NOAA</div>
<div class="t" style="font-size:12.2px;letter-spacing:0.59px;left:1042.3px;top:720.17px;">plot by Russ Schumacher/CSU</div>
<div class="t" style="font-size:12px;letter-spacing:0.8px;left:1192.5px;top:68.03px;">member</div>
<div class="t" style="font-size:11px;letter-spacing:0.08px;left:1216.4px;top:84.86px;">c00</div>
<div class="t" style="font-size:11px;letter-spacing:0.22px;left:1216.4px;top:100.22px;">p01</div>
<div class="t" style="font-size:11px;letter-spacing:0.22px;left:1216.4px;top:115.58px;">p02</div>
<div class="t" style="font-size:11px;letter-spacing:0.22px;left:1216.4px;top:130.94px;">p03</div>
<div class="t" style="font-size:11px;letter-spacing:0.22px;left:1216.4px;top:146.3px;">p04</div>
<div class="t" style="font-size:11px;letter-spacing:0.22px;left:1216.4px;top:161.66px;">p05</div>
<div class="t" style="font-size:11px;letter-spacing:0.22px;left:1216.4px;top:177.02px;">p06</div>
<div class="t" style="font-size:11px;letter-spacing:0.22px;left:1216.4px;top:192.38px;">p07</div>
<div class="t" style="font-size:11px;letter-spacing:0.22px;left:1216.4px;top:207.74px;">p08</div>
<div class="t" style="font-size:11px;letter-spacing:0.22px;left:1216.4px;top:223.1px;">p09</div>
<div class="t" style="font-size:11px;letter-spacing:0.22px;left:1216.4px;top:238.46px;">p10</div>
<div class="t" style="font-size:11px;letter-spacing:0.63px;left:1216.4px;top:253.82px;">p11</div>
<div class="t" style="font-size:11px;letter-spacing:0.22px;left:1216.4px;top:269.18px;">p12</div>
<div class="t" style="font-size:11px;letter-spacing:0.22px;left:1216.4px;top:284.54px;">p13</div>
<div class="t" style="font-size:11px;letter-spacing:0.22px;left:1216.4px;top:299.9px;">p14</div>
<div class="t" style="font-size:11px;letter-spacing:0.22px;left:1216.4px;top:315.26px;">p15</div>
<div class="t" style="font-size:11px;letter-spacing:0.22px;left:1216.4px;top:330.62px;">p16</div>
<div class="t" style="font-size:11px;letter-spacing:0.22px;left:1216.4px;top:345.98px;">p17</div>
<div class="t" style="font-size:11px;letter-spacing:0.22px;left:1216.4px;top:361.34px;">p18</div>
<div class="t" style="font-size:11px;letter-spacing:0.22px;left:1216.4px;top:376.7px;">p19</div>
<div class="t" style="font-size:11px;letter-spacing:0.22px;left:1216.4px;top:392.06px;">p20</div>
<div class="t" style="font-size:11px;letter-spacing:0.22px;left:1216.4px;top:407.42px;">p21</div>
<div class="t" style="font-size:11px;letter-spacing:0.22px;left:1216.4px;top:422.78px;">p22</div>
<div class="t" style="font-size:11px;letter-spacing:0.22px;left:1216.4px;top:438.14px;">p23</div>
<div class="t" style="font-size:11px;letter-spacing:0.22px;left:1216.4px;top:453.5px;">p24</div>
<div class="t" style="font-size:11px;letter-spacing:0.22px;left:1216.4px;top:468.86px;">p25</div>
<div class="t" style="font-size:11px;letter-spacing:0.22px;left:1216.4px;top:484.22px;">p26</div>
<div class="t" style="font-size:11px;letter-spacing:0.22px;left:1216.4px;top:499.58px;">p27</div>
<div class="t" style="font-size:11px;letter-spacing:0.22px;left:1216.4px;top:514.94px;">p28</div>
<div class="t" style="font-size:11px;letter-spacing:0.22px;left:1216.4px;top:530.3px;">p29</div>
<div class="t" style="font-size:11px;letter-spacing:0.22px;left:1216.4px;top:545.66px;">p30</div>
<div class="t" style="font-size:11px;letter-spacing:0.69px;left:1216.4px;top:561.02px;">mean</div>
<div class="t" style="font-size:16.3px;letter-spacing:0.51px;left:8.06px;top:471.2px;transform-origin:0 0;transform:rotate(-90deg);">wind speed (knots)</div>
<div class="t" style="font-size:18.9px;left:442.4px;top:9.6px;font-weight:bold;"><span style="position:absolute;left:0px;top:0;letter-spacing:0.94px">NCEP</span> <span style="position:absolute;left:61.4px;top:0;letter-spacing:0.09px">GEFS</span> <span style="position:absolute;left:121.4px;top:0;letter-spacing:2.43px">10-m</span> <span style="position:absolute;left:179.3px;top:0;letter-spacing:1.56px">wind</span> <span style="position:absolute;left:234.9px;top:0;letter-spacing:2.42px">speed</span> <span style="position:absolute;left:304.7px;top:0;letter-spacing:3px">at</span> <span style="position:absolute;left:331.8px;top:0;letter-spacing:1.8px">Lamar</span></div>
<div class="t" style="font-size:18.7px;left:507.8px;top:34.37px;"><span style="position:absolute;left:0px;top:0;letter-spacing:1.05px">init:</span> <span style="position:absolute;left:40.5px;top:0;letter-spacing:0.46px">Friday</span> <span style="position:absolute;left:102.7px;top:0;letter-spacing:0.93px">2026-03-20</span> <span style="position:absolute;left:215.1px;top:0;letter-spacing:0.57px">1200</span> <span style="position:absolute;left:267.1px;top:0;letter-spacing:-1.85px">UTC</span></div></div>
</div></body></html>
